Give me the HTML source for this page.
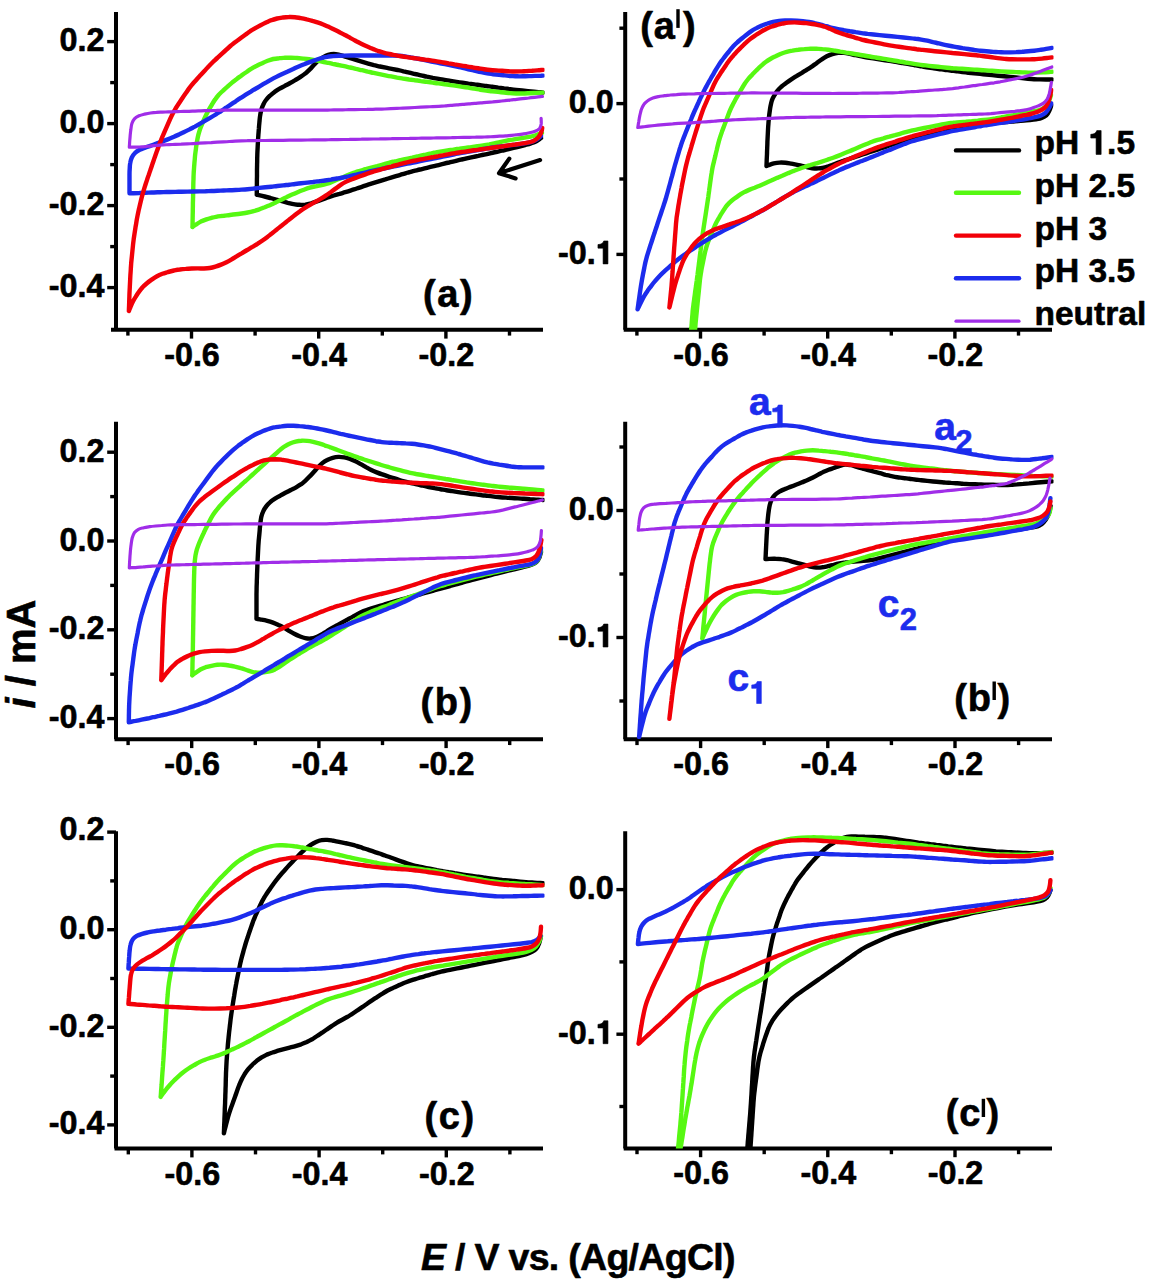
<!DOCTYPE html>
<html><head><meta charset="utf-8"><style>html,body{margin:0;padding:0;background:#fff;overflow:hidden;}svg{display:block;}text{stroke:#000;stroke-width:0.6px;stroke-linejoin:round;}text.bl{stroke:#1c2ced;}tspan.h1{fill-opacity:0;stroke-opacity:0;}</style></head>
<body><svg width="1149" height="1280" viewBox="0 0 1149 1280" font-family="'Liberation Sans', sans-serif" font-weight="bold">
<rect width="1149" height="1280" fill="#fff"/>
<line x1="116.0" y1="12" x2="116.0" y2="329.8" stroke="#000" stroke-width="4.0"/>
<line x1="111" y1="329.8" x2="543" y2="329.8" stroke="#000" stroke-width="4.0"/>
<line x1="107.2" y1="41.6" x2="116.0" y2="41.6" stroke="#000" stroke-width="3.4"/>
<text x="104.5" y="51.1" text-anchor="end" font-size="32.3">0.2</text>
<line x1="110.2" y1="82.6" x2="116.0" y2="82.6" stroke="#000" stroke-width="3.4"/>
<line x1="107.2" y1="123.6" x2="116.0" y2="123.6" stroke="#000" stroke-width="3.4"/>
<text x="104.5" y="133.1" text-anchor="end" font-size="32.3">0.0</text>
<line x1="110.2" y1="164.6" x2="116.0" y2="164.6" stroke="#000" stroke-width="3.4"/>
<line x1="107.2" y1="205.6" x2="116.0" y2="205.6" stroke="#000" stroke-width="3.4"/>
<text x="104.5" y="215.1" text-anchor="end" font-size="32.3">-0.2</text>
<line x1="110.2" y1="246.6" x2="116.0" y2="246.6" stroke="#000" stroke-width="3.4"/>
<line x1="107.2" y1="287.6" x2="116.0" y2="287.6" stroke="#000" stroke-width="3.4"/>
<text x="104.5" y="297.1" text-anchor="end" font-size="32.3">-0.4</text>
<line x1="127.9" y1="329.8" x2="127.9" y2="335.6" stroke="#000" stroke-width="3.4"/>
<line x1="191.5" y1="329.8" x2="191.5" y2="338.6" stroke="#000" stroke-width="3.4"/>
<text x="192.0" y="365.8" text-anchor="middle" font-size="32.3">-0.6</text>
<line x1="255.1" y1="329.8" x2="255.1" y2="335.6" stroke="#000" stroke-width="3.4"/>
<line x1="318.7" y1="329.8" x2="318.7" y2="338.6" stroke="#000" stroke-width="3.4"/>
<text x="319.2" y="365.8" text-anchor="middle" font-size="32.3">-0.4</text>
<line x1="382.3" y1="329.8" x2="382.3" y2="335.6" stroke="#000" stroke-width="3.4"/>
<line x1="445.9" y1="329.8" x2="445.9" y2="338.6" stroke="#000" stroke-width="3.4"/>
<text x="446.4" y="365.8" text-anchor="middle" font-size="32.3">-0.2</text>
<line x1="509.5" y1="329.8" x2="509.5" y2="335.6" stroke="#000" stroke-width="3.4"/>
<line x1="625.2" y1="12" x2="625.2" y2="329.8" stroke="#000" stroke-width="4.0"/>
<line x1="623.7" y1="329.8" x2="1052" y2="329.8" stroke="#000" stroke-width="4.0"/>
<line x1="619.4000000000001" y1="28.2" x2="625.2" y2="28.2" stroke="#000" stroke-width="3.4"/>
<line x1="616.4000000000001" y1="103.6" x2="625.2" y2="103.6" stroke="#000" stroke-width="3.4"/>
<text x="613.7" y="113.1" text-anchor="end" font-size="32.3">0.0</text>
<line x1="619.4000000000001" y1="179.0" x2="625.2" y2="179.0" stroke="#000" stroke-width="3.4"/>
<line x1="616.4000000000001" y1="254.4" x2="625.2" y2="254.4" stroke="#000" stroke-width="3.4"/>
<text x="613.7" y="263.9" text-anchor="end" font-size="32.3">-0.<tspan class="h1">1</tspan></text>
<line x1="636.9" y1="329.8" x2="636.9" y2="335.6" stroke="#000" stroke-width="3.4"/>
<line x1="700.5" y1="329.8" x2="700.5" y2="338.6" stroke="#000" stroke-width="3.4"/>
<text x="701.0" y="365.8" text-anchor="middle" font-size="32.3">-0.6</text>
<line x1="764.1" y1="329.8" x2="764.1" y2="335.6" stroke="#000" stroke-width="3.4"/>
<line x1="827.7" y1="329.8" x2="827.7" y2="338.6" stroke="#000" stroke-width="3.4"/>
<text x="828.2" y="365.8" text-anchor="middle" font-size="32.3">-0.4</text>
<line x1="891.3" y1="329.8" x2="891.3" y2="335.6" stroke="#000" stroke-width="3.4"/>
<line x1="954.9" y1="329.8" x2="954.9" y2="338.6" stroke="#000" stroke-width="3.4"/>
<text x="955.4" y="365.8" text-anchor="middle" font-size="32.3">-0.2</text>
<line x1="1018.5" y1="329.8" x2="1018.5" y2="335.6" stroke="#000" stroke-width="3.4"/>
<line x1="116.0" y1="421.8" x2="116.0" y2="739.3" stroke="#000" stroke-width="4.0"/>
<line x1="114.5" y1="739.3" x2="543" y2="739.3" stroke="#000" stroke-width="4.0"/>
<line x1="107.2" y1="452.2" x2="116.0" y2="452.2" stroke="#000" stroke-width="3.4"/>
<text x="104.5" y="461.7" text-anchor="end" font-size="32.3">0.2</text>
<line x1="110.2" y1="496.6" x2="116.0" y2="496.6" stroke="#000" stroke-width="3.4"/>
<line x1="107.2" y1="541.0" x2="116.0" y2="541.0" stroke="#000" stroke-width="3.4"/>
<text x="104.5" y="550.5" text-anchor="end" font-size="32.3">0.0</text>
<line x1="110.2" y1="585.4" x2="116.0" y2="585.4" stroke="#000" stroke-width="3.4"/>
<line x1="107.2" y1="629.8" x2="116.0" y2="629.8" stroke="#000" stroke-width="3.4"/>
<text x="104.5" y="639.3" text-anchor="end" font-size="32.3">-0.2</text>
<line x1="110.2" y1="674.2" x2="116.0" y2="674.2" stroke="#000" stroke-width="3.4"/>
<line x1="107.2" y1="718.6" x2="116.0" y2="718.6" stroke="#000" stroke-width="3.4"/>
<text x="104.5" y="728.1" text-anchor="end" font-size="32.3">-0.4</text>
<line x1="128.1" y1="739.3" x2="128.1" y2="745.0999999999999" stroke="#000" stroke-width="3.4"/>
<line x1="191.7" y1="739.3" x2="191.7" y2="748.0999999999999" stroke="#000" stroke-width="3.4"/>
<text x="192.2" y="775.3" text-anchor="middle" font-size="32.3">-0.6</text>
<line x1="255.3" y1="739.3" x2="255.3" y2="745.0999999999999" stroke="#000" stroke-width="3.4"/>
<line x1="318.9" y1="739.3" x2="318.9" y2="748.0999999999999" stroke="#000" stroke-width="3.4"/>
<text x="319.4" y="775.3" text-anchor="middle" font-size="32.3">-0.4</text>
<line x1="382.5" y1="739.3" x2="382.5" y2="745.0999999999999" stroke="#000" stroke-width="3.4"/>
<line x1="446.1" y1="739.3" x2="446.1" y2="748.0999999999999" stroke="#000" stroke-width="3.4"/>
<text x="446.6" y="775.3" text-anchor="middle" font-size="32.3">-0.2</text>
<line x1="509.7" y1="739.3" x2="509.7" y2="745.0999999999999" stroke="#000" stroke-width="3.4"/>
<line x1="625.2" y1="421.8" x2="625.2" y2="739.3" stroke="#000" stroke-width="4.0"/>
<line x1="623.7" y1="739.3" x2="1052" y2="739.3" stroke="#000" stroke-width="4.0"/>
<line x1="619.4000000000001" y1="447.0" x2="625.2" y2="447.0" stroke="#000" stroke-width="3.4"/>
<line x1="616.4000000000001" y1="510.5" x2="625.2" y2="510.5" stroke="#000" stroke-width="3.4"/>
<text x="613.7" y="520.0" text-anchor="end" font-size="32.3">0.0</text>
<line x1="619.4000000000001" y1="574.0" x2="625.2" y2="574.0" stroke="#000" stroke-width="3.4"/>
<line x1="616.4000000000001" y1="637.5" x2="625.2" y2="637.5" stroke="#000" stroke-width="3.4"/>
<text x="613.7" y="647.0" text-anchor="end" font-size="32.3">-0.<tspan class="h1">1</tspan></text>
<line x1="619.4000000000001" y1="701.0" x2="625.2" y2="701.0" stroke="#000" stroke-width="3.4"/>
<line x1="637.0" y1="739.3" x2="637.0" y2="745.0999999999999" stroke="#000" stroke-width="3.4"/>
<line x1="700.6" y1="739.3" x2="700.6" y2="748.0999999999999" stroke="#000" stroke-width="3.4"/>
<text x="701.1" y="775.3" text-anchor="middle" font-size="32.3">-0.6</text>
<line x1="764.2" y1="739.3" x2="764.2" y2="745.0999999999999" stroke="#000" stroke-width="3.4"/>
<line x1="827.8" y1="739.3" x2="827.8" y2="748.0999999999999" stroke="#000" stroke-width="3.4"/>
<text x="828.3" y="775.3" text-anchor="middle" font-size="32.3">-0.4</text>
<line x1="891.4" y1="739.3" x2="891.4" y2="745.0999999999999" stroke="#000" stroke-width="3.4"/>
<line x1="955.0" y1="739.3" x2="955.0" y2="748.0999999999999" stroke="#000" stroke-width="3.4"/>
<text x="955.5" y="775.3" text-anchor="middle" font-size="32.3">-0.2</text>
<line x1="1018.6" y1="739.3" x2="1018.6" y2="745.0999999999999" stroke="#000" stroke-width="3.4"/>
<line x1="116.0" y1="831.3" x2="116.0" y2="1148.6" stroke="#000" stroke-width="4.0"/>
<line x1="114.5" y1="1148.6" x2="543" y2="1148.6" stroke="#000" stroke-width="4.0"/>
<line x1="107.2" y1="832.1" x2="116.0" y2="832.1" stroke="#000" stroke-width="3.4"/>
<text x="104.5" y="839.6" text-anchor="end" font-size="32.3">0.2</text>
<line x1="110.2" y1="880.9" x2="116.0" y2="880.9" stroke="#000" stroke-width="3.4"/>
<line x1="107.2" y1="929.7" x2="116.0" y2="929.7" stroke="#000" stroke-width="3.4"/>
<text x="104.5" y="939.2" text-anchor="end" font-size="32.3">0.0</text>
<line x1="110.2" y1="978.5" x2="116.0" y2="978.5" stroke="#000" stroke-width="3.4"/>
<line x1="107.2" y1="1027.3" x2="116.0" y2="1027.3" stroke="#000" stroke-width="3.4"/>
<text x="104.5" y="1036.8" text-anchor="end" font-size="32.3">-0.2</text>
<line x1="110.2" y1="1076.1" x2="116.0" y2="1076.1" stroke="#000" stroke-width="3.4"/>
<line x1="107.2" y1="1124.9" x2="116.0" y2="1124.9" stroke="#000" stroke-width="3.4"/>
<text x="104.5" y="1134.4" text-anchor="end" font-size="32.3">-0.4</text>
<line x1="128.3" y1="1148.6" x2="128.3" y2="1154.3999999999999" stroke="#000" stroke-width="3.4"/>
<line x1="191.9" y1="1148.6" x2="191.9" y2="1157.3999999999999" stroke="#000" stroke-width="3.4"/>
<text x="192.4" y="1184.6" text-anchor="middle" font-size="32.3">-0.6</text>
<line x1="255.5" y1="1148.6" x2="255.5" y2="1154.3999999999999" stroke="#000" stroke-width="3.4"/>
<line x1="319.1" y1="1148.6" x2="319.1" y2="1157.3999999999999" stroke="#000" stroke-width="3.4"/>
<text x="319.6" y="1184.6" text-anchor="middle" font-size="32.3">-0.4</text>
<line x1="382.7" y1="1148.6" x2="382.7" y2="1154.3999999999999" stroke="#000" stroke-width="3.4"/>
<line x1="446.3" y1="1148.6" x2="446.3" y2="1157.3999999999999" stroke="#000" stroke-width="3.4"/>
<text x="446.8" y="1184.6" text-anchor="middle" font-size="32.3">-0.2</text>
<line x1="509.9" y1="1148.6" x2="509.9" y2="1154.3999999999999" stroke="#000" stroke-width="3.4"/>
<line x1="625.2" y1="831.3" x2="625.2" y2="1148.4" stroke="#000" stroke-width="4.0"/>
<line x1="623.7" y1="1148.4" x2="1052" y2="1148.4" stroke="#000" stroke-width="4.0"/>
<line x1="616.4000000000001" y1="889.6" x2="625.2" y2="889.6" stroke="#000" stroke-width="3.4"/>
<text x="613.7" y="899.1" text-anchor="end" font-size="32.3">0.0</text>
<line x1="619.4000000000001" y1="961.9" x2="625.2" y2="961.9" stroke="#000" stroke-width="3.4"/>
<line x1="616.4000000000001" y1="1034.2" x2="625.2" y2="1034.2" stroke="#000" stroke-width="3.4"/>
<text x="613.7" y="1043.7" text-anchor="end" font-size="32.3">-0.<tspan class="h1">1</tspan></text>
<line x1="619.4000000000001" y1="1106.5" x2="625.2" y2="1106.5" stroke="#000" stroke-width="3.4"/>
<line x1="637.0" y1="1148.4" x2="637.0" y2="1154.2" stroke="#000" stroke-width="3.4"/>
<line x1="700.6" y1="1148.4" x2="700.6" y2="1157.2" stroke="#000" stroke-width="3.4"/>
<text x="701.1" y="1184.4" text-anchor="middle" font-size="32.3">-0.6</text>
<line x1="764.2" y1="1148.4" x2="764.2" y2="1154.2" stroke="#000" stroke-width="3.4"/>
<line x1="827.8" y1="1148.4" x2="827.8" y2="1157.2" stroke="#000" stroke-width="3.4"/>
<text x="828.3" y="1184.4" text-anchor="middle" font-size="32.3">-0.4</text>
<line x1="891.4" y1="1148.4" x2="891.4" y2="1154.2" stroke="#000" stroke-width="3.4"/>
<line x1="955.0" y1="1148.4" x2="955.0" y2="1157.2" stroke="#000" stroke-width="3.4"/>
<text x="955.5" y="1184.4" text-anchor="middle" font-size="32.3">-0.2</text>
<line x1="1018.6" y1="1148.4" x2="1018.6" y2="1154.2" stroke="#000" stroke-width="3.4"/>
<text x="423" y="306.8" font-size="38" letter-spacing="1.6">(a)</text>
<text x="420.5" y="715" font-size="38" letter-spacing="1.6">(b)</text>
<text x="424.5" y="1128.5" font-size="38" letter-spacing="1.6">(c)</text>
<text x="640.3" y="38.5" font-size="38" letter-spacing="0.8">(a</text>
<rect x="676.3" y="9.2" width="3.4" height="18.7" fill="#000"/>
<text x="683" y="38.5" font-size="38">)</text>
<text x="954.3" y="710.5" font-size="38" letter-spacing="0.8">(b</text>
<rect x="992.5" y="681.5" width="3.4" height="18.5" fill="#000"/>
<text x="997.5" y="710.5" font-size="38">)</text>
<text x="945.8" y="1126" font-size="38" letter-spacing="0.8">(c</text>
<rect x="981.7" y="1098.8" width="3.4" height="18.200000000000045" fill="#000"/>
<text x="986.5" y="1126" font-size="38">)</text>
<line x1="956" y1="150.4" x2="1019" y2="150.4" stroke="#000000" stroke-width="4.4" stroke-linecap="round"/>
<text x="1034.5" y="154.4" font-size="33.5">pH <tspan class="h1">1</tspan>.5</text>
<line x1="956" y1="192.8" x2="1019" y2="192.8" stroke="#56f812" stroke-width="4.4" stroke-linecap="round"/>
<text x="1034.5" y="196.8" font-size="33.5">pH 2.5</text>
<line x1="956" y1="235.6" x2="1019" y2="235.6" stroke="#f20008" stroke-width="4.4" stroke-linecap="round"/>
<text x="1034.5" y="239.6" font-size="33.5">pH 3</text>
<line x1="956" y1="278.3" x2="1019" y2="278.3" stroke="#1c2ced" stroke-width="4.4" stroke-linecap="round"/>
<text x="1034.5" y="282.3" font-size="33.5">pH 3.5</text>
<line x1="956" y1="321.2" x2="1019" y2="321.2" stroke="#a02de8" stroke-width="3.2" stroke-linecap="round"/>
<text x="1034.5" y="325.2" font-size="33.5">neutral</text>
<text x="421" y="1270.4" font-size="37.5" letter-spacing="-0.7"><tspan font-style="italic">E</tspan> / V vs. (Ag/AgCl)</text>
<text transform="translate(34.5,708.5) rotate(-90)" font-size="40"><tspan font-style="italic">i</tspan> / mA</text>
<text x="749" y="414.7" font-size="39" fill="#1c2ced" class="bl">a</text><text x="770.6" y="427" font-size="31" fill="#1c2ced" class="bl"><tspan class="h1">1</tspan></text>
<text x="934.2" y="439.5" font-size="39" fill="#1c2ced" class="bl">a</text><text x="955.3" y="452" font-size="31" fill="#1c2ced" class="bl">2</text>
<text x="727.4" y="691" font-size="39" fill="#1c2ced" class="bl">c</text><text x="749.6" y="703.5" font-size="31" fill="#1c2ced" class="bl"><tspan class="h1">1</tspan></text>
<text x="877.7" y="616.6" font-size="39" fill="#1c2ced" class="bl">c</text><text x="899.8" y="630" font-size="31" fill="#1c2ced" class="bl">2</text>
<path d="M540.1,160.1 L499.5,173 M509.3,158.6 L499,173.2 L515.6,178.4" fill="none" stroke="#000" stroke-width="4.2" stroke-linecap="round" stroke-linejoin="round"/>
<clipPath id="cla"><rect x="116.0" y="0" width="428.5" height="329.8"/></clipPath>
<clipPath id="clap"><rect x="625.2" y="0" width="428.29999999999995" height="329.8"/></clipPath>
<clipPath id="clb"><rect x="116.0" y="409.8" width="428.5" height="329.49999999999994"/></clipPath>
<clipPath id="clbp"><rect x="625.2" y="409.8" width="428.29999999999995" height="329.49999999999994"/></clipPath>
<clipPath id="clc"><rect x="116.0" y="819.3" width="428.5" height="329.29999999999995"/></clipPath>
<clipPath id="clcp"><rect x="625.2" y="819.3" width="428.29999999999995" height="329.10000000000014"/></clipPath>
<g clip-path="url(#cla)">
<path d="M541.0,138.0 C540.2,138.5 538.0,140.4 536.3,141.3 C534.6,142.2 532.7,142.8 530.9,143.4 C529.0,144.1 527.1,144.5 525.1,145.0 C523.2,145.5 521.2,146.0 519.3,146.5 C517.4,147.0 515.4,147.5 513.5,147.9 C511.5,148.4 509.6,148.9 507.7,149.4 C505.7,149.8 503.8,150.3 501.8,150.7 C499.9,151.1 497.9,151.6 496.0,152.0 C494.0,152.4 492.0,152.9 490.1,153.3 C488.1,153.7 486.2,154.1 484.2,154.6 C482.3,155.0 480.3,155.4 478.4,155.9 C476.4,156.3 474.5,156.7 472.5,157.1 C470.6,157.6 468.6,158.0 466.6,158.4 C464.7,158.9 462.7,159.3 460.8,159.7 C458.8,160.2 456.9,160.6 454.9,161.1 C453.0,161.5 451.1,162.0 449.1,162.5 C447.2,162.9 445.2,163.4 443.3,163.9 C441.3,164.4 439.4,164.8 437.4,165.3 C435.5,165.8 433.6,166.2 431.6,166.7 C429.7,167.2 427.7,167.6 425.8,168.1 C423.8,168.6 421.9,169.0 419.9,169.5 C418.0,170.0 416.1,170.4 414.1,170.9 C412.2,171.4 410.3,172.0 408.3,172.5 C406.4,173.1 404.5,173.6 402.6,174.2 C400.7,174.8 398.7,175.3 396.8,175.9 C394.9,176.5 393.0,177.1 391.1,177.6 C389.2,178.2 387.2,178.8 385.3,179.4 C383.4,179.9 381.5,180.5 379.6,181.1 C377.7,181.7 375.8,182.3 373.8,182.9 C371.9,183.5 370.0,184.1 368.1,184.7 C366.2,185.3 364.3,186.0 362.4,186.6 C360.5,187.2 358.6,187.9 356.7,188.5 C354.8,189.1 353.0,189.8 351.1,190.4 C349.2,191.0 347.2,191.6 345.3,192.2 C343.4,192.8 341.5,193.3 339.6,193.9 C337.7,194.4 335.7,194.9 333.8,195.5 C331.9,196.1 330.0,196.7 328.1,197.3 C326.2,198.0 324.4,198.7 322.5,199.4 C320.6,200.1 318.7,200.8 316.8,201.4 C314.9,202.1 313.1,202.7 311.1,203.3 C309.2,203.8 307.3,204.3 305.4,204.6 C303.4,204.8 301.5,204.9 299.5,204.8 C297.5,204.8 295.6,204.4 293.6,204.1 C291.7,203.8 289.7,203.2 287.8,202.8 C285.8,202.3 283.9,201.8 282.0,201.2 C280.0,200.7 278.1,200.2 276.2,199.6 C274.3,199.1 272.3,198.6 270.4,198.0 C268.5,197.5 266.5,197.0 264.6,196.5 C262.7,196.1 260.1,195.5 258.8,195.2 C257.5,194.9 257.1,194.9 256.8,194.8 M256.8,194.5 C256.8,193.5 256.8,190.5 256.8,188.5 C256.9,186.5 256.9,184.5 256.9,182.5 C256.9,180.5 256.9,178.5 257.0,176.5 C257.0,174.5 257.0,172.5 257.0,170.4 C257.0,168.4 257.1,166.4 257.1,164.4 C257.2,162.4 257.2,160.4 257.2,158.4 C257.3,156.4 257.3,154.4 257.4,152.4 C257.5,150.4 257.6,148.4 257.7,146.4 C257.8,144.4 257.9,142.4 258.0,140.4 C258.1,138.4 258.3,136.4 258.4,134.4 C258.6,132.4 258.7,130.4 258.9,128.4 C259.0,126.4 259.2,124.4 259.4,122.4 C259.6,120.4 259.7,118.4 260.0,116.5 C260.3,114.5 260.6,112.5 261.1,110.6 C261.6,108.7 262.2,106.8 263.1,105.0 C263.9,103.3 264.8,101.5 266.0,100.0 C267.2,98.4 268.6,97.0 270.0,95.7 C271.4,94.3 273.0,93.1 274.6,91.9 C276.2,90.8 277.9,89.7 279.6,88.7 C281.3,87.7 283.1,86.8 284.9,85.8 C286.7,84.9 288.5,84.0 290.2,83.0 C292.0,82.1 293.7,81.1 295.4,80.0 C297.2,79.0 298.9,78.0 300.5,76.9 C302.2,75.8 303.9,74.7 305.4,73.4 C307.0,72.2 308.4,70.8 309.8,69.4 C311.2,68.0 312.5,66.4 313.8,65.0 C315.2,63.6 316.6,62.1 318.1,60.9 C319.6,59.6 321.2,58.4 322.9,57.4 C324.6,56.4 326.4,55.4 328.2,54.8 C330.0,54.3 331.9,54.0 333.8,54.0 C335.6,54.0 337.6,54.5 339.5,54.9 C341.4,55.3 343.3,56.0 345.2,56.6 C347.1,57.1 349.1,57.7 351.0,58.3 C352.9,58.9 354.8,59.5 356.7,60.1 C358.6,60.7 360.5,61.3 362.5,61.9 C364.4,62.5 366.3,63.1 368.2,63.6 C370.1,64.2 372.1,64.7 374.0,65.2 C376.0,65.6 377.9,66.1 379.9,66.5 C381.8,66.9 383.8,67.3 385.8,67.7 C387.7,68.1 389.7,68.4 391.7,68.8 C393.6,69.2 395.6,69.6 397.6,70.0 C399.5,70.4 401.5,70.8 403.4,71.3 C405.4,71.7 407.4,72.2 409.3,72.6 C411.3,73.1 413.2,73.5 415.2,74.0 C417.1,74.4 419.1,74.9 421.0,75.3 C423.0,75.8 424.9,76.2 426.9,76.7 C428.8,77.1 430.8,77.5 432.8,77.9 C434.7,78.2 436.7,78.6 438.7,78.9 C440.7,79.2 442.6,79.6 444.6,79.9 C446.6,80.2 448.6,80.6 450.6,80.9 C452.5,81.2 454.5,81.5 456.5,81.8 C458.5,82.2 460.5,82.5 462.4,82.7 C464.4,83.0 466.4,83.3 468.4,83.6 C470.4,83.8 472.4,84.1 474.3,84.4 C476.3,84.7 478.3,84.9 480.3,85.2 C482.3,85.5 484.3,85.7 486.3,86.0 C488.3,86.3 490.2,86.5 492.2,86.8 C494.2,87.1 496.2,87.3 498.2,87.6 C500.2,87.8 502.2,88.1 504.1,88.4 C506.1,88.6 508.1,88.9 510.1,89.1 C512.1,89.4 514.1,89.7 516.1,89.9 C518.1,90.1 520.1,90.3 522.1,90.5 C524.0,90.7 526.0,90.9 528.0,91.1 C530.0,91.3 532.0,91.5 534.0,91.7 C536.0,91.9 538.5,92.2 540.0,92.3 C541.5,92.5 542.5,92.6 543.0,92.6" fill="none" stroke="#000000" stroke-width="4.4" stroke-linejoin="round" stroke-linecap="round"/>
<path d="M542.0,133.0 C541.1,133.3 538.3,134.4 536.4,135.0 C534.5,135.6 532.5,136.2 530.6,136.6 C528.7,137.0 526.7,137.3 524.7,137.7 C522.7,138.0 520.7,138.3 518.8,138.6 C516.8,138.9 514.8,139.2 512.8,139.6 C510.9,139.9 508.9,140.3 506.9,140.7 C505.0,141.1 503.0,141.5 501.0,141.9 C499.1,142.4 497.1,142.8 495.2,143.2 C493.2,143.6 491.2,144.0 489.3,144.4 C487.3,144.7 485.3,145.1 483.3,145.4 C481.4,145.7 479.4,146.0 477.4,146.2 C475.4,146.5 473.4,146.8 471.4,147.1 C469.4,147.4 467.5,147.6 465.5,147.9 C463.5,148.2 461.5,148.5 459.5,148.8 C457.5,149.0 455.5,149.3 453.6,149.6 C451.6,149.9 449.6,150.1 447.6,150.4 C445.6,150.7 443.6,151.0 441.7,151.3 C439.7,151.7 437.7,152.1 435.8,152.5 C433.8,152.8 431.8,153.3 429.9,153.7 C427.9,154.1 426.0,154.6 424.0,155.0 C422.0,155.4 420.1,155.8 418.1,156.3 C416.2,156.7 414.2,157.1 412.3,157.6 C410.3,158.0 408.3,158.4 406.4,158.8 C404.4,159.3 402.5,159.7 400.5,160.1 C398.5,160.6 396.6,161.0 394.6,161.5 C392.7,161.9 390.7,162.4 388.8,162.9 C386.9,163.4 384.9,163.9 383.0,164.5 C381.1,165.0 379.1,165.5 377.2,166.1 C375.3,166.6 373.3,167.1 371.4,167.6 C369.5,168.2 367.5,168.7 365.6,169.2 C363.7,169.8 361.7,170.3 359.8,170.9 C357.9,171.4 356.0,172.0 354.1,172.7 C352.2,173.3 350.3,174.1 348.5,174.8 C346.6,175.6 344.8,176.4 343.0,177.2 C341.1,178.0 339.3,178.8 337.4,179.6 C335.6,180.4 333.8,181.2 331.9,181.9 C330.1,182.7 328.2,183.4 326.3,184.0 C324.4,184.6 322.5,185.0 320.5,185.4 C318.6,185.9 316.6,186.1 314.6,186.5 C312.7,186.9 310.8,187.4 308.9,187.9 C306.9,188.5 305.1,189.3 303.2,190.0 C301.3,190.7 299.5,191.4 297.6,192.2 C295.8,193.0 293.9,193.8 292.1,194.6 C290.3,195.4 288.5,196.3 286.7,197.1 C284.9,198.0 283.1,198.9 281.3,199.8 C279.5,200.6 277.7,201.5 275.9,202.4 C274.0,203.2 272.2,204.1 270.4,204.9 C268.5,205.7 266.7,206.4 264.8,207.2 C263.0,207.9 261.1,208.7 259.2,209.4 C257.4,210.0 255.5,210.7 253.6,211.2 C251.6,211.8 249.7,212.2 247.7,212.5 C245.8,212.9 243.8,213.2 241.8,213.5 C239.8,213.8 237.8,214.1 235.8,214.3 C233.8,214.6 231.9,214.8 229.9,215.0 C227.9,215.3 225.9,215.4 223.9,215.7 C221.9,215.9 219.9,216.1 217.9,216.4 C216.0,216.8 214.0,217.2 212.1,217.7 C210.2,218.2 208.2,218.7 206.4,219.4 C204.5,220.1 202.6,220.8 200.8,221.6 C199.1,222.5 197.1,223.8 195.7,224.7 C194.4,225.6 193.0,226.6 192.5,227.0 M192.5,227.0 C192.5,226.0 192.6,223.0 192.6,221.0 C192.6,219.0 192.7,217.0 192.7,215.0 C192.8,213.0 192.8,211.0 192.8,209.0 C192.9,207.0 192.9,205.0 192.9,203.0 C193.0,201.0 193.0,199.0 193.1,197.0 C193.1,195.0 193.1,193.0 193.2,191.0 C193.2,189.0 193.3,187.0 193.3,185.0 C193.3,183.0 193.4,181.0 193.5,179.0 C193.5,177.0 193.6,175.0 193.7,173.0 C193.8,171.0 194.0,169.0 194.1,167.0 C194.3,165.0 194.4,163.0 194.6,161.0 C194.8,159.0 194.9,157.1 195.1,155.1 C195.4,153.1 195.6,151.1 195.9,149.1 C196.1,147.1 196.4,145.1 196.7,143.2 C197.1,141.2 197.4,139.2 197.8,137.3 C198.2,135.3 198.7,133.4 199.3,131.5 C199.9,129.6 200.6,127.8 201.3,125.9 C202.1,124.0 202.8,122.2 203.6,120.3 C204.4,118.5 205.2,116.7 206.1,114.9 C207.0,113.1 207.9,111.4 208.9,109.6 C209.9,107.9 210.9,106.2 212.0,104.5 C213.0,102.8 214.0,101.0 215.2,99.4 C216.3,97.8 217.5,96.2 218.8,94.7 C220.2,93.3 221.6,91.9 223.1,90.6 C224.5,89.2 226.0,87.9 227.5,86.6 C229.0,85.2 230.5,83.9 232.1,82.6 C233.6,81.4 235.2,80.1 236.8,78.9 C238.4,77.7 240.0,76.6 241.6,75.4 C243.3,74.2 244.9,73.1 246.6,72.0 C248.2,70.8 249.8,69.7 251.5,68.7 C253.2,67.6 255.0,66.6 256.8,65.7 C258.5,64.8 260.3,64.0 262.2,63.2 C264.0,62.3 265.8,61.5 267.7,60.8 C269.5,60.1 271.4,59.5 273.3,59.0 C275.2,58.6 277.2,58.4 279.2,58.2 C281.1,57.9 283.1,57.9 285.1,57.8 C287.1,57.7 289.1,57.7 291.1,57.7 C293.1,57.7 295.1,57.9 297.1,58.0 C299.1,58.2 301.1,58.4 303.1,58.6 C305.0,58.8 307.0,59.0 309.0,59.3 C311.0,59.6 313.0,59.9 314.9,60.2 C316.9,60.6 318.9,61.0 320.8,61.4 C322.8,61.8 324.7,62.2 326.7,62.6 C328.7,63.0 330.6,63.3 332.6,63.8 C334.5,64.2 336.5,64.5 338.5,65.0 C340.4,65.4 342.4,65.8 344.3,66.2 C346.3,66.6 348.2,67.1 350.2,67.5 C352.1,68.0 354.1,68.4 356.0,68.9 C358.0,69.3 359.9,69.8 361.9,70.2 C363.8,70.7 365.8,71.1 367.7,71.6 C369.7,72.0 371.6,72.5 373.6,72.9 C375.5,73.3 377.5,73.7 379.5,74.1 C381.4,74.5 383.4,74.9 385.4,75.3 C387.3,75.7 389.3,76.1 391.2,76.4 C393.2,76.8 395.2,77.2 397.1,77.6 C399.1,77.9 401.1,78.3 403.0,78.6 C405.0,78.9 407.0,79.2 409.0,79.5 C411.0,79.7 412.9,80.0 414.9,80.3 C416.9,80.5 418.9,80.8 420.9,81.1 C422.9,81.3 424.8,81.6 426.8,81.8 C428.8,82.1 430.8,82.4 432.8,82.6 C434.8,82.9 436.7,83.2 438.7,83.4 C440.7,83.7 442.7,84.0 444.7,84.3 C446.6,84.5 448.6,84.8 450.6,85.1 C452.6,85.3 454.6,85.6 456.6,85.9 C458.5,86.2 460.5,86.5 462.5,86.8 C464.5,87.1 466.4,87.4 468.4,87.7 C470.4,88.1 472.4,88.4 474.3,88.7 C476.3,89.0 478.3,89.4 480.3,89.7 C482.2,90.0 484.2,90.3 486.2,90.6 C488.2,90.8 490.2,91.1 492.1,91.3 C494.1,91.5 496.1,91.7 498.1,91.9 C500.1,92.2 502.1,92.4 504.1,92.5 C506.1,92.7 508.1,93.0 510.1,93.1 C512.0,93.3 514.0,93.4 516.0,93.5 C518.0,93.6 520.0,93.5 522.0,93.5 C524.0,93.5 526.0,93.4 528.0,93.3 C530.0,93.2 532.0,93.1 534.0,93.0 C536.0,92.9 538.5,92.8 540.0,92.7 C541.5,92.7 542.5,92.6 543.0,92.6" fill="none" stroke="#56f812" stroke-width="4.4" stroke-linejoin="round" stroke-linecap="round"/>
<path d="M541.0,136.0 C540.3,136.6 538.2,138.7 536.6,139.7 C535.0,140.6 533.2,141.3 531.4,141.9 C529.5,142.5 527.5,142.8 525.6,143.2 C523.6,143.5 521.7,143.8 519.7,144.1 C517.7,144.4 515.7,144.7 513.7,144.9 C511.7,145.2 509.8,145.4 507.8,145.6 C505.8,145.8 503.8,146.0 501.8,146.3 C499.8,146.5 497.8,146.8 495.9,147.0 C493.9,147.3 491.9,147.7 489.9,148.0 C488.0,148.3 486.0,148.7 484.0,149.0 C482.0,149.4 480.1,149.7 478.1,150.1 C476.1,150.4 474.2,150.7 472.2,151.1 C470.2,151.4 468.2,151.8 466.3,152.1 C464.3,152.5 462.3,152.8 460.4,153.2 C458.4,153.6 456.4,153.9 454.5,154.3 C452.5,154.7 450.5,155.1 448.6,155.5 C446.6,155.9 444.7,156.3 442.7,156.7 C440.7,157.1 438.8,157.5 436.8,157.9 C434.8,158.3 432.9,158.7 430.9,159.0 C429.0,159.4 427.0,159.8 425.0,160.2 C423.1,160.6 421.1,161.0 419.1,161.4 C417.2,161.8 415.2,162.2 413.3,162.6 C411.3,163.0 409.3,163.4 407.4,163.7 C405.4,164.1 403.4,164.5 401.5,164.9 C399.5,165.3 397.6,165.7 395.6,166.1 C393.6,166.5 391.7,166.9 389.7,167.3 C387.7,167.6 385.8,168.0 383.8,168.5 C381.9,168.9 379.9,169.3 378.0,169.7 C376.0,170.1 374.0,170.6 372.1,171.0 C370.1,171.5 368.2,171.9 366.2,172.3 C364.3,172.8 362.3,173.2 360.4,173.6 C358.4,174.1 356.5,174.5 354.5,175.0 C352.6,175.4 350.6,175.8 348.7,176.3 C346.7,176.7 344.7,177.1 342.8,177.5 C340.8,177.8 338.8,178.2 336.9,178.5 C334.9,178.9 332.9,179.2 331.0,179.6 C329.0,179.9 327.0,180.2 325.0,180.5 C323.1,180.8 321.1,181.0 319.1,181.3 C317.1,181.5 315.1,181.7 313.1,182.0 C311.1,182.2 309.1,182.4 307.2,182.6 C305.2,182.9 303.2,183.1 301.2,183.3 C299.2,183.6 297.2,183.8 295.2,184.0 C293.2,184.2 291.2,184.5 289.3,184.7 C287.3,184.9 285.3,185.2 283.3,185.4 C281.3,185.6 279.3,185.8 277.3,186.0 C275.3,186.2 273.3,186.5 271.4,186.7 C269.4,186.9 267.4,187.1 265.4,187.3 C263.4,187.5 261.4,187.7 259.4,187.9 C257.4,188.2 255.4,188.4 253.5,188.6 C251.5,188.8 249.5,189.0 247.5,189.2 C245.5,189.4 243.5,189.5 241.5,189.6 C239.5,189.8 237.5,189.9 235.5,190.0 C233.5,190.1 231.5,190.2 229.5,190.2 C227.5,190.3 225.5,190.4 223.5,190.5 C221.5,190.6 219.5,190.7 217.5,190.8 C215.5,190.9 213.5,191.0 211.5,191.0 C209.5,191.1 207.5,191.2 205.5,191.3 C203.5,191.3 201.5,191.4 199.5,191.4 C197.5,191.5 195.5,191.5 193.5,191.5 C191.5,191.6 189.5,191.6 187.5,191.6 C185.5,191.7 183.5,191.7 181.5,191.7 C179.5,191.8 177.5,191.8 175.5,191.9 C173.5,191.9 171.5,191.9 169.5,192.0 C167.5,192.0 165.5,192.1 163.5,192.1 C161.5,192.2 159.5,192.3 157.5,192.3 C155.5,192.4 153.5,192.5 151.5,192.5 C149.5,192.6 147.5,192.7 145.5,192.8 C143.5,192.8 141.5,192.9 139.5,193.0 C137.5,193.0 135.2,193.1 133.5,193.2 C131.8,193.2 130.2,193.3 129.5,193.3 M129.5,193.0 C129.5,192.0 129.5,189.0 129.5,187.0 C129.5,185.0 129.5,183.0 129.5,181.0 C129.5,179.0 129.5,177.0 129.5,175.0 C129.5,173.0 129.5,171.0 129.7,169.0 C129.8,167.0 129.8,165.0 130.2,163.1 C130.5,161.2 131.0,159.2 131.8,157.5 C132.6,155.9 133.7,154.3 135.0,153.0 C136.3,151.7 138.0,150.7 139.7,149.8 C141.4,149.0 143.4,148.3 145.2,147.6 C147.1,146.9 149.0,146.3 150.9,145.6 C152.8,144.9 154.7,144.3 156.5,143.6 C158.4,142.9 160.3,142.3 162.2,141.6 C164.1,140.9 165.9,140.2 167.8,139.4 C169.6,138.7 171.5,137.9 173.3,137.1 C175.1,136.2 176.9,135.4 178.8,134.6 C180.6,133.7 182.4,132.9 184.2,132.0 C186.0,131.2 187.8,130.3 189.6,129.4 C191.4,128.5 193.1,127.5 194.9,126.6 C196.7,125.6 198.4,124.6 200.1,123.6 C201.9,122.6 203.6,121.6 205.3,120.6 C207.1,119.6 208.8,118.6 210.5,117.6 C212.3,116.6 214.0,115.6 215.7,114.5 C217.4,113.5 219.0,112.4 220.7,111.3 C222.4,110.2 224.1,109.0 225.7,107.9 C227.4,106.8 229.0,105.7 230.7,104.6 C232.4,103.5 234.0,102.4 235.7,101.3 C237.4,100.1 239.0,99.0 240.7,97.9 C242.4,96.8 244.1,95.8 245.8,94.7 C247.5,93.6 249.2,92.6 250.9,91.6 C252.6,90.5 254.3,89.5 256.0,88.5 C257.8,87.5 259.5,86.4 261.2,85.4 C262.9,84.4 264.6,83.3 266.4,82.3 C268.1,81.3 269.8,80.3 271.6,79.3 C273.3,78.4 275.1,77.5 276.9,76.6 C278.7,75.7 280.5,74.9 282.3,74.0 C284.1,73.2 286.0,72.3 287.8,71.5 C289.6,70.6 291.4,69.8 293.2,69.0 C295.0,68.1 296.8,67.3 298.7,66.5 C300.5,65.7 302.4,64.9 304.2,64.2 C306.1,63.4 308.0,62.8 309.8,62.1 C311.7,61.4 313.6,60.7 315.5,60.0 C317.4,59.3 319.2,58.6 321.2,58.1 C323.1,57.5 325.0,57.1 326.9,56.8 C328.9,56.4 330.9,56.3 332.9,56.1 C334.9,56.0 336.9,55.9 338.9,55.8 C340.9,55.7 342.9,55.6 344.9,55.6 C346.9,55.5 348.9,55.5 350.9,55.5 C352.9,55.5 354.9,55.5 356.9,55.5 C358.9,55.5 360.9,55.5 362.9,55.5 C364.9,55.5 366.9,55.5 368.9,55.5 C370.9,55.5 372.9,55.5 374.9,55.5 C376.9,55.5 378.9,55.5 380.9,55.5 C382.9,55.5 384.9,55.5 386.9,55.5 C388.9,55.5 390.9,55.5 392.9,55.5 C394.9,55.5 396.9,55.6 398.9,55.7 C400.9,55.8 402.9,56.0 404.8,56.3 C406.8,56.6 408.8,57.0 410.7,57.4 C412.7,57.7 414.7,58.1 416.6,58.5 C418.6,58.9 420.6,59.3 422.5,59.7 C424.5,60.1 426.5,60.5 428.4,60.9 C430.4,61.3 432.3,61.7 434.3,62.1 C436.3,62.5 438.2,62.9 440.2,63.3 C442.2,63.7 444.1,64.0 446.1,64.4 C448.0,64.8 450.0,65.2 452.0,65.6 C453.9,66.0 455.9,66.4 457.9,66.8 C459.8,67.2 461.8,67.7 463.7,68.1 C465.7,68.6 467.6,69.0 469.6,69.5 C471.5,69.9 473.5,70.4 475.4,70.8 C477.4,71.3 479.3,71.8 481.3,72.2 C483.2,72.6 485.2,73.0 487.2,73.3 C489.1,73.7 491.1,73.9 493.1,74.2 C495.1,74.4 497.1,74.6 499.1,74.8 C501.1,75.0 503.0,75.3 505.0,75.4 C507.0,75.6 509.0,75.9 511.0,76.0 C513.0,76.1 515.0,76.3 517.0,76.3 C519.0,76.4 521.0,76.4 523.0,76.3 C525.0,76.3 527.0,76.2 529.0,76.1 C531.0,76.1 533.0,76.0 535.0,75.9 C537.0,75.8 539.7,75.7 541.0,75.7 C542.3,75.6 542.7,75.6 543.0,75.6" fill="none" stroke="#1c2ced" stroke-width="4.4" stroke-linejoin="round" stroke-linecap="round"/>
<path d="M542.5,128.0 C542.2,128.9 541.5,131.8 540.7,133.5 C539.9,135.2 538.8,136.9 537.5,138.2 C536.2,139.4 534.6,140.4 532.9,141.2 C531.2,141.9 529.2,142.3 527.3,142.6 C525.4,143.0 523.4,143.3 521.4,143.6 C519.4,143.9 517.4,144.2 515.4,144.5 C513.4,144.7 511.5,145.0 509.5,145.3 C507.5,145.6 505.5,145.9 503.5,146.2 C501.5,146.4 499.6,146.7 497.6,147.0 C495.6,147.3 493.6,147.6 491.6,147.8 C489.6,148.1 487.7,148.4 485.7,148.7 C483.7,148.9 481.7,149.2 479.7,149.5 C477.7,149.8 475.8,150.1 473.8,150.3 C471.8,150.6 469.8,150.9 467.8,151.2 C465.8,151.5 463.8,151.7 461.9,152.0 C459.9,152.3 457.9,152.7 455.9,153.0 C454.0,153.3 452.0,153.7 450.0,154.0 C448.0,154.4 446.1,154.8 444.1,155.1 C442.1,155.5 440.2,155.8 438.2,156.2 C436.2,156.5 434.2,156.9 432.3,157.3 C430.3,157.6 428.3,158.0 426.4,158.3 C424.4,158.7 422.4,159.1 420.4,159.4 C418.5,159.8 416.5,160.1 414.5,160.6 C412.6,161.0 410.6,161.4 408.7,161.9 C406.7,162.3 404.8,162.9 402.9,163.4 C400.9,163.9 399.0,164.4 397.1,165.0 C395.1,165.5 393.2,166.0 391.3,166.6 C389.3,167.1 387.4,167.6 385.5,168.2 C383.6,168.7 381.6,169.2 379.7,169.8 C377.8,170.3 375.8,170.8 373.9,171.4 C372.0,172.0 370.1,172.7 368.2,173.3 C366.3,174.0 364.5,174.7 362.6,175.4 C360.7,176.0 358.8,176.7 356.9,177.4 C355.0,178.1 353.1,178.8 351.3,179.5 C349.4,180.3 347.6,181.0 345.8,181.9 C344.0,182.8 342.3,183.8 340.7,184.9 C339.0,186.0 337.4,187.2 335.8,188.4 C334.2,189.5 332.6,190.8 331.0,192.0 C329.4,193.1 327.8,194.3 326.1,195.4 C324.4,196.6 322.8,197.6 321.0,198.7 C319.3,199.7 317.6,200.7 315.8,201.7 C314.1,202.7 312.4,203.6 310.6,204.6 C308.9,205.6 307.1,206.6 305.4,207.7 C303.7,208.7 302.0,209.8 300.4,210.9 C298.8,212.1 297.2,213.3 295.6,214.5 C294.0,215.8 292.5,217.0 290.9,218.3 C289.3,219.5 287.8,220.8 286.2,222.0 C284.6,223.3 283.1,224.5 281.5,225.8 C279.9,227.0 278.4,228.3 276.8,229.5 C275.2,230.8 273.7,232.0 272.1,233.3 C270.5,234.5 269.0,235.8 267.4,237.0 C265.8,238.2 264.2,239.4 262.5,240.5 C260.9,241.7 259.2,242.7 257.5,243.8 C255.8,244.8 254.1,245.9 252.4,246.9 C250.6,247.9 248.9,249.0 247.2,250.0 C245.5,251.0 243.8,252.0 242.1,253.1 C240.3,254.1 238.6,255.1 236.9,256.2 C235.2,257.2 233.5,258.3 231.7,259.3 C230.0,260.3 228.3,261.3 226.5,262.2 C224.7,263.1 222.9,263.9 221.1,264.6 C219.2,265.4 217.3,266.1 215.4,266.6 C213.5,267.2 211.6,267.7 209.7,268.0 C207.7,268.3 205.7,268.4 203.8,268.5 C201.8,268.5 199.8,268.4 197.8,268.4 C195.8,268.4 193.8,268.4 191.8,268.5 C189.8,268.6 187.8,268.7 185.8,268.9 C183.8,269.0 181.8,269.2 179.8,269.5 C177.8,269.7 175.9,270.1 173.9,270.5 C172.0,271.0 170.0,271.5 168.1,272.0 C166.2,272.6 164.3,273.1 162.4,273.8 C160.6,274.5 158.7,275.3 157.0,276.2 C155.3,277.1 153.6,278.3 152.0,279.4 C150.4,280.5 148.7,281.7 147.2,283.0 C145.7,284.3 144.2,285.6 142.8,287.0 C141.5,288.5 140.3,290.0 139.1,291.6 C137.9,293.2 136.8,294.9 135.8,296.6 C134.7,298.3 133.7,300.0 132.8,301.8 C131.9,303.6 131.0,305.8 130.4,307.3 C129.7,308.8 129.1,310.4 128.9,311.0 M128.9,311.0 C128.9,310.0 129.0,307.0 129.1,305.0 C129.2,303.0 129.2,301.0 129.3,299.0 C129.4,297.0 129.4,295.0 129.5,293.0 C129.6,291.0 129.7,289.0 129.8,287.0 C129.9,285.0 130.0,283.0 130.1,281.0 C130.2,279.0 130.3,277.0 130.4,275.0 C130.6,273.0 130.7,271.0 130.8,269.0 C130.9,267.0 131.1,265.0 131.2,263.0 C131.4,261.0 131.6,259.0 131.8,257.0 C132.0,255.1 132.2,253.1 132.4,251.1 C132.6,249.1 132.8,247.1 133.0,245.1 C133.2,243.1 133.5,241.1 133.7,239.1 C134.0,237.2 134.3,235.2 134.6,233.2 C134.9,231.2 135.2,229.2 135.5,227.3 C135.9,225.3 136.2,223.3 136.5,221.3 C136.8,219.4 137.2,217.4 137.6,215.4 C138.0,213.5 138.4,211.5 138.8,209.6 C139.3,207.6 139.7,205.7 140.2,203.7 C140.7,201.8 141.1,199.8 141.6,197.9 C142.1,195.9 142.6,194.0 143.2,192.1 C143.7,190.2 144.3,188.3 144.9,186.4 C145.5,184.4 146.2,182.5 146.8,180.6 C147.4,178.7 148.0,176.8 148.7,175.0 C149.3,173.1 150.0,171.2 150.6,169.3 C151.3,167.4 151.9,165.5 152.6,163.6 C153.2,161.7 153.9,159.8 154.5,157.9 C155.2,156.0 155.9,154.1 156.5,152.3 C157.2,150.4 157.9,148.5 158.6,146.6 C159.2,144.7 159.9,142.8 160.7,141.0 C161.4,139.1 162.2,137.3 163.0,135.4 C163.7,133.6 164.6,131.8 165.4,129.9 C166.2,128.1 167.0,126.3 167.8,124.4 C168.6,122.6 169.4,120.8 170.2,118.9 C171.0,117.1 171.9,115.3 172.8,113.5 C173.7,111.8 174.7,110.0 175.7,108.3 C176.8,106.6 177.9,105.0 179.0,103.3 C180.1,101.6 181.2,100.0 182.3,98.3 C183.4,96.6 184.5,95.0 185.7,93.3 C186.8,91.7 187.9,90.0 189.1,88.4 C190.3,86.8 191.5,85.2 192.8,83.7 C194.1,82.2 195.5,80.7 196.8,79.2 C198.1,77.7 199.5,76.3 200.9,74.8 C202.2,73.3 203.6,71.8 204.9,70.4 C206.3,68.9 207.6,67.4 209.0,66.0 C210.4,64.5 211.8,63.1 213.2,61.7 C214.7,60.3 216.2,59.0 217.6,57.6 C219.1,56.3 220.6,54.9 222.0,53.6 C223.5,52.2 225.0,50.8 226.5,49.5 C228.0,48.2 229.5,46.8 231.0,45.5 C232.5,44.3 234.1,43.0 235.7,41.8 C237.2,40.6 238.9,39.4 240.5,38.2 C242.1,37.0 243.7,35.9 245.3,34.7 C247.0,33.5 248.6,32.3 250.2,31.2 C251.9,30.1 253.6,29.1 255.3,28.1 C257.0,27.1 258.8,26.1 260.6,25.2 C262.4,24.3 264.2,23.4 266.0,22.5 C267.8,21.7 269.6,20.8 271.4,20.2 C273.3,19.5 275.2,19.0 277.1,18.5 C279.1,18.1 281.1,17.8 283.0,17.5 C285.0,17.2 287.0,17.0 288.9,17.0 C290.9,16.9 292.9,17.0 294.9,17.2 C296.9,17.4 298.8,17.8 300.8,18.1 C302.8,18.4 304.7,18.8 306.7,19.3 C308.6,19.7 310.5,20.3 312.4,20.9 C314.4,21.4 316.3,22.1 318.2,22.7 C320.0,23.3 321.9,24.0 323.8,24.7 C325.6,25.5 327.5,26.3 329.3,27.1 C331.1,28.0 332.9,28.9 334.7,29.8 C336.5,30.7 338.3,31.6 340.0,32.5 C341.8,33.4 343.6,34.3 345.4,35.2 C347.1,36.2 348.9,37.1 350.6,38.1 C352.4,39.0 354.2,40.0 355.9,41.0 C357.7,41.9 359.4,42.9 361.2,43.7 C363.0,44.6 364.8,45.5 366.7,46.3 C368.5,47.1 370.4,47.8 372.2,48.6 C374.1,49.3 375.9,50.1 377.8,50.8 C379.7,51.4 381.6,52.1 383.5,52.6 C385.4,53.2 387.3,53.6 389.3,54.0 C391.2,54.5 393.2,54.8 395.2,55.2 C397.1,55.6 399.1,56.0 401.1,56.3 C403.1,56.6 405.0,56.9 407.0,57.2 C409.0,57.5 411.0,57.7 413.0,58.0 C415.0,58.3 416.9,58.5 418.9,58.8 C420.9,59.1 422.9,59.3 424.9,59.6 C426.9,59.9 428.8,60.1 430.8,60.4 C432.8,60.7 434.8,61.1 436.7,61.4 C438.7,61.7 440.7,62.0 442.7,62.4 C444.6,62.7 446.6,63.0 448.6,63.4 C450.6,63.7 452.5,64.0 454.5,64.4 C456.5,64.7 458.5,65.0 460.4,65.3 C462.4,65.7 464.4,66.0 466.4,66.3 C468.3,66.7 470.3,67.0 472.3,67.3 C474.3,67.7 476.2,68.0 478.2,68.3 C480.2,68.6 482.2,69.0 484.1,69.2 C486.1,69.5 488.1,69.8 490.1,70.0 C492.1,70.2 494.1,70.3 496.1,70.4 C498.1,70.6 500.1,70.7 502.1,70.8 C504.1,71.0 506.1,71.1 508.1,71.2 C510.1,71.3 512.1,71.5 514.0,71.5 C516.0,71.5 518.0,71.5 520.0,71.4 C522.0,71.4 524.0,71.2 526.0,71.1 C528.0,71.0 530.0,70.8 532.0,70.7 C534.0,70.5 536.2,70.4 538.0,70.3 C539.8,70.1 542.2,70.0 543.0,69.9" fill="none" stroke="#f20008" stroke-width="4.4" stroke-linejoin="round" stroke-linecap="round"/>
<path d="M541.1,118.3 C541.1,119.3 541.4,122.3 541.2,124.0 C540.9,125.7 540.5,127.4 539.5,128.6 C538.4,129.8 536.8,130.6 535.1,131.3 C533.4,132.0 531.4,132.4 529.4,132.8 C527.5,133.2 525.5,133.6 523.6,133.9 C521.6,134.2 519.6,134.4 517.6,134.7 C515.6,134.9 513.6,135.1 511.6,135.3 C509.6,135.5 507.6,135.6 505.6,135.8 C503.6,136.0 501.6,136.1 499.6,136.2 C497.6,136.4 495.6,136.5 493.6,136.6 C491.6,136.7 489.6,136.8 487.6,136.9 C485.6,137.0 483.6,137.0 481.6,137.1 C479.6,137.1 477.6,137.1 475.6,137.2 C473.6,137.2 471.6,137.3 469.6,137.3 C467.6,137.3 465.6,137.4 463.6,137.4 C461.6,137.5 459.6,137.5 457.6,137.5 C455.6,137.6 453.6,137.6 451.6,137.7 C449.6,137.7 447.6,137.7 445.6,137.8 C443.6,137.8 441.6,137.9 439.6,137.9 C437.6,137.9 435.6,138.0 433.6,138.0 C431.6,138.0 429.6,138.1 427.6,138.1 C425.5,138.1 423.5,138.2 421.5,138.2 C419.5,138.2 417.5,138.3 415.5,138.3 C413.5,138.3 411.5,138.3 409.5,138.4 C407.5,138.4 405.5,138.4 403.5,138.5 C401.5,138.5 399.5,138.5 397.5,138.6 C395.5,138.6 393.5,138.6 391.5,138.7 C389.5,138.7 387.5,138.7 385.5,138.8 C383.5,138.8 381.5,138.8 379.5,138.9 C377.5,138.9 375.5,138.9 373.5,139.0 C371.5,139.0 369.5,139.0 367.5,139.1 C365.5,139.1 363.4,139.1 361.4,139.2 C359.4,139.2 357.4,139.2 355.4,139.3 C353.4,139.3 351.4,139.3 349.4,139.4 C347.4,139.4 345.4,139.4 343.4,139.5 C341.4,139.5 339.4,139.5 337.4,139.6 C335.4,139.6 333.4,139.7 331.4,139.7 C329.4,139.7 327.4,139.8 325.4,139.8 C323.4,139.8 321.4,139.8 319.4,139.9 C317.4,139.9 315.4,139.9 313.4,139.9 C311.4,140.0 309.4,140.0 307.4,140.0 C305.4,140.0 303.4,140.0 301.3,140.1 C299.3,140.1 297.3,140.1 295.3,140.1 C293.3,140.2 291.3,140.2 289.3,140.2 C287.3,140.2 285.3,140.2 283.3,140.3 C281.3,140.3 279.3,140.3 277.3,140.3 C275.3,140.4 273.3,140.4 271.3,140.4 C269.3,140.4 267.3,140.4 265.3,140.5 C263.3,140.5 261.3,140.5 259.3,140.5 C257.3,140.6 255.3,140.6 253.3,140.6 C251.3,140.6 249.3,140.6 247.3,140.7 C245.3,140.7 243.3,140.8 241.3,140.9 C239.3,141.0 237.3,141.1 235.3,141.2 C233.3,141.3 231.3,141.4 229.3,141.5 C227.3,141.7 225.3,141.8 223.3,141.9 C221.3,142.0 219.3,142.1 217.3,142.2 C215.3,142.3 213.3,142.4 211.3,142.6 C209.3,142.7 207.2,142.8 205.2,142.9 C203.2,143.0 201.2,143.1 199.2,143.2 C197.2,143.4 195.2,143.5 193.2,143.6 C191.2,143.7 189.2,143.8 187.2,143.9 C185.2,144.0 183.2,144.1 181.2,144.2 C179.2,144.2 177.2,144.3 175.2,144.4 C173.2,144.5 171.2,144.5 169.2,144.6 C167.2,144.7 165.2,144.8 163.2,144.9 C161.2,145.0 159.2,145.1 157.2,145.3 C155.2,145.5 153.3,145.7 151.3,145.9 C149.3,146.1 147.3,146.4 145.3,146.6 C143.3,146.7 141.3,146.9 139.3,147.0 C137.3,147.1 135.0,147.1 133.3,147.2 C131.6,147.2 130.0,147.2 129.3,147.2 M129.3,147.2 C129.4,146.2 129.6,143.2 129.7,141.2 C129.9,139.2 130.1,137.2 130.2,135.2 C130.4,133.2 130.6,131.2 130.9,129.3 C131.1,127.3 131.3,125.2 131.9,123.5 C132.5,121.7 133.3,120.0 134.4,118.8 C135.6,117.5 137.3,116.6 139.0,115.8 C140.7,115.1 142.7,114.6 144.6,114.1 C146.5,113.7 148.5,113.3 150.5,113.0 C152.5,112.7 154.5,112.5 156.4,112.4 C158.4,112.2 160.4,112.2 162.4,112.1 C164.4,112.0 166.4,112.0 168.4,111.9 C170.4,111.8 172.5,111.8 174.5,111.7 C176.5,111.6 178.5,111.6 180.5,111.5 C182.5,111.4 184.5,111.4 186.5,111.3 C188.5,111.3 190.5,111.2 192.5,111.1 C194.5,111.1 196.5,111.0 198.5,110.9 C200.5,110.9 202.5,110.8 204.5,110.7 C206.5,110.7 208.5,110.6 210.5,110.6 C212.5,110.5 214.5,110.4 216.5,110.4 C218.5,110.3 220.5,110.3 222.5,110.2 C224.5,110.2 226.5,110.1 228.5,110.1 C230.5,110.1 232.5,110.1 234.5,110.1 C236.5,110.1 238.5,110.1 240.5,110.1 C242.5,110.1 244.5,110.1 246.6,110.1 C248.6,110.1 250.6,110.1 252.6,110.1 C254.6,110.1 256.6,110.1 258.6,110.1 C260.6,110.1 262.6,110.1 264.6,110.1 C266.6,110.1 268.6,110.1 270.6,110.1 C272.6,110.1 274.6,110.1 276.6,110.1 C278.6,110.1 280.6,110.1 282.6,110.1 C284.6,110.1 286.6,110.1 288.6,110.1 C290.6,110.1 292.6,110.1 294.6,110.1 C296.6,110.1 298.6,110.1 300.6,110.1 C302.6,110.1 304.7,110.1 306.7,110.1 C308.7,110.1 310.7,110.1 312.7,110.1 C314.7,110.1 316.7,110.1 318.7,110.1 C320.7,110.1 322.7,110.1 324.7,110.1 C326.7,110.1 328.7,110.0 330.7,110.0 C332.7,110.0 334.7,109.9 336.7,109.9 C338.7,109.9 340.7,109.8 342.7,109.8 C344.7,109.8 346.7,109.7 348.7,109.7 C350.7,109.7 352.7,109.6 354.7,109.6 C356.7,109.5 358.7,109.5 360.7,109.5 C362.7,109.4 364.8,109.4 366.8,109.4 C368.8,109.3 370.8,109.3 372.8,109.3 C374.8,109.2 376.8,109.2 378.8,109.1 C380.8,109.1 382.8,109.0 384.8,109.0 C386.8,108.9 388.8,108.8 390.8,108.7 C392.8,108.6 394.8,108.5 396.8,108.4 C398.8,108.3 400.8,108.2 402.8,108.1 C404.8,108.0 406.8,107.9 408.8,107.8 C410.8,107.7 412.8,107.6 414.8,107.5 C416.8,107.4 418.8,107.3 420.8,107.2 C422.8,107.1 424.8,107.0 426.8,106.9 C428.8,106.8 430.8,106.7 432.8,106.6 C434.8,106.5 436.8,106.4 438.8,106.3 C440.8,106.2 442.8,106.0 444.8,105.9 C446.8,105.7 448.8,105.6 450.8,105.4 C452.8,105.2 454.8,105.1 456.8,104.9 C458.8,104.7 460.8,104.6 462.8,104.4 C464.8,104.2 466.8,104.1 468.8,103.9 C470.8,103.7 472.8,103.6 474.7,103.4 C476.7,103.2 478.7,103.1 480.7,102.9 C482.7,102.7 484.7,102.6 486.7,102.4 C488.7,102.2 490.7,102.0 492.7,101.9 C494.7,101.7 496.7,101.5 498.7,101.3 C500.7,101.1 502.7,100.9 504.7,100.7 C506.7,100.4 508.7,100.2 510.6,100.0 C512.6,99.8 514.6,99.5 516.6,99.3 C518.6,99.1 520.6,98.9 522.6,98.6 C524.6,98.4 526.6,98.2 528.6,98.0 C530.6,97.7 532.5,97.5 534.5,97.3 C536.5,97.1 539.2,96.8 540.5,96.6 C541.8,96.5 542.2,96.4 542.5,96.4" fill="none" stroke="#a02de8" stroke-width="3.2" stroke-linejoin="round" stroke-linecap="round"/>
</g>
<g clip-path="url(#clap)">
<path d="M1051.4,105.3 C1051.0,106.2 1050.2,109.1 1049.3,110.8 C1048.5,112.5 1047.6,114.1 1046.3,115.3 C1045.0,116.5 1043.3,117.3 1041.6,118.0 C1039.9,118.7 1037.9,119.0 1035.9,119.4 C1034.0,119.7 1032.0,119.9 1030.0,120.1 C1028.0,120.3 1026.0,120.5 1024.0,120.6 C1022.0,120.8 1020.0,121.0 1018.1,121.1 C1016.1,121.3 1014.1,121.4 1012.1,121.6 C1010.1,121.8 1008.1,121.9 1006.1,122.1 C1004.1,122.2 1002.1,122.4 1000.1,122.6 C998.1,122.7 996.1,122.9 994.1,123.0 C992.1,123.2 990.1,123.4 988.2,123.6 C986.2,123.9 984.2,124.1 982.2,124.4 C980.2,124.6 978.2,124.9 976.3,125.2 C974.3,125.5 972.3,125.8 970.3,126.1 C968.3,126.4 966.4,126.6 964.4,126.9 C962.4,127.2 960.4,127.5 958.5,127.8 C956.5,128.1 954.5,128.4 952.5,128.7 C950.6,129.0 948.6,129.4 946.6,129.8 C944.7,130.2 942.7,130.7 940.8,131.1 C938.8,131.6 936.9,132.1 934.9,132.5 C933.0,133.0 931.0,133.4 929.1,133.9 C927.2,134.3 925.2,134.8 923.3,135.3 C921.3,135.7 919.4,136.2 917.4,136.7 C915.5,137.1 913.6,137.6 911.6,138.2 C909.7,138.7 907.8,139.3 905.9,140.0 C904.0,140.6 902.1,141.2 900.2,141.9 C898.3,142.5 896.4,143.2 894.5,143.8 C892.6,144.4 890.7,145.1 888.8,145.7 C887.0,146.4 885.1,147.0 883.2,147.7 C881.3,148.3 879.4,148.9 877.5,149.6 C875.6,150.2 873.7,150.8 871.8,151.5 C869.9,152.1 868.0,152.7 866.1,153.4 C864.2,154.0 862.3,154.6 860.4,155.2 C858.5,155.8 856.6,156.5 854.7,157.1 C852.8,157.7 850.9,158.3 849.0,159.0 C847.1,159.6 845.2,160.2 843.3,160.9 C841.4,161.5 839.5,162.2 837.7,162.9 C835.8,163.6 833.9,164.3 832.0,165.0 C830.2,165.6 828.3,166.3 826.4,166.9 C824.4,167.4 822.5,168.0 820.6,168.2 C818.7,168.5 816.7,168.6 814.8,168.5 C812.9,168.3 810.9,167.9 809.0,167.5 C807.1,167.1 805.1,166.5 803.2,166.1 C801.2,165.7 799.3,165.2 797.3,164.8 C795.4,164.4 793.4,164.0 791.4,163.6 C789.5,163.3 787.5,162.9 785.5,162.7 C783.6,162.6 781.6,162.5 779.6,162.6 C777.7,162.7 775.7,163.0 773.8,163.4 C771.9,163.9 769.5,164.8 768.3,165.2 C767.1,165.7 766.8,165.9 766.5,166.0 M766.5,166.0 C766.5,165.0 766.7,162.0 766.7,160.0 C766.8,158.0 766.9,156.0 767.0,154.0 C767.0,152.0 767.1,150.0 767.2,148.0 C767.3,146.0 767.4,144.0 767.4,142.0 C767.5,140.0 767.6,138.0 767.7,136.0 C767.8,134.0 767.9,132.0 768.0,130.0 C768.1,128.0 768.2,126.0 768.4,124.0 C768.5,122.0 768.7,120.0 768.9,118.0 C769.1,116.0 769.3,114.1 769.6,112.1 C769.9,110.1 770.1,108.1 770.5,106.2 C770.9,104.2 771.3,102.3 771.9,100.4 C772.6,98.6 773.5,96.8 774.5,95.2 C775.5,93.5 776.6,91.8 777.9,90.3 C779.1,88.8 780.6,87.5 782.0,86.1 C783.5,84.8 785.2,83.7 786.8,82.5 C788.4,81.3 790.0,80.2 791.7,79.1 C793.4,78.0 795.1,76.9 796.8,75.9 C798.5,74.8 800.2,73.8 801.9,72.8 C803.6,71.7 805.3,70.7 807.0,69.6 C808.7,68.6 810.4,67.5 812.1,66.4 C813.7,65.2 815.3,64.1 816.9,62.9 C818.6,61.7 820.1,60.5 821.8,59.4 C823.4,58.3 825.1,57.2 826.8,56.3 C828.6,55.4 830.4,54.7 832.3,54.1 C834.2,53.5 836.1,53.0 838.1,52.8 C840.0,52.6 841.9,52.7 843.9,52.9 C845.8,53.0 847.8,53.5 849.7,53.9 C851.7,54.3 853.6,54.8 855.6,55.2 C857.5,55.6 859.5,56.0 861.5,56.4 C863.4,56.8 865.4,57.2 867.4,57.5 C869.3,57.8 871.3,58.1 873.3,58.4 C875.3,58.7 877.2,59.0 879.2,59.3 C881.2,59.6 883.2,59.9 885.2,60.2 C887.1,60.5 889.1,60.8 891.1,61.1 C893.1,61.5 895.0,61.8 897.0,62.1 C899.0,62.5 901.0,62.8 902.9,63.1 C904.9,63.5 906.9,63.8 908.9,64.2 C910.8,64.5 912.8,64.9 914.8,65.2 C916.7,65.6 918.7,65.9 920.7,66.2 C922.7,66.6 924.6,66.9 926.6,67.3 C928.6,67.6 930.6,67.9 932.5,68.2 C934.5,68.5 936.5,68.7 938.5,69.0 C940.5,69.2 942.5,69.5 944.4,69.7 C946.4,70.0 948.4,70.2 950.4,70.5 C952.4,70.7 954.4,71.0 956.4,71.2 C958.3,71.5 960.3,71.7 962.3,72.0 C964.3,72.2 966.3,72.4 968.3,72.7 C970.3,72.9 972.3,73.1 974.2,73.3 C976.2,73.5 978.2,73.7 980.2,73.9 C982.2,74.1 984.2,74.3 986.2,74.5 C988.2,74.7 990.2,74.9 992.2,75.1 C994.2,75.3 996.2,75.5 998.1,75.7 C1000.1,75.9 1002.1,76.1 1004.1,76.3 C1006.1,76.5 1008.1,76.7 1010.1,76.9 C1012.1,77.1 1014.1,77.3 1016.1,77.5 C1018.1,77.7 1020.1,77.9 1022.0,78.1 C1024.0,78.3 1026.0,78.5 1028.0,78.7 C1030.0,78.9 1032.0,79.1 1034.0,79.2 C1036.0,79.3 1038.0,79.4 1040.0,79.4 C1042.0,79.5 1044.0,79.5 1046.0,79.5 C1048.0,79.5 1051.0,79.5 1052.0,79.5" fill="none" stroke="#000000" stroke-width="4.4" stroke-linejoin="round" stroke-linecap="round"/>
<path d="M1051.0,95.0 C1050.7,95.9 1049.9,98.9 1049.1,100.6 C1048.4,102.4 1047.7,104.2 1046.6,105.6 C1045.5,107.0 1044.0,108.0 1042.4,108.8 C1040.8,109.7 1038.8,110.1 1036.9,110.7 C1035.0,111.2 1033.0,111.5 1031.1,111.9 C1029.1,112.3 1027.1,112.7 1025.2,113.0 C1023.2,113.4 1021.2,113.8 1019.2,114.1 C1017.3,114.5 1015.3,114.8 1013.3,115.2 C1011.4,115.5 1009.4,115.9 1007.4,116.2 C1005.5,116.6 1003.5,117.0 1001.5,117.3 C999.5,117.7 997.6,118.0 995.6,118.4 C993.6,118.7 991.7,119.0 989.7,119.3 C987.7,119.6 985.7,119.8 983.7,120.0 C981.7,120.2 979.7,120.4 977.7,120.6 C975.7,120.7 973.7,120.9 971.7,121.1 C969.8,121.2 967.8,121.4 965.8,121.6 C963.8,121.7 961.8,121.9 959.8,122.1 C957.8,122.3 955.8,122.4 953.8,122.6 C951.8,122.9 949.8,123.1 947.9,123.4 C945.9,123.7 943.9,124.1 941.9,124.5 C940.0,124.9 938.0,125.3 936.1,125.6 C934.1,126.0 932.1,126.4 930.2,126.8 C928.2,127.2 926.2,127.6 924.3,128.0 C922.3,128.4 920.3,128.8 918.4,129.2 C916.4,129.6 914.5,130.0 912.5,130.4 C910.6,130.9 908.6,131.4 906.7,131.9 C904.7,132.4 902.8,132.9 900.9,133.5 C899.0,134.0 897.0,134.5 895.1,135.1 C893.2,135.6 891.2,136.1 889.3,136.7 C887.4,137.2 885.4,137.7 883.5,138.3 C881.6,138.8 879.7,139.3 877.7,139.9 C875.8,140.5 873.9,141.1 872.1,141.8 C870.2,142.5 868.3,143.3 866.5,144.0 C864.6,144.8 862.8,145.6 860.9,146.3 C859.1,147.1 857.2,147.9 855.4,148.7 C853.6,149.5 851.7,150.2 849.9,151.0 C848.0,151.8 846.2,152.6 844.3,153.3 C842.5,154.1 840.6,154.9 838.8,155.6 C836.9,156.4 835.1,157.1 833.2,157.8 C831.3,158.5 829.4,159.1 827.5,159.7 C825.6,160.4 823.7,161.0 821.8,161.6 C819.9,162.2 818.0,162.8 816.1,163.4 C814.1,164.0 812.2,164.6 810.3,165.2 C808.4,165.7 806.5,166.3 804.6,167.0 C802.7,167.6 800.8,168.3 798.9,169.0 C797.1,169.6 795.2,170.4 793.3,171.1 C791.5,171.9 789.6,172.6 787.8,173.3 C785.9,174.1 784.0,174.9 782.2,175.7 C780.4,176.4 778.5,177.3 776.7,178.1 C774.9,178.9 773.1,179.7 771.2,180.6 C769.4,181.4 767.6,182.2 765.8,183.0 C763.9,183.8 762.1,184.6 760.2,185.4 C758.4,186.2 756.5,186.9 754.7,187.7 C752.8,188.4 751.0,189.1 749.1,189.9 C747.3,190.7 745.5,191.5 743.7,192.4 C742.0,193.4 740.3,194.4 738.6,195.6 C737.0,196.7 735.4,197.9 733.8,199.1 C732.2,200.3 730.7,201.6 729.3,202.9 C727.9,204.3 726.6,205.8 725.4,207.4 C724.3,209.0 723.2,210.7 722.2,212.4 C721.1,214.1 720.1,215.8 719.1,217.6 C718.1,219.3 717.1,221.1 716.2,222.8 C715.3,224.6 714.5,226.4 713.7,228.3 C712.9,230.1 712.1,231.9 711.3,233.8 C710.6,235.6 709.8,237.5 709.1,239.3 C708.3,241.2 707.6,243.1 707.0,245.0 C706.4,246.9 705.9,248.8 705.4,250.7 C704.9,252.7 704.5,254.6 704.1,256.6 C703.7,258.5 703.3,260.5 702.9,262.5 C702.5,264.4 702.1,266.4 701.7,268.4 C701.4,270.3 701.0,272.3 700.7,274.3 C700.4,276.2 700.1,278.2 699.9,280.2 C699.7,282.2 699.5,284.2 699.3,286.2 C699.1,288.2 698.9,290.2 698.7,292.2 C698.5,294.2 698.3,296.2 698.1,298.1 C697.9,300.1 697.7,302.1 697.5,304.1 C697.3,306.1 697.1,308.1 696.9,310.1 C696.7,312.1 696.5,314.1 696.3,316.1 C696.1,318.1 695.9,320.1 695.7,322.1 C695.5,324.1 695.4,326.0 695.2,328.0 C695.0,330.0 694.8,332.0 694.6,334.0 C694.4,336.0 694.1,339.0 694.0,340.0 M690.5,340.0 C690.6,339.0 690.8,336.0 690.9,334.0 C691.1,332.0 691.2,330.0 691.4,328.0 C691.5,326.0 691.7,324.0 691.8,322.0 C692.0,320.0 692.1,318.0 692.3,316.0 C692.5,314.0 692.6,312.0 692.8,310.1 C693.0,308.1 693.3,306.1 693.5,304.1 C693.8,302.1 694.1,300.1 694.3,298.1 C694.6,296.2 694.9,294.2 695.1,292.2 C695.4,290.2 695.7,288.2 696.0,286.2 C696.2,284.3 696.5,282.3 696.8,280.3 C697.0,278.3 697.3,276.3 697.6,274.3 C697.8,272.3 698.1,270.4 698.3,268.4 C698.6,266.4 698.8,264.4 699.1,262.4 C699.3,260.4 699.6,258.4 699.8,256.4 C700.1,254.5 700.3,252.5 700.6,250.5 C700.8,248.5 701.1,246.5 701.3,244.5 C701.6,242.5 701.8,240.6 702.1,238.6 C702.4,236.6 702.6,234.6 702.9,232.6 C703.2,230.6 703.5,228.7 703.8,226.7 C704.1,224.7 704.4,222.7 704.7,220.7 C705.0,218.8 705.3,216.8 705.6,214.8 C705.9,212.8 706.2,210.8 706.5,208.9 C706.8,206.9 707.1,204.9 707.4,202.9 C707.7,200.9 708.0,199.0 708.3,197.0 C708.5,195.0 708.8,193.0 709.1,191.0 C709.3,189.0 709.6,187.1 709.9,185.1 C710.1,183.1 710.4,181.1 710.7,179.1 C711.0,177.1 711.2,175.2 711.6,173.2 C711.9,171.2 712.2,169.2 712.6,167.3 C713.0,165.3 713.5,163.4 714.0,161.4 C714.4,159.5 714.9,157.5 715.4,155.6 C715.8,153.6 716.3,151.7 716.8,149.7 C717.2,147.8 717.7,145.8 718.2,143.9 C718.7,142.0 719.2,140.0 719.8,138.1 C720.4,136.2 721.0,134.3 721.7,132.4 C722.3,130.5 723.1,128.7 723.8,126.8 C724.5,124.9 725.2,123.0 725.9,121.2 C726.6,119.3 727.3,117.4 728.0,115.6 C728.7,113.7 729.4,111.8 730.2,110.0 C731.0,108.1 731.9,106.3 732.8,104.6 C733.7,102.8 734.7,101.0 735.6,99.3 C736.6,97.5 737.6,95.8 738.6,94.1 C739.6,92.3 740.6,90.6 741.6,88.9 C742.6,87.1 743.6,85.4 744.7,83.7 C745.8,82.1 747.0,80.5 748.2,79.0 C749.5,77.4 750.9,76.0 752.3,74.6 C753.7,73.1 755.1,71.7 756.5,70.3 C757.9,68.9 759.3,67.4 760.8,66.1 C762.3,64.8 763.7,63.4 765.3,62.2 C766.9,61.1 768.6,60.0 770.3,59.0 C772.0,58.0 773.8,57.1 775.6,56.3 C777.4,55.4 779.2,54.5 781.0,53.7 C782.9,53.0 784.7,52.3 786.7,51.8 C788.6,51.3 790.5,50.9 792.5,50.6 C794.5,50.2 796.4,49.9 798.4,49.7 C800.4,49.4 802.4,49.2 804.4,49.1 C806.4,48.9 808.4,48.9 810.4,48.8 C812.4,48.8 814.4,48.8 816.4,48.8 C818.4,48.9 820.4,48.9 822.4,49.1 C824.4,49.2 826.3,49.4 828.3,49.7 C830.3,50.0 832.3,50.3 834.3,50.6 C836.2,50.9 838.2,51.2 840.2,51.6 C842.2,51.9 844.1,52.2 846.1,52.6 C848.1,52.9 850.1,53.2 852.0,53.5 C854.0,53.9 856.0,54.2 858.0,54.5 C859.9,54.9 861.9,55.2 863.9,55.5 C865.9,55.9 867.8,56.2 869.8,56.5 C871.8,56.9 873.8,57.2 875.7,57.5 C877.7,57.8 879.7,58.2 881.7,58.5 C883.6,58.8 885.6,59.2 887.6,59.5 C889.6,59.8 891.5,60.2 893.5,60.5 C895.5,60.8 897.5,61.1 899.4,61.5 C901.4,61.8 903.4,62.1 905.4,62.5 C907.3,62.8 909.3,63.1 911.3,63.4 C913.3,63.8 915.2,64.1 917.2,64.4 C919.2,64.7 921.2,65.0 923.2,65.2 C925.1,65.5 927.1,65.7 929.1,65.9 C931.1,66.1 933.1,66.3 935.1,66.5 C937.1,66.7 939.1,66.9 941.1,67.1 C943.1,67.3 945.1,67.5 947.1,67.7 C949.1,67.9 951.1,68.0 953.0,68.2 C955.0,68.3 957.0,68.5 959.0,68.6 C961.0,68.7 963.0,68.9 965.0,69.0 C967.0,69.1 969.0,69.3 971.0,69.4 C973.0,69.5 975.0,69.7 977.0,69.8 C979.0,69.9 981.0,70.1 983.0,70.2 C985.0,70.3 987.0,70.5 989.0,70.6 C991.0,70.7 993.0,70.9 995.0,71.0 C997.0,71.1 999.0,71.3 1001.0,71.4 C1003.0,71.5 1005.0,71.6 1007.0,71.7 C1009.0,71.8 1011.0,71.9 1013.0,72.0 C1015.0,72.1 1017.0,72.1 1019.0,72.2 C1021.0,72.3 1023.0,72.4 1025.0,72.4 C1027.0,72.5 1029.0,72.6 1031.0,72.6 C1033.0,72.6 1035.0,72.6 1037.0,72.6 C1039.0,72.5 1041.0,72.4 1043.0,72.3 C1045.0,72.2 1047.5,72.1 1049.0,72.0 C1050.5,71.9 1051.5,71.8 1052.0,71.8" fill="none" stroke="#56f812" stroke-width="4.4" stroke-linejoin="round" stroke-linecap="round"/>
<path d="M1051.4,103.4 C1050.9,104.3 1049.6,107.0 1048.6,108.6 C1047.6,110.2 1046.5,111.9 1045.2,113.0 C1043.8,114.2 1042.1,115.0 1040.4,115.7 C1038.6,116.4 1036.6,116.8 1034.7,117.2 C1032.8,117.7 1030.8,118.1 1028.8,118.4 C1026.9,118.8 1024.9,119.2 1022.9,119.5 C1021.0,119.8 1019.0,120.1 1017.0,120.4 C1015.0,120.7 1013.1,121.0 1011.1,121.3 C1009.1,121.6 1007.1,121.9 1005.1,122.2 C1003.2,122.5 1001.2,122.8 999.2,123.1 C997.2,123.4 995.2,123.7 993.3,124.0 C991.3,124.3 989.3,124.7 987.3,125.0 C985.4,125.3 983.4,125.7 981.4,126.0 C979.5,126.3 977.5,126.7 975.5,127.0 C973.5,127.4 971.6,127.7 969.6,128.1 C967.6,128.4 965.7,128.7 963.7,129.1 C961.7,129.4 959.7,129.8 957.8,130.1 C955.8,130.5 953.8,130.8 951.9,131.2 C949.9,131.6 948.0,132.1 946.0,132.5 C944.1,133.0 942.1,133.5 940.2,133.9 C938.3,134.4 936.3,134.9 934.4,135.4 C932.4,135.9 930.5,136.4 928.5,136.9 C926.6,137.3 924.7,137.8 922.7,138.3 C920.8,138.8 918.8,139.3 916.9,139.8 C915.0,140.3 913.1,140.9 911.2,141.5 C909.3,142.1 907.4,142.8 905.5,143.6 C903.7,144.3 901.8,145.0 900.0,145.8 C898.1,146.5 896.2,147.2 894.4,148.0 C892.5,148.7 890.7,149.5 888.8,150.2 C887.0,150.9 885.1,151.7 883.2,152.4 C881.4,153.2 879.5,153.9 877.7,154.7 C875.8,155.4 873.9,156.1 872.1,156.9 C870.2,157.6 868.4,158.4 866.5,159.1 C864.6,159.8 862.8,160.6 860.9,161.3 C859.1,162.0 857.2,162.8 855.3,163.5 C853.5,164.3 851.6,165.0 849.8,165.7 C847.9,166.5 846.0,167.2 844.2,168.0 C842.4,168.8 840.5,169.5 838.7,170.4 C836.9,171.2 835.1,172.1 833.3,173.0 C831.5,173.8 829.7,174.7 827.9,175.6 C826.1,176.5 824.3,177.4 822.5,178.3 C820.7,179.2 818.9,180.0 817.1,180.9 C815.3,181.7 813.5,182.6 811.7,183.4 C809.9,184.3 808.1,185.1 806.3,186.0 C804.4,186.8 802.6,187.7 800.8,188.5 C799.0,189.4 797.2,190.2 795.4,191.1 C793.6,192.0 791.9,193.0 790.1,193.9 C788.4,194.9 786.7,195.9 784.9,196.9 C783.2,198.0 781.5,199.0 779.8,200.0 C778.1,201.1 776.4,202.1 774.7,203.1 C772.9,204.2 771.2,205.2 769.5,206.2 C767.8,207.2 766.1,208.3 764.3,209.3 C762.6,210.3 760.8,211.2 759.1,212.2 C757.3,213.1 755.6,214.1 753.8,215.0 C752.0,216.0 750.3,216.9 748.5,217.8 C746.7,218.8 745.0,219.7 743.2,220.7 C741.4,221.6 739.7,222.5 737.9,223.5 C736.1,224.4 734.4,225.3 732.6,226.2 C730.8,227.1 729.0,228.0 727.2,228.9 C725.4,229.8 723.6,230.7 721.9,231.6 C720.1,232.6 718.3,233.5 716.5,234.4 C714.8,235.4 713.0,236.4 711.3,237.4 C709.6,238.4 707.9,239.4 706.2,240.4 C704.4,241.5 702.7,242.5 701.0,243.6 C699.3,244.6 697.6,245.7 696.0,246.8 C694.3,247.9 692.6,249.0 691.0,250.1 C689.3,251.3 687.7,252.4 686.1,253.6 C684.4,254.7 682.8,255.8 681.2,257.0 C679.6,258.2 678.0,259.4 676.4,260.7 C674.9,262.0 673.4,263.3 671.9,264.6 C670.4,265.9 668.9,267.3 667.4,268.6 C665.9,269.9 664.4,271.3 663.0,272.6 C661.5,274.0 660.1,275.4 658.7,276.9 C657.4,278.3 656.1,279.8 654.8,281.4 C653.5,282.9 652.3,284.5 651.1,286.1 C649.9,287.7 648.6,289.2 647.5,290.9 C646.4,292.5 645.3,294.2 644.3,295.9 C643.3,297.6 642.4,299.4 641.5,301.2 C640.6,303.0 639.5,305.2 638.9,306.6 C638.2,307.9 637.8,308.8 637.6,309.3 M637.6,309.3 C637.7,308.3 638.2,305.3 638.4,303.4 C638.7,301.4 639.0,299.4 639.3,297.4 C639.6,295.4 639.8,293.4 640.1,291.5 C640.4,289.5 640.7,287.5 641.0,285.5 C641.3,283.5 641.7,281.6 642.0,279.6 C642.4,277.6 642.8,275.7 643.1,273.7 C643.5,271.7 643.9,269.8 644.3,267.8 C644.7,265.8 645.0,263.9 645.5,261.9 C646.0,260.0 646.5,258.0 647.0,256.1 C647.6,254.2 648.2,252.3 648.8,250.4 C649.4,248.5 650.0,246.6 650.6,244.7 C651.3,242.8 651.9,240.9 652.5,239.0 C653.1,237.1 653.7,235.2 654.4,233.3 C655.0,231.4 655.6,229.5 656.3,227.6 C656.9,225.7 657.5,223.8 658.1,221.9 C658.8,220.0 659.4,218.1 660.0,216.2 C660.7,214.3 661.3,212.4 661.9,210.5 C662.6,208.6 663.2,206.7 663.8,204.8 C664.5,202.8 665.1,200.9 665.7,199.0 C666.2,197.1 666.8,195.2 667.3,193.3 C667.9,191.3 668.4,189.4 668.9,187.5 C669.5,185.5 670.0,183.6 670.5,181.7 C671.0,179.7 671.5,177.8 672.1,175.9 C672.6,173.9 673.1,172.0 673.6,170.1 C674.2,168.1 674.7,166.2 675.2,164.3 C675.8,162.4 676.4,160.4 676.9,158.5 C677.5,156.6 678.0,154.7 678.6,152.8 C679.2,150.8 679.7,148.9 680.4,147.0 C681.0,145.1 681.6,143.2 682.3,141.3 C683.0,139.5 683.7,137.6 684.5,135.7 C685.2,133.9 685.9,132.0 686.7,130.2 C687.4,128.3 688.2,126.4 688.9,124.6 C689.7,122.7 690.4,120.9 691.2,119.0 C691.9,117.2 692.7,115.3 693.5,113.5 C694.3,111.6 695.1,109.8 696.0,108.0 C696.8,106.2 697.6,104.4 698.5,102.5 C699.3,100.7 700.1,98.9 701.0,97.1 C701.8,95.3 702.7,93.5 703.6,91.7 C704.5,89.9 705.4,88.1 706.4,86.4 C707.3,84.6 708.3,82.9 709.3,81.1 C710.3,79.4 711.3,77.6 712.3,75.9 C713.3,74.2 714.3,72.4 715.3,70.7 C716.3,69.0 717.3,67.3 718.4,65.6 C719.5,63.9 720.6,62.3 721.8,60.6 C723.0,59.0 724.2,57.5 725.4,55.9 C726.7,54.3 727.9,52.7 729.2,51.2 C730.5,49.6 731.7,48.1 733.0,46.6 C734.4,45.1 735.8,43.7 737.3,42.4 C738.7,41.0 740.3,39.8 741.8,38.5 C743.4,37.2 744.9,36.0 746.5,34.7 C748.1,33.5 749.6,32.2 751.3,31.1 C752.9,30.0 754.6,29.0 756.4,28.1 C758.1,27.2 760.0,26.4 761.8,25.6 C763.7,24.9 765.5,24.1 767.4,23.5 C769.3,22.8 771.2,22.2 773.1,21.8 C775.0,21.4 777.0,21.1 779.0,20.9 C781.0,20.7 783.0,20.6 785.0,20.5 C787.0,20.4 789.0,20.4 791.0,20.4 C792.9,20.4 794.9,20.5 796.9,20.6 C798.9,20.8 800.9,21.0 802.9,21.2 C804.9,21.4 806.9,21.6 808.9,21.9 C810.8,22.2 812.8,22.6 814.7,23.1 C816.7,23.5 818.6,24.1 820.5,24.6 C822.5,25.1 824.4,25.7 826.3,26.2 C828.2,26.7 830.2,27.3 832.1,27.8 C834.1,28.3 836.0,28.7 838.0,29.1 C839.9,29.5 841.9,29.8 843.9,30.2 C845.8,30.5 847.8,30.8 849.8,31.2 C851.8,31.5 853.7,31.8 855.7,32.2 C857.7,32.5 859.7,32.8 861.6,33.1 C863.6,33.4 865.6,33.6 867.6,33.9 C869.6,34.1 871.6,34.3 873.6,34.5 C875.6,34.7 877.6,34.9 879.5,35.1 C881.5,35.3 883.5,35.5 885.5,35.7 C887.5,35.9 889.5,36.1 891.5,36.3 C893.5,36.5 895.5,36.7 897.5,36.9 C899.5,37.1 901.5,37.3 903.5,37.5 C905.4,37.7 907.4,37.9 909.4,38.1 C911.4,38.3 913.4,38.5 915.4,38.8 C917.4,39.0 919.4,39.3 921.3,39.6 C923.3,39.9 925.3,40.3 927.2,40.7 C929.2,41.2 931.1,41.6 933.1,42.1 C935.0,42.5 937.0,43.0 938.9,43.4 C940.9,43.9 942.8,44.4 944.8,44.8 C946.7,45.2 948.7,45.6 950.7,46.0 C952.6,46.4 954.6,46.7 956.6,47.1 C958.5,47.4 960.5,47.7 962.5,48.1 C964.5,48.4 966.4,48.7 968.4,49.0 C970.4,49.3 972.4,49.7 974.4,50.0 C976.3,50.2 978.3,50.5 980.3,50.7 C982.3,50.9 984.3,51.1 986.3,51.2 C988.3,51.4 990.3,51.5 992.3,51.7 C994.3,51.8 996.3,51.9 998.3,52.1 C1000.3,52.2 1002.3,52.3 1004.3,52.4 C1006.3,52.4 1008.3,52.4 1010.3,52.4 C1012.3,52.3 1014.3,52.2 1016.2,52.1 C1018.2,51.9 1020.2,51.8 1022.2,51.7 C1024.2,51.5 1026.2,51.4 1028.2,51.2 C1030.2,51.1 1032.2,50.9 1034.2,50.7 C1036.2,50.5 1038.2,50.2 1040.2,49.9 C1042.1,49.6 1044.1,49.3 1046.1,48.9 C1048.1,48.6 1051.0,48.1 1052.0,47.9" fill="none" stroke="#1c2ced" stroke-width="4.4" stroke-linejoin="round" stroke-linecap="round"/>
<path d="M1051.4,90.0 C1051.2,91.0 1050.5,93.9 1050.1,95.9 C1049.6,97.8 1049.2,99.8 1048.5,101.5 C1047.8,103.3 1047.1,105.0 1045.9,106.4 C1044.8,107.8 1043.2,108.9 1041.6,109.9 C1040.0,110.9 1038.1,111.6 1036.3,112.3 C1034.4,113.0 1032.5,113.5 1030.5,114.0 C1028.6,114.5 1026.6,114.8 1024.7,115.2 C1022.7,115.7 1020.7,116.0 1018.8,116.4 C1016.8,116.8 1014.8,117.2 1012.9,117.6 C1010.9,118.0 1008.9,118.3 1007.0,118.7 C1005.0,119.1 1003.0,119.4 1001.0,119.7 C999.1,120.1 997.1,120.4 995.1,120.7 C993.1,121.1 991.2,121.4 989.2,121.7 C987.2,122.0 985.2,122.2 983.2,122.5 C981.3,122.8 979.3,123.0 977.3,123.3 C975.3,123.5 973.3,123.8 971.3,124.0 C969.3,124.3 967.3,124.5 965.3,124.8 C963.4,125.0 961.4,125.3 959.4,125.5 C957.4,125.8 955.4,126.0 953.4,126.3 C951.5,126.7 949.5,127.0 947.5,127.4 C945.6,127.8 943.6,128.3 941.7,128.8 C939.7,129.2 937.8,129.7 935.9,130.2 C933.9,130.7 932.0,131.2 930.0,131.7 C928.1,132.2 926.1,132.7 924.2,133.1 C922.2,133.6 920.3,134.1 918.4,134.6 C916.4,135.1 914.5,135.6 912.6,136.2 C910.6,136.7 908.7,137.3 906.8,137.9 C904.9,138.5 903.0,139.1 901.1,139.7 C899.2,140.3 897.3,140.9 895.4,141.6 C893.5,142.2 891.5,142.8 889.6,143.4 C887.7,144.0 885.8,144.6 883.9,145.3 C882.0,145.9 880.1,146.5 878.2,147.1 C876.3,147.8 874.4,148.5 872.6,149.2 C870.7,149.9 868.8,150.6 867.0,151.4 C865.1,152.2 863.3,153.0 861.5,153.8 C859.6,154.5 857.8,155.3 855.9,156.1 C854.1,156.9 852.2,157.7 850.4,158.5 C848.6,159.3 846.7,160.0 844.9,160.9 C843.1,161.7 841.2,162.5 839.4,163.4 C837.7,164.3 835.9,165.2 834.1,166.2 C832.4,167.1 830.6,168.1 828.9,169.1 C827.1,170.0 825.4,171.0 823.6,172.0 C821.9,173.0 820.2,174.1 818.5,175.1 C816.8,176.2 815.1,177.3 813.5,178.4 C811.8,179.5 810.1,180.6 808.5,181.7 C806.8,182.9 805.1,184.0 803.5,185.1 C801.8,186.2 800.1,187.3 798.4,188.4 C796.8,189.5 795.1,190.6 793.4,191.7 C791.7,192.8 790.0,193.8 788.3,194.9 C786.6,195.9 784.9,197.0 783.2,198.0 C781.5,199.0 779.8,200.1 778.0,201.1 C776.3,202.1 774.6,203.2 772.9,204.2 C771.2,205.2 769.5,206.3 767.7,207.3 C766.0,208.3 764.3,209.3 762.5,210.2 C760.7,211.2 759.0,212.1 757.2,213.0 C755.4,213.9 753.6,214.8 751.8,215.7 C750.0,216.6 748.2,217.5 746.4,218.3 C744.5,219.1 742.7,219.8 740.8,220.5 C738.9,221.2 737.0,221.8 735.1,222.5 C733.2,223.1 731.3,223.7 729.4,224.4 C727.5,225.0 725.6,225.7 723.8,226.3 C721.9,227.0 720.0,227.6 718.1,228.3 C716.2,229.0 714.3,229.6 712.5,230.4 C710.7,231.2 708.9,232.1 707.2,233.1 C705.5,234.1 703.9,235.3 702.3,236.5 C700.7,237.7 699.1,238.9 697.7,240.3 C696.2,241.6 694.8,243.0 693.6,244.6 C692.3,246.1 691.2,247.7 690.0,249.4 C688.9,251.0 687.8,252.7 686.7,254.4 C685.7,256.1 684.7,257.8 683.8,259.6 C682.9,261.4 682.2,263.2 681.5,265.1 C680.7,266.9 680.1,268.8 679.5,270.7 C678.8,272.6 678.2,274.5 677.6,276.4 C676.9,278.3 676.3,280.2 675.8,282.2 C675.2,284.1 674.7,286.0 674.2,287.9 C673.7,289.9 673.2,291.8 672.7,293.8 C672.3,295.7 671.8,297.7 671.3,299.6 C670.8,301.6 670.2,304.2 669.9,305.5 C669.6,306.8 669.5,307.1 669.4,307.4 M669.4,307.4 C669.5,306.4 669.8,303.4 670.0,301.4 C670.2,299.4 670.4,297.4 670.6,295.5 C670.8,293.5 671.0,291.5 671.2,289.5 C671.4,287.5 671.6,285.5 671.7,283.5 C671.9,281.5 672.0,279.5 672.2,277.5 C672.3,275.5 672.4,273.5 672.6,271.5 C672.7,269.5 672.8,267.5 673.0,265.5 C673.1,263.6 673.2,261.6 673.4,259.6 C673.5,257.6 673.6,255.6 673.8,253.6 C673.9,251.6 674.1,249.6 674.2,247.6 C674.4,245.6 674.5,243.6 674.7,241.6 C674.8,239.6 675.0,237.6 675.1,235.6 C675.3,233.6 675.4,231.6 675.6,229.6 C675.7,227.6 675.9,225.7 676.0,223.7 C676.2,221.7 676.4,219.7 676.6,217.7 C676.9,215.7 677.2,213.7 677.5,211.8 C677.8,209.8 678.1,207.8 678.4,205.8 C678.8,203.9 679.1,201.9 679.4,199.9 C679.8,197.9 680.1,196.0 680.4,194.0 C680.8,192.0 681.1,190.1 681.5,188.1 C681.8,186.1 682.2,184.2 682.6,182.2 C683.0,180.2 683.4,178.3 683.8,176.3 C684.2,174.4 684.6,172.4 685.0,170.4 C685.4,168.5 685.8,166.5 686.3,164.6 C686.8,162.6 687.3,160.7 687.8,158.8 C688.3,156.8 688.9,154.9 689.5,153.0 C690.0,151.1 690.6,149.2 691.2,147.3 C691.7,145.3 692.3,143.4 692.9,141.5 C693.5,139.6 694.1,137.7 694.6,135.8 C695.2,133.9 695.8,131.9 696.4,130.0 C697.0,128.1 697.6,126.2 698.2,124.3 C698.8,122.4 699.4,120.5 700.0,118.6 C700.6,116.7 701.2,114.8 701.9,112.9 C702.6,111.0 703.3,109.2 704.0,107.3 C704.8,105.4 705.6,103.6 706.4,101.8 C707.2,99.9 708.0,98.1 708.8,96.3 C709.6,94.4 710.4,92.6 711.2,90.8 C712.0,88.9 712.8,87.1 713.6,85.3 C714.5,83.5 715.4,81.7 716.3,80.0 C717.3,78.2 718.4,76.6 719.5,74.9 C720.5,73.2 721.6,71.5 722.8,69.9 C723.9,68.2 725.0,66.5 726.1,64.9 C727.2,63.2 728.4,61.6 729.6,60.0 C730.8,58.4 732.0,56.9 733.4,55.4 C734.7,53.9 736.1,52.5 737.5,51.0 C738.9,49.6 740.3,48.2 741.7,46.8 C743.1,45.4 744.5,43.9 746.0,42.6 C747.5,41.2 748.9,39.9 750.5,38.7 C752.1,37.5 753.7,36.4 755.4,35.3 C757.0,34.2 758.8,33.1 760.5,32.1 C762.2,31.1 763.9,30.1 765.7,29.2 C767.5,28.3 769.2,27.4 771.1,26.7 C773.0,26.0 774.9,25.5 776.8,25.0 C778.7,24.4 780.7,24.0 782.6,23.6 C784.6,23.2 786.5,22.8 788.5,22.6 C790.4,22.4 792.4,22.4 794.4,22.4 C796.4,22.4 798.4,22.5 800.4,22.7 C802.4,22.8 804.4,22.9 806.4,23.1 C808.4,23.4 810.3,23.7 812.3,24.0 C814.3,24.3 816.2,24.7 818.2,25.1 C820.1,25.5 822.1,26.0 824.0,26.5 C825.9,27.1 827.7,27.9 829.5,28.6 C831.3,29.4 833.1,30.3 834.9,31.1 C836.8,31.8 838.6,32.5 840.5,33.2 C842.4,33.8 844.3,34.4 846.2,35.0 C848.1,35.5 850.1,36.1 852.0,36.7 C853.9,37.3 855.8,37.8 857.7,38.4 C859.7,38.9 861.6,39.5 863.5,40.0 C865.5,40.5 867.4,40.9 869.4,41.3 C871.3,41.7 873.3,42.1 875.2,42.5 C877.2,42.9 879.2,43.3 881.1,43.7 C883.1,44.1 885.0,44.5 887.0,44.9 C889.0,45.3 890.9,45.6 892.9,45.9 C894.9,46.3 896.9,46.6 898.8,46.8 C900.8,47.1 902.8,47.4 904.8,47.6 C906.8,47.9 908.8,48.2 910.7,48.4 C912.7,48.7 914.7,48.9 916.7,49.2 C918.7,49.4 920.7,49.7 922.6,49.9 C924.6,50.1 926.6,50.3 928.6,50.5 C930.6,50.8 932.6,51.0 934.6,51.2 C936.6,51.4 938.6,51.6 940.6,51.8 C942.5,52.0 944.5,52.2 946.5,52.4 C948.5,52.6 950.5,52.8 952.5,53.0 C954.5,53.1 956.5,53.3 958.5,53.5 C960.5,53.7 962.5,53.9 964.4,54.1 C966.4,54.3 968.4,54.5 970.4,54.7 C972.4,54.9 974.4,55.1 976.4,55.3 C978.4,55.5 980.4,55.8 982.3,56.0 C984.3,56.3 986.3,56.6 988.3,56.8 C990.3,57.1 992.3,57.4 994.2,57.6 C996.2,57.9 998.2,58.2 1000.2,58.4 C1002.2,58.6 1004.2,58.9 1006.1,59.0 C1008.1,59.2 1010.1,59.3 1012.1,59.3 C1014.1,59.4 1016.1,59.4 1018.1,59.4 C1020.1,59.4 1022.1,59.4 1024.1,59.4 C1026.1,59.4 1028.1,59.4 1030.1,59.4 C1032.1,59.3 1034.1,59.3 1036.1,59.1 C1038.1,59.0 1040.1,58.8 1042.1,58.6 C1044.1,58.4 1046.4,58.1 1048.0,57.9 C1049.7,57.7 1051.3,57.5 1052.0,57.4" fill="none" stroke="#f20008" stroke-width="4.4" stroke-linejoin="round" stroke-linecap="round"/>
<path d="M1051.4,82.3 C1051.2,83.3 1050.8,86.3 1050.4,88.2 C1050.0,90.2 1049.7,92.2 1049.2,94.0 C1048.6,95.9 1048.0,97.8 1047.0,99.4 C1046.0,100.9 1044.7,102.3 1043.2,103.4 C1041.7,104.5 1039.9,105.2 1038.1,105.9 C1036.3,106.7 1034.3,107.3 1032.5,107.9 C1030.6,108.6 1028.6,109.1 1026.7,109.6 C1024.8,110.0 1022.8,110.3 1020.8,110.6 C1018.8,110.9 1016.8,111.0 1014.9,111.3 C1012.9,111.5 1010.9,111.7 1008.9,111.8 C1006.9,112.0 1004.9,112.2 1002.9,112.4 C1000.9,112.6 998.9,112.8 996.9,113.0 C994.9,113.2 992.9,113.4 990.9,113.6 C988.9,113.7 986.9,113.9 984.9,114.0 C982.9,114.1 980.9,114.1 978.9,114.2 C976.9,114.3 974.9,114.3 972.9,114.4 C970.9,114.5 968.9,114.5 966.9,114.6 C964.9,114.7 962.9,114.7 960.9,114.8 C958.9,114.9 956.9,114.9 954.9,115.0 C952.9,115.1 950.9,115.1 948.9,115.2 C946.9,115.3 944.9,115.3 942.9,115.4 C940.9,115.5 938.9,115.5 936.9,115.6 C934.9,115.6 932.9,115.7 930.9,115.8 C928.9,115.8 926.9,115.8 924.9,115.9 C922.9,115.9 920.9,115.9 918.9,115.9 C916.9,116.0 914.9,116.0 912.9,116.0 C910.8,116.0 908.8,116.1 906.8,116.1 C904.8,116.1 902.8,116.1 900.8,116.2 C898.8,116.2 896.8,116.2 894.8,116.2 C892.8,116.3 890.8,116.3 888.8,116.3 C886.8,116.3 884.8,116.4 882.8,116.4 C880.8,116.4 878.8,116.4 876.8,116.5 C874.8,116.5 872.8,116.5 870.8,116.5 C868.8,116.5 866.8,116.5 864.8,116.6 C862.8,116.6 860.8,116.6 858.8,116.6 C856.8,116.6 854.8,116.6 852.8,116.7 C850.8,116.7 848.8,116.7 846.7,116.7 C844.7,116.7 842.7,116.7 840.7,116.8 C838.7,116.8 836.7,116.8 834.7,116.8 C832.7,116.8 830.7,116.9 828.7,116.9 C826.7,116.9 824.7,117.0 822.7,117.0 C820.7,117.0 818.7,117.1 816.7,117.1 C814.7,117.1 812.7,117.2 810.7,117.2 C808.7,117.2 806.7,117.3 804.7,117.3 C802.7,117.3 800.7,117.4 798.7,117.4 C796.7,117.4 794.7,117.5 792.7,117.5 C790.7,117.6 788.7,117.7 786.7,117.7 C784.7,117.8 782.7,117.9 780.7,117.9 C778.7,118.0 776.7,118.1 774.7,118.2 C772.6,118.3 770.6,118.3 768.6,118.4 C766.6,118.5 764.6,118.6 762.6,118.6 C760.6,118.7 758.6,118.8 756.6,118.9 C754.6,118.9 752.6,119.0 750.6,119.1 C748.6,119.2 746.6,119.2 744.6,119.3 C742.6,119.4 740.6,119.5 738.6,119.6 C736.6,119.7 734.6,119.8 732.6,119.9 C730.6,120.0 728.6,120.2 726.6,120.3 C724.6,120.4 722.6,120.6 720.6,120.7 C718.6,120.9 716.6,121.0 714.6,121.2 C712.6,121.3 710.6,121.5 708.6,121.6 C706.6,121.8 704.6,121.9 702.6,122.0 C700.6,122.2 698.7,122.3 696.7,122.4 C694.7,122.6 692.7,122.7 690.7,122.8 C688.7,122.9 686.7,123.0 684.7,123.1 C682.6,123.2 680.6,123.3 678.6,123.4 C676.6,123.5 674.7,123.6 672.7,123.8 C670.7,123.9 668.7,124.1 666.7,124.3 C664.7,124.5 662.7,124.7 660.7,124.9 C658.7,125.1 656.7,125.3 654.7,125.5 C652.7,125.8 650.7,126.0 648.7,126.2 C646.8,126.5 644.6,126.7 642.8,126.9 C641.0,127.1 638.6,127.4 637.8,127.5 M637.8,127.5 C638.0,126.5 638.4,123.5 638.8,121.6 C639.1,119.6 639.4,117.6 639.8,115.7 C640.3,113.7 640.6,111.7 641.2,109.9 C641.9,108.1 642.6,106.2 643.7,104.7 C644.7,103.2 646.1,101.8 647.7,100.7 C649.2,99.6 651.1,98.8 652.9,98.1 C654.7,97.4 656.7,97.0 658.6,96.6 C660.6,96.2 662.6,96.0 664.5,95.7 C666.5,95.5 668.5,95.2 670.5,95.0 C672.5,94.9 674.5,94.7 676.5,94.6 C678.5,94.4 680.5,94.3 682.5,94.2 C684.5,94.1 686.5,94.1 688.5,94.0 C690.5,93.9 692.5,93.8 694.5,93.8 C696.5,93.7 698.5,93.7 700.5,93.6 C702.5,93.6 704.5,93.6 706.5,93.5 C708.5,93.5 710.5,93.5 712.5,93.5 C714.5,93.4 716.5,93.4 718.5,93.4 C720.5,93.4 722.5,93.3 724.5,93.3 C726.5,93.3 728.5,93.2 730.5,93.2 C732.5,93.2 734.5,93.2 736.5,93.1 C738.5,93.1 740.5,93.1 742.5,93.1 C744.5,93.0 746.5,93.0 748.5,93.0 C750.5,93.0 752.5,92.9 754.6,92.9 C756.6,92.9 758.6,92.9 760.6,93.0 C762.6,93.0 764.6,93.0 766.6,93.0 C768.6,93.0 770.6,93.0 772.6,93.0 C774.6,93.1 776.6,93.1 778.6,93.1 C780.6,93.1 782.6,93.1 784.6,93.1 C786.6,93.1 788.6,93.2 790.6,93.2 C792.6,93.2 794.6,93.2 796.6,93.2 C798.6,93.2 800.6,93.2 802.6,93.3 C804.6,93.3 806.6,93.3 808.6,93.3 C810.6,93.3 812.6,93.3 814.6,93.3 C816.6,93.4 818.6,93.4 820.6,93.4 C822.6,93.4 824.6,93.4 826.6,93.4 C828.6,93.4 830.6,93.5 832.6,93.5 C834.6,93.5 836.6,93.5 838.6,93.4 C840.7,93.4 842.7,93.4 844.7,93.4 C846.7,93.4 848.7,93.4 850.7,93.3 C852.7,93.3 854.7,93.3 856.7,93.3 C858.7,93.3 860.7,93.2 862.7,93.2 C864.7,93.2 866.7,93.2 868.7,93.1 C870.7,93.1 872.7,93.1 874.7,93.1 C876.7,93.1 878.7,93.0 880.7,93.0 C882.7,93.0 884.7,93.0 886.7,92.9 C888.7,92.9 890.7,92.9 892.7,92.8 C894.7,92.7 896.7,92.6 898.7,92.5 C900.7,92.3 902.7,92.2 904.7,92.1 C906.7,91.9 908.7,91.8 910.7,91.7 C912.7,91.5 914.7,91.4 916.7,91.3 C918.7,91.1 920.7,91.0 922.7,90.8 C924.7,90.7 926.7,90.6 928.7,90.4 C930.7,90.3 932.7,90.2 934.7,90.0 C936.7,89.9 938.7,89.8 940.7,89.6 C942.7,89.5 944.7,89.3 946.6,89.2 C948.6,89.0 950.6,88.8 952.6,88.6 C954.6,88.3 956.6,88.0 958.6,87.8 C960.6,87.5 962.5,87.2 964.5,87.0 C966.5,86.7 968.5,86.4 970.5,86.1 C972.5,85.8 974.4,85.6 976.4,85.3 C978.4,85.0 980.4,84.7 982.4,84.5 C984.4,84.2 986.3,83.9 988.3,83.6 C990.3,83.3 992.3,83.1 994.3,82.8 C996.2,82.4 998.2,82.1 1000.2,81.8 C1002.2,81.4 1004.1,81.0 1006.1,80.6 C1008.1,80.3 1010.0,79.9 1012.0,79.5 C1013.9,79.1 1015.9,78.7 1017.9,78.3 C1019.8,77.9 1021.8,77.5 1023.7,77.0 C1025.7,76.5 1027.6,76.0 1029.5,75.3 C1031.4,74.7 1033.3,74.0 1035.1,73.3 C1037.0,72.7 1038.9,71.9 1040.8,71.2 C1042.6,70.5 1044.5,69.8 1046.4,69.1 C1048.3,68.4 1051.1,67.4 1052.0,67.0" fill="none" stroke="#a02de8" stroke-width="3.2" stroke-linejoin="round" stroke-linecap="round"/>
</g>
<g clip-path="url(#clb)">
<path d="M541.0,552.0 C540.7,552.9 540.1,555.9 539.4,557.6 C538.6,559.3 537.7,560.9 536.4,562.1 C535.1,563.3 533.4,564.0 531.6,564.7 C529.9,565.4 527.8,565.8 525.9,566.4 C524.0,566.9 522.0,567.3 520.1,567.8 C518.1,568.3 516.2,568.8 514.2,569.3 C512.3,569.8 510.4,570.2 508.4,570.7 C506.5,571.2 504.5,571.7 502.6,572.2 C500.6,572.7 498.7,573.2 496.7,573.7 C494.8,574.1 492.8,574.6 490.9,575.1 C488.9,575.6 487.0,576.1 485.1,576.6 C483.1,577.1 481.2,577.6 479.2,578.1 C477.3,578.6 475.4,579.1 473.4,579.6 C471.5,580.1 469.5,580.7 467.6,581.2 C465.7,581.7 463.7,582.3 461.8,582.8 C459.9,583.3 457.9,583.9 456.0,584.4 C454.1,584.9 452.1,585.4 450.2,586.0 C448.3,586.5 446.3,587.0 444.4,587.6 C442.5,588.1 440.5,588.6 438.6,589.2 C436.7,589.7 434.7,590.2 432.8,590.8 C430.9,591.3 428.9,591.8 427.0,592.4 C425.1,592.9 423.1,593.4 421.2,594.0 C419.3,594.5 417.3,595.0 415.4,595.6 C413.5,596.1 411.5,596.7 409.6,597.2 C407.7,597.7 405.7,598.3 403.8,598.8 C401.9,599.4 399.9,599.9 398.0,600.5 C396.1,601.0 394.2,601.6 392.3,602.2 C390.3,602.8 388.4,603.3 386.5,603.9 C384.6,604.5 382.6,605.0 380.7,605.6 C378.8,606.2 376.9,606.8 374.9,607.3 C373.0,607.9 371.1,608.5 369.2,609.1 C367.3,609.7 365.4,610.4 363.6,611.1 C361.7,611.9 359.9,612.8 358.2,613.7 C356.4,614.6 354.6,615.6 352.9,616.6 C351.1,617.5 349.4,618.5 347.6,619.5 C345.8,620.4 344.1,621.4 342.3,622.4 C340.6,623.3 338.8,624.3 337.1,625.3 C335.3,626.2 333.5,627.2 331.8,628.2 C330.1,629.2 328.4,630.2 326.7,631.3 C325.0,632.3 323.4,633.5 321.7,634.5 C320.0,635.5 318.3,636.5 316.5,637.1 C314.7,637.8 312.8,638.4 310.9,638.5 C309.0,638.7 307.1,638.5 305.2,638.1 C303.3,637.8 301.4,637.0 299.6,636.3 C297.8,635.6 295.9,634.7 294.2,633.8 C292.4,632.9 290.7,631.8 289.0,630.8 C287.3,629.8 285.6,628.7 283.8,627.7 C282.1,626.7 280.3,625.8 278.5,625.0 C276.7,624.1 274.9,623.3 273.0,622.6 C271.1,621.9 269.2,621.3 267.3,620.8 C265.4,620.3 263.2,619.9 261.4,619.6 C259.6,619.3 257.3,618.9 256.5,618.8 M256.5,618.8 C256.5,617.8 256.5,614.8 256.5,612.8 C256.5,610.8 256.5,608.8 256.5,606.8 C256.5,604.8 256.5,602.8 256.5,600.8 C256.5,598.8 256.5,596.8 256.5,594.8 C256.5,592.8 256.6,590.8 256.6,588.8 C256.6,586.7 256.7,584.7 256.8,582.7 C256.8,580.7 256.9,578.7 257.0,576.7 C257.0,574.7 257.1,572.7 257.2,570.7 C257.3,568.7 257.4,566.7 257.4,564.7 C257.5,562.7 257.6,560.7 257.7,558.7 C257.8,556.7 257.9,554.7 258.0,552.7 C258.1,550.7 258.2,548.7 258.3,546.7 C258.4,544.7 258.6,542.7 258.7,540.7 C258.9,538.7 259.1,536.7 259.3,534.7 C259.5,532.7 259.7,530.7 259.8,528.8 C260.0,526.8 260.2,524.8 260.4,522.8 C260.7,520.8 260.9,518.8 261.3,516.9 C261.8,515.0 262.4,513.1 263.2,511.4 C264.0,509.6 265.1,507.9 266.2,506.4 C267.4,504.8 268.7,503.3 270.2,502.1 C271.6,500.8 273.3,499.7 275.0,498.6 C276.6,497.6 278.4,496.6 280.2,495.7 C281.9,494.7 283.7,493.7 285.4,492.8 C287.2,491.9 289.0,491.0 290.8,490.0 C292.5,489.1 294.4,488.3 296.1,487.3 C297.8,486.3 299.5,485.3 301.2,484.2 C302.8,483.0 304.2,481.7 305.7,480.4 C307.2,479.0 308.6,477.6 310.0,476.1 C311.4,474.7 312.7,473.2 314.0,471.7 C315.4,470.2 316.6,468.6 318.0,467.2 C319.3,465.8 320.7,464.4 322.3,463.1 C323.8,461.9 325.5,460.8 327.2,460.0 C329.0,459.1 330.8,458.3 332.7,457.8 C334.6,457.3 336.5,457.0 338.5,456.9 C340.4,456.8 342.4,457.1 344.3,457.4 C346.2,457.7 348.1,458.3 350.0,458.9 C351.9,459.6 353.7,460.4 355.5,461.2 C357.3,462.1 359.0,463.1 360.8,464.1 C362.5,465.0 364.2,466.1 365.9,467.1 C367.7,468.1 369.4,469.1 371.2,470.0 C373.0,470.9 374.8,471.7 376.7,472.4 C378.5,473.1 380.4,473.8 382.3,474.4 C384.2,475.1 386.1,475.7 388.0,476.3 C389.9,476.9 391.8,477.6 393.7,478.2 C395.6,478.8 397.5,479.4 399.5,480.0 C401.4,480.6 403.3,481.1 405.2,481.6 C407.2,482.1 409.1,482.5 411.1,483.0 C413.0,483.5 415.0,483.9 416.9,484.4 C418.9,484.8 420.8,485.3 422.8,485.7 C424.7,486.2 426.7,486.6 428.7,487.0 C430.6,487.4 432.6,487.8 434.6,488.2 C436.5,488.5 438.5,488.9 440.5,489.2 C442.4,489.5 444.4,489.9 446.4,490.2 C448.4,490.5 450.4,490.9 452.3,491.2 C454.3,491.5 456.3,491.8 458.3,492.1 C460.2,492.4 462.2,492.7 464.2,492.9 C466.2,493.2 468.2,493.4 470.2,493.7 C472.2,494.0 474.2,494.2 476.1,494.4 C478.1,494.7 480.1,494.9 482.1,495.2 C484.1,495.4 486.1,495.7 488.1,495.9 C490.1,496.2 492.0,496.4 494.0,496.6 C496.0,496.9 498.0,497.0 500.0,497.2 C502.0,497.4 504.0,497.5 506.0,497.6 C508.0,497.8 510.0,497.9 512.0,498.0 C514.0,498.2 516.0,498.3 518.0,498.4 C520.0,498.5 522.0,498.7 524.0,498.8 C526.0,498.9 528.0,499.0 530.0,499.2 C532.0,499.3 534.0,499.4 536.0,499.6 C538.0,499.7 540.8,499.9 542.0,499.9 C543.2,500.0 542.8,500.0 543.0,500.0" fill="none" stroke="#000000" stroke-width="4.4" stroke-linejoin="round" stroke-linecap="round"/>
<path d="M541.0,550.0 C540.8,551.0 540.2,554.0 539.6,555.8 C539.0,557.6 538.4,559.4 537.4,560.7 C536.3,562.1 534.8,563.0 533.2,563.8 C531.6,564.6 529.6,564.9 527.7,565.3 C525.8,565.8 523.7,566.1 521.8,566.5 C519.8,566.9 517.9,567.3 515.9,567.7 C513.9,568.1 512.0,568.5 510.0,568.9 C508.1,569.4 506.1,569.8 504.2,570.2 C502.2,570.7 500.3,571.1 498.3,571.5 C496.4,572.0 494.4,572.4 492.5,572.8 C490.5,573.3 488.6,573.7 486.6,574.1 C484.7,574.6 482.7,575.0 480.8,575.5 C478.8,575.9 476.9,576.4 474.9,576.9 C473.0,577.4 471.1,577.9 469.1,578.4 C467.2,578.9 465.2,579.4 463.3,579.9 C461.4,580.4 459.4,580.9 457.5,581.4 C455.6,581.9 453.6,582.4 451.7,582.9 C449.8,583.4 447.8,583.9 445.9,584.5 C444.0,585.0 442.1,585.5 440.1,586.1 C438.2,586.7 436.3,587.4 434.5,588.0 C432.6,588.7 430.7,589.4 428.8,590.1 C426.9,590.7 425.1,591.4 423.2,592.1 C421.3,592.8 419.4,593.5 417.5,594.2 C415.7,594.9 413.8,595.5 411.9,596.2 C410.0,596.9 408.2,597.6 406.3,598.3 C404.4,599.0 402.5,599.7 400.7,600.4 C398.8,601.1 396.9,601.8 395.0,602.5 C393.2,603.2 391.3,604.0 389.4,604.7 C387.6,605.4 385.7,606.1 383.8,606.8 C382.0,607.5 380.1,608.2 378.2,609.0 C376.4,609.7 374.5,610.4 372.6,611.1 C370.8,611.9 368.9,612.6 367.1,613.4 C365.3,614.2 363.5,615.1 361.7,616.0 C360.0,617.0 358.3,618.0 356.6,619.1 C354.9,620.1 353.2,621.2 351.6,622.3 C349.9,623.4 348.2,624.5 346.5,625.6 C344.9,626.7 343.2,627.8 341.5,628.9 C339.8,630.0 338.1,631.1 336.5,632.1 C334.8,633.2 333.1,634.3 331.4,635.4 C329.7,636.5 328.1,637.5 326.3,638.6 C324.6,639.6 322.9,640.5 321.1,641.5 C319.3,642.4 317.6,643.3 315.8,644.2 C314.0,645.2 312.2,646.1 310.5,647.1 C308.7,648.0 307.0,649.0 305.3,650.1 C303.6,651.1 301.9,652.1 300.1,653.1 C298.4,654.2 296.7,655.2 295.0,656.3 C293.3,657.3 291.7,658.4 290.0,659.5 C288.3,660.6 286.7,661.8 285.0,662.9 C283.4,664.0 281.8,665.2 280.1,666.3 C278.4,667.4 276.8,668.5 275.0,669.4 C273.3,670.2 271.5,670.9 269.6,671.4 C267.7,671.9 265.7,672.2 263.8,672.4 C261.8,672.6 259.8,672.8 257.9,672.7 C255.9,672.6 254.0,672.3 252.1,671.8 C250.2,671.4 248.3,670.6 246.4,670.0 C244.6,669.4 242.7,668.7 240.8,668.2 C238.8,667.6 236.9,667.1 235.0,666.7 C233.0,666.2 231.1,665.8 229.1,665.5 C227.1,665.1 225.2,664.8 223.2,664.7 C221.3,664.6 219.3,664.6 217.3,664.8 C215.4,665.0 213.4,665.4 211.5,665.8 C209.5,666.2 207.6,666.6 205.7,667.2 C203.9,667.9 202.1,668.6 200.4,669.5 C198.6,670.5 196.8,671.9 195.5,672.9 C194.1,673.8 192.8,674.9 192.3,675.3 M192.3,675.3 C192.3,674.3 192.4,671.3 192.4,669.3 C192.5,667.3 192.5,665.3 192.5,663.3 C192.6,661.3 192.6,659.3 192.7,657.3 C192.7,655.3 192.7,653.3 192.8,651.3 C192.8,649.3 192.9,647.3 192.9,645.3 C192.9,643.3 193.0,641.3 193.0,639.3 C193.0,637.3 193.1,635.3 193.1,633.3 C193.1,631.3 193.2,629.3 193.2,627.3 C193.2,625.3 193.3,623.3 193.3,621.3 C193.3,619.3 193.3,617.3 193.4,615.3 C193.4,613.3 193.4,611.3 193.5,609.3 C193.5,607.3 193.5,605.3 193.6,603.3 C193.6,601.3 193.6,599.3 193.7,597.3 C193.7,595.3 193.7,593.3 193.8,591.3 C193.8,589.3 193.9,587.3 193.9,585.3 C193.9,583.3 194.0,581.3 194.0,579.3 C194.1,577.3 194.1,575.3 194.2,573.3 C194.2,571.3 194.3,569.3 194.4,567.3 C194.5,565.3 194.6,563.3 194.8,561.3 C195.0,559.3 195.2,557.3 195.5,555.4 C195.9,553.4 196.3,551.5 196.8,549.6 C197.4,547.6 198.1,545.8 198.8,543.9 C199.5,542.1 200.4,540.2 201.2,538.4 C202.0,536.6 202.8,534.8 203.7,533.0 C204.5,531.2 205.4,529.4 206.3,527.6 C207.2,525.8 208.1,524.0 209.0,522.2 C209.9,520.4 210.8,518.6 211.8,516.9 C212.8,515.2 213.9,513.5 215.1,511.9 C216.2,510.3 217.6,508.8 218.8,507.3 C220.1,505.8 221.5,504.3 222.8,502.8 C224.2,501.3 225.5,499.8 226.9,498.4 C228.3,497.0 229.7,495.5 231.1,494.2 C232.5,492.8 234.0,491.4 235.5,490.1 C237.0,488.7 238.5,487.4 240.0,486.1 C241.4,484.7 242.9,483.4 244.4,482.0 C245.9,480.7 247.4,479.4 248.9,478.0 C250.3,476.7 251.8,475.3 253.3,474.0 C254.8,472.6 256.3,471.3 257.8,469.9 C259.2,468.6 260.7,467.2 262.2,465.9 C263.7,464.6 265.2,463.2 266.6,461.9 C268.1,460.5 269.6,459.2 271.1,457.9 C272.6,456.5 274.1,455.2 275.6,453.9 C277.1,452.6 278.6,451.2 280.1,449.9 C281.6,448.7 283.2,447.4 284.8,446.3 C286.5,445.3 288.2,444.4 290.0,443.6 C291.8,442.8 293.7,442.2 295.6,441.7 C297.5,441.2 299.4,440.8 301.4,440.7 C303.3,440.5 305.3,440.7 307.2,440.9 C309.2,441.1 311.2,441.5 313.1,441.9 C315.0,442.4 317.0,442.9 318.9,443.4 C320.8,444.0 322.7,444.6 324.6,445.3 C326.5,445.9 328.3,446.7 330.2,447.3 C332.1,448.0 334.0,448.7 335.9,449.4 C337.7,450.1 339.6,450.8 341.5,451.5 C343.4,452.2 345.2,452.9 347.1,453.6 C349.0,454.2 350.9,454.9 352.8,455.6 C354.7,456.3 356.5,456.9 358.4,457.6 C360.3,458.2 362.2,458.8 364.1,459.5 C366.0,460.1 367.9,460.7 369.8,461.3 C371.7,462.0 373.6,462.6 375.5,463.2 C377.4,463.8 379.3,464.4 381.3,465.0 C383.2,465.6 385.1,466.2 387.0,466.7 C388.9,467.2 390.9,467.8 392.8,468.3 C394.7,468.8 396.7,469.3 398.6,469.8 C400.5,470.3 402.5,470.9 404.4,471.4 C406.3,471.9 408.3,472.4 410.2,472.8 C412.2,473.2 414.1,473.6 416.1,474.0 C418.1,474.3 420.0,474.7 422.0,475.0 C424.0,475.3 426.0,475.7 427.9,476.0 C429.9,476.3 431.9,476.7 433.9,477.0 C435.8,477.3 437.8,477.6 439.8,478.0 C441.7,478.3 443.7,478.6 445.7,479.0 C447.7,479.3 449.6,479.6 451.6,480.0 C453.6,480.3 455.6,480.6 457.5,480.9 C459.5,481.3 461.5,481.6 463.5,481.9 C465.4,482.2 467.4,482.6 469.4,482.8 C471.4,483.1 473.3,483.4 475.3,483.7 C477.3,484.0 479.3,484.2 481.3,484.5 C483.3,484.7 485.2,485.0 487.2,485.3 C489.2,485.5 491.2,485.8 493.2,486.0 C495.2,486.3 497.2,486.5 499.1,486.7 C501.1,486.9 503.1,487.1 505.1,487.2 C507.1,487.4 509.1,487.6 511.1,487.7 C513.1,487.9 515.1,488.1 517.1,488.2 C519.1,488.4 521.1,488.6 523.1,488.7 C525.1,488.9 527.0,489.1 529.0,489.2 C531.0,489.4 533.0,489.6 535.0,489.7 C537.0,489.9 539.7,490.1 541.0,490.2 C542.3,490.3 542.7,490.4 543.0,490.4" fill="none" stroke="#56f812" stroke-width="4.4" stroke-linejoin="round" stroke-linecap="round"/>
<path d="M541.0,548.0 C540.8,549.0 540.4,552.0 539.9,553.9 C539.4,555.7 539.0,557.7 538.0,559.2 C537.1,560.6 535.8,561.8 534.3,562.7 C532.8,563.6 530.9,564.0 529.0,564.5 C527.1,564.9 525.1,565.2 523.1,565.6 C521.2,566.0 519.2,566.3 517.2,566.7 C515.3,567.1 513.3,567.5 511.3,567.8 C509.4,568.2 507.4,568.6 505.4,569.0 C503.5,569.4 501.5,569.8 499.6,570.2 C497.6,570.6 495.6,571.0 493.7,571.4 C491.7,571.8 489.7,572.2 487.8,572.6 C485.8,573.0 483.8,573.4 481.9,573.8 C479.9,574.2 478.0,574.6 476.0,575.1 C474.1,575.5 472.1,576.0 470.2,576.5 C468.2,577.0 466.3,577.5 464.3,577.9 C462.4,578.4 460.4,578.9 458.5,579.4 C456.5,579.9 454.6,580.3 452.7,580.8 C450.7,581.3 448.8,581.8 446.8,582.3 C444.9,582.9 443.0,583.4 441.1,584.0 C439.2,584.7 437.4,585.5 435.6,586.3 C433.7,587.1 432.0,588.0 430.2,588.9 C428.4,589.8 426.6,590.7 424.8,591.6 C423.0,592.5 421.2,593.4 419.4,594.3 C417.6,595.2 415.8,596.1 414.0,597.0 C412.2,597.9 410.5,598.8 408.7,599.7 C406.9,600.5 405.1,601.4 403.2,602.3 C401.4,603.1 399.6,603.9 397.7,604.7 C395.9,605.5 394.0,606.2 392.2,607.0 C390.3,607.7 388.5,608.4 386.6,609.2 C384.7,609.9 382.9,610.7 381.0,611.4 C379.2,612.2 377.3,612.9 375.4,613.7 C373.6,614.4 371.7,615.1 369.9,615.9 C368.0,616.6 366.1,617.4 364.3,618.1 C362.4,618.8 360.5,619.6 358.7,620.3 C356.8,621.0 354.9,621.7 353.1,622.4 C351.2,623.2 349.3,623.9 347.4,624.6 C345.6,625.3 343.7,626.0 341.8,626.8 C340.0,627.5 338.1,628.2 336.2,628.9 C334.4,629.7 332.5,630.5 330.7,631.3 C328.9,632.2 327.2,633.1 325.4,634.1 C323.7,635.1 322.0,636.1 320.3,637.2 C318.5,638.2 316.8,639.2 315.1,640.3 C313.4,641.3 311.7,642.3 309.9,643.4 C308.2,644.4 306.5,645.4 304.8,646.5 C303.1,647.5 301.4,648.5 299.6,649.5 C297.9,650.6 296.2,651.6 294.5,652.6 C292.8,653.7 291.1,654.7 289.3,655.7 C287.6,656.8 285.9,657.8 284.2,658.8 C282.5,659.9 280.8,660.9 279.0,662.0 C277.3,663.0 275.6,664.0 273.9,665.1 C272.2,666.1 270.5,667.1 268.7,668.2 C267.0,669.2 265.3,670.2 263.6,671.3 C261.9,672.3 260.2,673.3 258.4,674.4 C256.7,675.4 255.0,676.4 253.3,677.4 C251.6,678.5 249.8,679.5 248.1,680.5 C246.4,681.6 244.7,682.6 243.0,683.6 C241.2,684.6 239.5,685.7 237.8,686.7 C236.0,687.6 234.3,688.6 232.5,689.5 C230.7,690.4 228.9,691.3 227.1,692.1 C225.3,693.0 223.5,693.8 221.6,694.7 C219.8,695.5 218.0,696.4 216.2,697.2 C214.4,698.1 212.6,698.9 210.7,699.7 C208.9,700.5 207.1,701.3 205.2,702.1 C203.3,702.8 201.5,703.5 199.6,704.1 C197.7,704.8 195.8,705.4 193.9,706.1 C192.0,706.7 190.1,707.3 188.2,708.0 C186.3,708.6 184.4,709.2 182.5,709.8 C180.6,710.4 178.6,711.0 176.7,711.6 C174.8,712.1 172.8,712.6 170.9,713.1 C169.0,713.6 167.0,714.0 165.1,714.5 C163.1,714.9 161.2,715.4 159.2,715.9 C157.2,716.3 155.3,716.8 153.3,717.2 C151.4,717.6 149.4,718.1 147.5,718.5 C145.5,718.9 143.5,719.3 141.6,719.7 C139.6,720.1 137.7,720.5 135.7,720.9 C133.7,721.2 130.9,721.8 129.8,722.0 C128.6,722.2 129.0,722.2 128.8,722.2 M128.8,722.2 C128.8,721.2 128.9,718.2 128.9,716.2 C128.9,714.2 129.0,712.2 129.0,710.2 C129.1,708.2 129.1,706.2 129.2,704.2 C129.3,702.2 129.4,700.2 129.5,698.2 C129.6,696.2 129.8,694.2 129.9,692.2 C130.1,690.2 130.2,688.2 130.3,686.2 C130.5,684.2 130.6,682.2 130.8,680.2 C130.9,678.2 131.1,676.3 131.3,674.3 C131.5,672.3 131.8,670.3 132.0,668.3 C132.3,666.3 132.6,664.3 132.8,662.4 C133.1,660.4 133.3,658.4 133.6,656.4 C133.9,654.4 134.1,652.4 134.4,650.5 C134.7,648.5 135.0,646.5 135.4,644.5 C135.7,642.6 136.1,640.6 136.5,638.6 C136.9,636.7 137.3,634.7 137.7,632.7 C138.0,630.8 138.4,628.8 138.8,626.9 C139.2,624.9 139.6,622.9 140.1,621.0 C140.5,619.0 141.0,617.1 141.5,615.2 C142.1,613.2 142.7,611.3 143.2,609.4 C143.8,607.5 144.4,605.6 145.0,603.7 C145.6,601.8 146.2,599.9 146.8,598.0 C147.4,596.0 148.0,594.1 148.7,592.3 C149.3,590.4 150.0,588.5 150.7,586.6 C151.4,584.7 152.1,582.9 152.8,581.0 C153.6,579.1 154.3,577.3 155.1,575.4 C155.8,573.6 156.6,571.7 157.4,569.9 C158.2,568.1 159.0,566.2 159.8,564.4 C160.6,562.5 161.4,560.7 162.2,558.9 C163.0,557.0 163.7,555.2 164.5,553.4 C165.3,551.5 166.1,549.7 166.9,547.9 C167.7,546.0 168.6,544.2 169.4,542.4 C170.2,540.5 171.0,538.7 171.8,536.9 C172.6,535.0 173.4,533.2 174.2,531.4 C175.0,529.6 175.8,527.7 176.7,526.0 C177.6,524.2 178.6,522.4 179.6,520.7 C180.6,518.9 181.6,517.2 182.6,515.5 C183.7,513.8 184.7,512.1 185.7,510.4 C186.7,508.6 187.8,506.9 188.8,505.2 C189.8,503.5 190.9,501.8 191.9,500.1 C193.0,498.4 194.1,496.7 195.2,495.0 C196.3,493.4 197.5,491.8 198.7,490.1 C199.8,488.5 201.0,486.9 202.2,485.3 C203.4,483.7 204.6,482.1 205.7,480.5 C206.9,478.8 208.1,477.2 209.3,475.6 C210.5,474.0 211.7,472.4 212.9,470.8 C214.1,469.3 215.4,467.7 216.7,466.2 C218.1,464.7 219.5,463.3 220.9,461.9 C222.3,460.5 223.7,459.1 225.1,457.6 C226.5,456.2 227.9,454.8 229.4,453.4 C230.8,452.1 232.3,450.7 233.8,449.4 C235.3,448.1 236.9,446.8 238.4,445.6 C240.0,444.4 241.7,443.3 243.3,442.1 C245.0,441.0 246.6,439.8 248.3,438.7 C249.9,437.6 251.6,436.5 253.3,435.6 C255.1,434.6 256.9,433.8 258.7,432.9 C260.5,432.1 262.4,431.4 264.2,430.6 C266.1,429.9 267.9,429.2 269.8,428.6 C271.7,428.0 273.7,427.5 275.6,427.2 C277.6,426.8 279.5,426.6 281.5,426.4 C283.5,426.1 285.5,425.9 287.5,425.8 C289.5,425.7 291.5,425.7 293.5,425.7 C295.5,425.8 297.5,425.9 299.4,426.1 C301.4,426.2 303.4,426.4 305.4,426.7 C307.4,426.9 309.4,427.2 311.4,427.5 C313.3,427.8 315.3,428.1 317.3,428.5 C319.2,428.9 321.2,429.3 323.1,429.7 C325.1,430.2 327.0,430.6 329.0,431.0 C330.9,431.5 332.9,431.9 334.8,432.4 C336.8,432.9 338.7,433.3 340.7,433.8 C342.6,434.2 344.6,434.7 346.5,435.1 C348.5,435.6 350.4,436.0 352.4,436.4 C354.3,436.9 356.3,437.3 358.3,437.7 C360.2,438.1 362.2,438.5 364.2,438.9 C366.1,439.3 368.1,439.7 370.0,440.0 C372.0,440.4 374.0,440.8 375.9,441.2 C377.9,441.5 379.9,441.9 381.8,442.1 C383.8,442.4 385.8,442.5 387.8,442.6 C389.8,442.8 391.8,442.8 393.8,442.9 C395.8,443.0 397.8,443.0 399.8,443.1 C401.8,443.2 403.8,443.2 405.8,443.4 C407.8,443.5 409.8,443.6 411.8,443.8 C413.8,444.0 415.7,444.2 417.7,444.5 C419.7,444.8 421.7,445.1 423.7,445.4 C425.6,445.7 427.6,446.1 429.6,446.5 C431.5,446.9 433.5,447.3 435.4,447.8 C437.4,448.3 439.3,448.8 441.2,449.3 C443.2,449.8 445.1,450.3 447.0,450.8 C449.0,451.3 450.9,451.9 452.8,452.4 C454.8,452.9 456.7,453.4 458.6,454.0 C460.5,454.5 462.5,455.1 464.4,455.6 C466.3,456.2 468.2,456.8 470.1,457.4 C472.0,458.0 474.0,458.5 475.9,459.1 C477.8,459.7 479.7,460.3 481.6,460.8 C483.6,461.4 485.5,461.9 487.4,462.4 C489.4,462.8 491.3,463.2 493.3,463.6 C495.3,463.9 497.2,464.2 499.2,464.6 C501.2,464.9 503.2,465.2 505.1,465.5 C507.1,465.9 509.1,466.2 511.1,466.5 C513.0,466.7 515.0,467.0 517.0,467.1 C519.0,467.3 521.0,467.3 523.0,467.4 C525.0,467.4 527.0,467.4 529.0,467.4 C531.0,467.4 533.0,467.4 535.0,467.4 C537.0,467.4 539.7,467.4 541.0,467.4 C542.3,467.4 542.7,467.4 543.0,467.4" fill="none" stroke="#1c2ced" stroke-width="4.4" stroke-linejoin="round" stroke-linecap="round"/>
<path d="M541.4,540.0 C541.2,541.0 540.7,544.0 540.3,545.9 C539.8,547.8 539.4,549.8 538.7,551.6 C538.0,553.3 537.1,555.1 535.9,556.3 C534.7,557.6 533.1,558.5 531.5,559.2 C529.8,559.9 527.8,560.2 525.8,560.5 C523.9,560.9 521.9,561.2 519.9,561.5 C518.0,561.8 516.0,562.1 514.0,562.4 C512.0,562.7 510.0,563.0 508.1,563.3 C506.1,563.6 504.1,563.9 502.1,564.2 C500.2,564.5 498.2,564.8 496.2,565.1 C494.2,565.4 492.2,565.7 490.3,566.0 C488.3,566.3 486.3,566.6 484.3,566.9 C482.4,567.2 480.4,567.5 478.4,567.9 C476.4,568.3 474.5,568.7 472.5,569.1 C470.6,569.5 468.6,570.0 466.7,570.4 C464.7,570.8 462.8,571.3 460.8,571.7 C458.9,572.1 456.9,572.6 455.0,573.0 C453.0,573.5 451.1,573.9 449.1,574.3 C447.2,574.8 445.2,575.2 443.3,575.7 C441.3,576.2 439.4,576.7 437.5,577.3 C435.6,577.8 433.7,578.4 431.7,579.0 C429.8,579.7 427.9,580.3 426.0,580.9 C424.1,581.5 422.2,582.1 420.3,582.7 C418.4,583.4 416.5,584.0 414.6,584.6 C412.7,585.2 410.8,585.8 408.9,586.4 C407.0,587.0 405.1,587.6 403.2,588.2 C401.2,588.8 399.3,589.3 397.4,589.8 C395.5,590.3 393.5,590.8 391.6,591.3 C389.6,591.8 387.7,592.3 385.8,592.8 C383.8,593.3 381.9,593.7 379.9,594.2 C378.0,594.7 376.0,595.2 374.1,595.7 C372.2,596.2 370.2,596.7 368.3,597.2 C366.4,597.7 364.4,598.2 362.5,598.7 C360.6,599.2 358.6,599.8 356.7,600.4 C354.8,600.9 352.9,601.5 351.0,602.1 C349.0,602.6 347.1,603.2 345.2,603.8 C343.3,604.3 341.4,604.9 339.5,605.5 C337.5,606.1 335.6,606.6 333.7,607.3 C331.8,607.9 329.9,608.5 328.1,609.2 C326.2,609.9 324.3,610.6 322.5,611.4 C320.6,612.1 318.7,612.9 316.9,613.6 C315.0,614.4 313.2,615.1 311.3,615.9 C309.5,616.6 307.6,617.3 305.7,618.1 C303.9,618.8 302.0,619.6 300.2,620.3 C298.3,621.1 296.5,621.8 294.6,622.6 C292.8,623.4 291.0,624.2 289.2,625.1 C287.3,625.9 285.6,626.8 283.8,627.7 C282.0,628.6 280.2,629.5 278.4,630.4 C276.6,631.3 274.8,632.2 273.1,633.2 C271.3,634.1 269.6,635.1 267.9,636.1 C266.1,637.1 264.4,638.2 262.7,639.2 C261.0,640.2 259.3,641.3 257.5,642.2 C255.8,643.2 254.0,644.1 252.2,644.9 C250.4,645.7 248.5,646.4 246.6,647.1 C244.8,647.8 242.9,648.5 241.0,649.0 C239.1,649.6 237.2,650.2 235.2,650.5 C233.3,650.8 231.3,650.9 229.4,651.0 C227.4,651.0 225.4,650.9 223.4,650.8 C221.4,650.8 219.4,650.7 217.4,650.7 C215.4,650.7 213.4,650.8 211.4,650.9 C209.4,651.0 207.4,651.2 205.4,651.4 C203.5,651.6 201.5,651.8 199.5,652.2 C197.6,652.6 195.7,653.1 193.8,653.7 C191.9,654.3 190.1,655.1 188.2,655.9 C186.4,656.7 184.6,657.5 182.9,658.5 C181.1,659.4 179.5,660.5 177.9,661.6 C176.3,662.8 174.9,664.2 173.4,665.6 C172.0,666.9 170.6,668.4 169.3,669.9 C167.9,671.4 166.7,672.9 165.4,674.5 C164.2,676.0 162.6,678.3 161.9,679.3 C161.2,680.2 161.4,680.0 161.3,680.1 M161.3,680.1 C161.3,679.1 161.4,676.1 161.5,674.1 C161.6,672.1 161.6,670.1 161.7,668.1 C161.8,666.1 161.8,664.1 161.9,662.1 C162.0,660.1 162.0,658.1 162.1,656.1 C162.1,654.1 162.2,652.1 162.3,650.1 C162.3,648.1 162.4,646.1 162.5,644.1 C162.5,642.1 162.6,640.1 162.7,638.1 C162.8,636.1 162.9,634.1 163.0,632.0 C163.0,630.0 163.1,628.0 163.2,626.0 C163.3,624.0 163.4,622.0 163.5,620.0 C163.6,618.0 163.7,616.0 163.8,614.0 C163.9,612.0 164.0,610.0 164.1,608.0 C164.2,606.0 164.3,604.0 164.5,602.0 C164.6,600.0 164.8,598.0 165.0,596.1 C165.2,594.1 165.4,592.1 165.7,590.1 C165.9,588.1 166.1,586.1 166.4,584.1 C166.6,582.1 166.9,580.1 167.1,578.2 C167.4,576.2 167.6,574.2 167.9,572.2 C168.2,570.2 168.5,568.2 168.7,566.2 C169.0,564.3 169.3,562.3 169.6,560.3 C169.9,558.3 170.1,556.3 170.5,554.4 C170.8,552.4 171.2,550.4 171.7,548.5 C172.3,546.6 173.0,544.8 173.7,542.9 C174.4,541.1 175.3,539.3 176.1,537.4 C177.0,535.6 177.8,533.8 178.7,532.0 C179.5,530.2 180.3,528.3 181.3,526.6 C182.2,524.8 183.2,523.1 184.2,521.4 C185.3,519.7 186.5,518.1 187.6,516.4 C188.7,514.8 189.9,513.2 191.1,511.5 C192.3,509.9 193.4,508.3 194.7,506.7 C195.9,505.2 197.2,503.7 198.6,502.2 C200.0,500.8 201.5,499.6 203.1,498.3 C204.6,497.0 206.2,495.8 207.8,494.6 C209.4,493.4 211.0,492.2 212.6,491.0 C214.2,489.8 215.8,488.6 217.5,487.5 C219.1,486.3 220.7,485.1 222.3,484.0 C224.0,482.8 225.6,481.7 227.3,480.6 C229.0,479.4 230.6,478.3 232.3,477.2 C234.0,476.1 235.6,475.0 237.3,473.9 C239.0,472.8 240.6,471.7 242.4,470.7 C244.1,469.6 245.8,468.7 247.6,467.7 C249.3,466.7 251.1,465.8 252.9,465.0 C254.7,464.1 256.5,463.1 258.3,462.4 C260.1,461.6 262.0,460.9 263.9,460.4 C265.8,460.0 267.8,459.7 269.7,459.5 C271.7,459.3 273.7,459.2 275.7,459.2 C277.7,459.3 279.7,459.4 281.6,459.7 C283.6,459.9 285.6,460.3 287.5,460.7 C289.5,461.1 291.4,461.5 293.4,461.9 C295.4,462.3 297.3,462.7 299.3,463.1 C301.3,463.5 303.2,463.9 305.2,464.3 C307.1,464.8 309.1,465.2 311.1,465.6 C313.0,466.0 315.0,466.4 317.0,466.8 C318.9,467.2 320.9,467.6 322.8,468.0 C324.8,468.5 326.7,468.9 328.7,469.4 C330.6,469.9 332.5,470.4 334.5,470.9 C336.4,471.5 338.4,472.0 340.3,472.5 C342.2,473.0 344.2,473.5 346.1,474.0 C348.0,474.5 350.0,475.1 351.9,475.5 C353.9,475.9 355.8,476.3 357.8,476.7 C359.8,477.1 361.7,477.4 363.7,477.7 C365.7,478.1 367.7,478.4 369.7,478.7 C371.6,479.0 373.6,479.4 375.6,479.7 C377.6,480.0 379.5,480.3 381.5,480.5 C383.5,480.8 385.5,480.9 387.5,481.1 C389.5,481.3 391.5,481.4 393.5,481.6 C395.5,481.7 397.5,481.8 399.5,482.0 C401.5,482.1 403.5,482.3 405.5,482.4 C407.5,482.5 409.5,482.6 411.5,482.7 C413.5,482.8 415.5,482.9 417.5,483.0 C419.5,483.1 421.5,483.1 423.5,483.2 C425.5,483.3 427.5,483.3 429.5,483.4 C431.5,483.5 433.5,483.5 435.5,483.6 C437.5,483.8 439.5,483.9 441.5,484.1 C443.5,484.4 445.4,484.7 447.4,485.0 C449.4,485.3 451.4,485.6 453.4,486.0 C455.3,486.3 457.3,486.6 459.3,486.9 C461.3,487.3 463.2,487.6 465.2,487.9 C467.2,488.2 469.2,488.5 471.2,488.8 C473.1,489.1 475.1,489.4 477.1,489.6 C479.1,489.9 481.1,490.2 483.1,490.4 C485.0,490.7 487.0,490.9 489.0,491.2 C491.0,491.4 493.0,491.7 495.0,491.9 C497.0,492.1 499.0,492.3 501.0,492.4 C503.0,492.5 505.0,492.6 507.0,492.7 C509.0,492.8 511.0,492.9 513.0,493.0 C515.0,493.0 517.0,493.1 519.0,493.2 C521.0,493.3 523.0,493.4 525.0,493.5 C527.0,493.5 529.0,493.6 531.0,493.7 C533.0,493.8 535.0,493.9 537.0,494.0 C539.0,494.0 542.0,494.2 543.0,494.2" fill="none" stroke="#f20008" stroke-width="4.4" stroke-linejoin="round" stroke-linecap="round"/>
<path d="M541.4,530.6 C541.3,531.6 541.2,534.6 540.9,536.6 C540.7,538.5 540.6,540.6 540.0,542.3 C539.4,544.1 538.6,545.7 537.4,547.0 C536.2,548.3 534.5,549.2 532.8,549.9 C531.1,550.7 529.1,551.2 527.2,551.7 C525.3,552.2 523.3,552.7 521.4,553.1 C519.4,553.5 517.4,553.9 515.5,554.2 C513.5,554.5 511.5,554.7 509.5,554.9 C507.5,555.1 505.5,555.2 503.5,555.3 C501.5,555.5 499.5,555.6 497.5,555.8 C495.5,555.9 493.5,556.1 491.5,556.2 C489.5,556.4 487.5,556.5 485.5,556.7 C483.6,556.8 481.6,556.9 479.6,557.0 C477.6,557.1 475.6,557.2 473.6,557.3 C471.6,557.4 469.5,557.4 467.5,557.5 C465.5,557.5 463.5,557.6 461.5,557.6 C459.5,557.7 457.5,557.7 455.5,557.8 C453.5,557.8 451.5,557.9 449.5,557.9 C447.5,558.0 445.5,558.0 443.5,558.1 C441.5,558.1 439.5,558.2 437.5,558.2 C435.5,558.3 433.5,558.3 431.5,558.4 C429.5,558.4 427.5,558.5 425.5,558.5 C423.5,558.6 421.5,558.6 419.5,558.7 C417.5,558.7 415.5,558.8 413.5,558.8 C411.5,558.9 409.5,558.9 407.5,559.0 C405.5,559.0 403.5,559.1 401.5,559.1 C399.5,559.2 397.5,559.2 395.5,559.3 C393.5,559.3 391.5,559.4 389.5,559.4 C387.5,559.5 385.5,559.5 383.5,559.6 C381.5,559.6 379.5,559.7 377.5,559.7 C375.5,559.8 373.5,559.8 371.5,559.9 C369.4,559.9 367.4,560.0 365.4,560.0 C363.4,560.1 361.4,560.1 359.4,560.2 C357.4,560.3 355.4,560.3 353.4,560.4 C351.4,560.4 349.4,560.5 347.4,560.5 C345.4,560.6 343.4,560.6 341.4,560.7 C339.4,560.7 337.4,560.8 335.4,560.8 C333.4,560.9 331.4,560.9 329.4,561.0 C327.4,561.0 325.4,561.1 323.4,561.1 C321.4,561.2 319.4,561.2 317.4,561.3 C315.4,561.3 313.4,561.4 311.4,561.5 C309.4,561.5 307.4,561.6 305.4,561.6 C303.4,561.7 301.4,561.7 299.4,561.8 C297.4,561.8 295.4,561.9 293.4,561.9 C291.4,562.0 289.4,562.0 287.4,562.1 C285.4,562.1 283.4,562.2 281.4,562.2 C279.4,562.3 277.4,562.3 275.4,562.4 C273.4,562.4 271.4,562.5 269.4,562.5 C267.4,562.6 265.3,562.6 263.3,562.7 C261.3,562.8 259.3,562.8 257.3,562.9 C255.3,562.9 253.3,563.0 251.3,563.0 C249.3,563.1 247.3,563.1 245.3,563.2 C243.3,563.2 241.3,563.3 239.3,563.3 C237.3,563.4 235.3,563.4 233.3,563.5 C231.3,563.5 229.3,563.6 227.3,563.6 C225.3,563.7 223.3,563.7 221.3,563.8 C219.3,563.8 217.3,563.9 215.3,563.9 C213.3,564.0 211.3,564.0 209.3,564.1 C207.3,564.1 205.3,564.2 203.3,564.2 C201.3,564.3 199.3,564.3 197.3,564.4 C195.3,564.4 193.3,564.5 191.3,564.5 C189.3,564.6 187.3,564.6 185.3,564.7 C183.3,564.7 181.3,564.8 179.3,564.8 C177.3,564.9 175.3,564.9 173.3,565.0 C171.3,565.0 169.3,565.1 167.3,565.2 C165.3,565.3 163.3,565.4 161.3,565.6 C159.3,565.7 157.3,565.9 155.3,566.0 C153.3,566.1 151.3,566.3 149.3,566.4 C147.3,566.6 145.3,566.7 143.3,566.9 C141.3,567.0 139.3,567.2 137.3,567.3 C135.3,567.5 132.6,567.6 131.3,567.7 C130.0,567.8 129.6,567.8 129.3,567.8 M129.3,567.8 C129.4,566.8 129.5,563.8 129.6,561.8 C129.8,559.8 129.9,557.8 130.0,555.8 C130.2,553.8 130.3,551.8 130.5,549.8 C130.7,547.8 130.9,545.8 131.2,543.9 C131.5,541.9 131.7,539.8 132.2,538.0 C132.7,536.2 133.3,534.3 134.3,532.8 C135.4,531.4 136.8,530.3 138.4,529.4 C140.0,528.5 142.0,528.2 143.8,527.7 C145.7,527.3 147.8,527.0 149.7,526.7 C151.7,526.4 153.7,526.2 155.7,526.0 C157.7,525.8 159.7,525.6 161.7,525.5 C163.7,525.3 165.7,525.1 167.7,525.0 C169.7,524.9 171.7,524.9 173.7,524.8 C175.7,524.8 177.7,524.8 179.7,524.7 C181.7,524.7 183.7,524.7 185.7,524.7 C187.7,524.6 189.7,524.6 191.7,524.6 C193.7,524.6 195.7,524.5 197.7,524.5 C199.7,524.5 201.7,524.5 203.7,524.4 C205.7,524.4 207.7,524.4 209.7,524.3 C211.7,524.3 213.7,524.3 215.7,524.3 C217.7,524.2 219.7,524.2 221.7,524.2 C223.7,524.2 225.7,524.1 227.7,524.1 C229.8,524.1 231.8,524.1 233.8,524.0 C235.8,524.0 237.8,524.0 239.8,524.0 C241.8,523.9 243.8,523.9 245.8,523.9 C247.8,523.9 249.8,523.9 251.8,523.9 C253.8,523.9 255.8,523.9 257.8,523.9 C259.8,523.9 261.8,523.9 263.8,523.9 C265.8,523.9 267.8,523.9 269.8,523.9 C271.8,523.9 273.8,523.9 275.8,523.9 C277.8,523.9 279.8,523.9 281.8,523.9 C283.8,523.9 285.8,523.9 287.8,523.9 C289.8,523.9 291.8,523.9 293.8,523.9 C295.9,523.9 297.9,523.9 299.9,523.9 C301.9,523.9 303.9,523.9 305.9,523.9 C307.9,523.9 309.9,523.9 311.9,523.9 C313.9,523.9 315.9,523.9 317.9,523.9 C319.9,523.9 321.9,523.9 323.9,523.8 C325.9,523.8 327.9,523.7 329.9,523.6 C331.9,523.6 333.9,523.5 335.9,523.4 C337.9,523.3 339.9,523.2 341.9,523.1 C343.9,523.0 345.9,522.9 347.9,522.8 C349.9,522.7 351.9,522.6 353.9,522.5 C355.9,522.4 357.9,522.3 359.9,522.2 C361.9,522.1 363.9,522.0 365.9,521.9 C367.9,521.8 369.9,521.7 371.9,521.6 C373.9,521.5 375.9,521.4 377.9,521.3 C379.9,521.2 381.9,521.1 383.9,521.0 C385.9,520.9 387.9,520.7 389.9,520.6 C391.9,520.5 393.9,520.3 395.9,520.2 C397.9,520.0 399.9,519.9 401.9,519.8 C403.9,519.6 405.9,519.5 407.9,519.4 C409.9,519.2 411.9,519.1 413.9,519.0 C415.9,518.8 417.9,518.7 419.9,518.6 C421.9,518.4 423.9,518.3 425.9,518.2 C427.9,518.0 429.9,517.9 431.9,517.7 C433.9,517.6 435.9,517.5 437.9,517.3 C439.9,517.1 441.9,517.0 443.9,516.8 C445.8,516.6 447.8,516.4 449.8,516.2 C451.8,516.0 453.8,515.8 455.8,515.6 C457.8,515.4 459.8,515.2 461.8,515.0 C463.8,514.8 465.8,514.6 467.8,514.4 C469.8,514.2 471.8,514.0 473.8,513.8 C475.7,513.6 477.7,513.4 479.7,513.2 C481.7,513.0 483.7,512.9 485.7,512.6 C487.7,512.4 489.7,512.3 491.7,512.0 C493.7,511.8 495.7,511.5 497.6,511.1 C499.6,510.8 501.5,510.3 503.5,509.9 C505.4,509.4 507.4,508.9 509.3,508.4 C511.2,507.9 513.2,507.4 515.1,506.9 C517.1,506.4 519.0,506.0 521.0,505.5 C522.9,505.0 524.8,504.5 526.8,504.0 C528.7,503.5 530.7,503.0 532.6,502.5 C534.5,502.0 536.8,501.4 538.4,501.0 C540.0,500.6 541.7,500.2 542.3,500.0" fill="none" stroke="#a02de8" stroke-width="3.2" stroke-linejoin="round" stroke-linecap="round"/>
</g>
<g clip-path="url(#clbp)">
<path d="M1050.6,506.0 C1050.4,507.0 1049.9,509.9 1049.4,511.8 C1048.8,513.7 1048.1,515.5 1047.2,517.2 C1046.3,518.9 1045.2,520.7 1043.9,522.0 C1042.7,523.4 1041.2,524.5 1039.6,525.4 C1037.9,526.2 1036.0,526.6 1034.1,527.0 C1032.2,527.4 1030.2,527.6 1028.2,527.9 C1026.3,528.2 1024.3,528.5 1022.3,528.8 C1020.3,529.1 1018.3,529.3 1016.3,529.6 C1014.3,529.9 1012.4,530.2 1010.4,530.5 C1008.4,530.7 1006.4,531.0 1004.4,531.3 C1002.4,531.6 1000.4,531.9 998.5,532.1 C996.5,532.4 994.5,532.7 992.5,533.0 C990.5,533.3 988.5,533.6 986.6,533.9 C984.6,534.2 982.6,534.5 980.6,534.9 C978.7,535.2 976.7,535.5 974.7,535.9 C972.7,536.2 970.7,536.5 968.8,536.8 C966.8,537.2 964.8,537.5 962.8,537.8 C960.9,538.2 958.9,538.5 956.9,538.8 C954.9,539.2 953.0,539.5 951.0,540.0 C949.0,540.4 947.1,540.8 945.1,541.3 C943.2,541.7 941.3,542.3 939.3,542.8 C937.4,543.3 935.4,543.8 933.5,544.3 C931.6,544.8 929.6,545.3 927.7,545.8 C925.7,546.3 923.8,546.8 921.9,547.3 C919.9,547.8 918.0,548.3 916.1,548.8 C914.1,549.3 912.2,549.9 910.2,550.4 C908.3,550.9 906.4,551.4 904.4,551.9 C902.5,552.4 900.5,552.9 898.6,553.4 C896.7,553.9 894.7,554.4 892.8,554.9 C890.8,555.4 888.9,555.9 887.0,556.4 C885.0,556.9 883.1,557.5 881.1,557.9 C879.2,558.4 877.3,558.9 875.3,559.3 C873.3,559.7 871.4,560.0 869.4,560.2 C867.4,560.5 865.4,560.7 863.4,560.9 C861.4,561.0 859.4,561.2 857.4,561.4 C855.4,561.6 853.4,561.7 851.4,561.9 C849.4,562.1 847.4,562.2 845.4,562.5 C843.5,562.7 841.5,563.0 839.5,563.4 C837.6,563.8 835.6,564.3 833.7,564.8 C831.8,565.2 829.8,565.8 827.9,566.2 C825.9,566.6 824.0,567.1 822.0,567.3 C820.1,567.6 818.1,567.7 816.2,567.5 C814.2,567.4 812.3,566.9 810.4,566.5 C808.5,566.0 806.6,565.4 804.6,564.9 C802.7,564.4 800.7,563.9 798.8,563.4 C796.9,562.9 794.9,562.4 793.0,561.8 C791.1,561.3 789.2,560.7 787.2,560.2 C785.3,559.8 783.4,559.3 781.4,559.1 C779.5,558.8 777.5,558.8 775.5,558.8 C773.5,558.7 771.2,558.8 769.5,558.9 C767.8,558.9 766.2,559.0 765.5,559.0 M765.5,559.0 C765.6,558.0 765.7,555.0 765.8,553.0 C765.9,551.0 766.0,549.0 766.1,547.0 C766.2,545.0 766.3,543.0 766.4,541.0 C766.5,539.0 766.6,537.0 766.7,535.0 C766.9,533.0 766.9,531.0 767.1,529.0 C767.2,527.0 767.3,525.0 767.4,523.0 C767.6,521.0 767.8,519.0 768.0,517.0 C768.2,515.1 768.4,513.1 768.7,511.1 C769.0,509.1 769.3,507.1 769.7,505.2 C770.2,503.3 770.7,501.4 771.5,499.7 C772.4,498.0 773.5,496.4 774.8,495.1 C776.1,493.7 777.7,492.6 779.4,491.6 C781.1,490.6 782.9,489.8 784.7,489.1 C786.6,488.3 788.5,487.6 790.3,486.9 C792.2,486.2 794.1,485.5 795.9,484.7 C797.8,484.0 799.7,483.3 801.5,482.5 C803.4,481.7 805.2,481.0 807.1,480.2 C808.9,479.4 810.7,478.6 812.5,477.7 C814.3,476.8 816.1,475.9 817.8,474.9 C819.6,474.0 821.3,473.0 823.1,472.1 C824.9,471.3 826.7,470.5 828.6,469.8 C830.4,469.1 832.4,468.5 834.2,467.8 C836.1,467.2 837.9,466.3 839.8,465.8 C841.6,465.3 843.4,464.7 845.3,464.6 C847.1,464.5 849.0,464.9 850.9,465.2 C852.8,465.6 854.8,466.3 856.7,466.8 C858.6,467.3 860.5,467.9 862.4,468.5 C864.4,469.0 866.3,469.6 868.2,470.1 C870.2,470.6 872.1,471.1 874.0,471.7 C876.0,472.2 877.9,472.7 879.8,473.2 C881.8,473.7 883.7,474.3 885.6,474.8 C887.6,475.2 889.5,475.7 891.5,476.1 C893.4,476.5 895.4,476.9 897.4,477.2 C899.4,477.5 901.3,477.7 903.3,478.0 C905.3,478.2 907.3,478.5 909.3,478.7 C911.3,479.0 913.3,479.2 915.2,479.5 C917.2,479.7 919.2,480.0 921.2,480.2 C923.2,480.5 925.2,480.7 927.2,480.9 C929.2,481.1 931.2,481.3 933.1,481.5 C935.1,481.7 937.1,481.9 939.1,482.0 C941.1,482.2 943.1,482.3 945.1,482.5 C947.1,482.6 949.1,482.7 951.1,482.9 C953.1,483.0 955.1,483.2 957.1,483.3 C959.1,483.5 961.1,483.6 963.1,483.8 C965.1,483.9 967.1,484.0 969.1,484.1 C971.1,484.2 973.1,484.3 975.1,484.3 C977.1,484.4 979.1,484.5 981.1,484.5 C983.1,484.6 985.1,484.6 987.1,484.7 C989.1,484.7 991.1,484.8 993.1,484.8 C995.1,484.9 997.1,484.9 999.1,485.0 C1001.1,485.0 1003.1,485.1 1005.1,485.0 C1007.1,485.0 1009.1,484.9 1011.1,484.8 C1013.1,484.7 1015.1,484.5 1017.1,484.4 C1019.1,484.2 1021.1,484.0 1023.1,483.9 C1025.1,483.7 1027.1,483.5 1029.1,483.4 C1031.1,483.2 1033.0,483.0 1035.0,482.8 C1037.0,482.7 1039.0,482.5 1041.0,482.3 C1043.0,482.2 1045.2,482.0 1047.0,481.8 C1048.8,481.7 1051.2,481.5 1052.0,481.4" fill="none" stroke="#000000" stroke-width="4.4" stroke-linejoin="round" stroke-linecap="round"/>
<path d="M1050.6,508.0 C1050.4,508.9 1050.0,511.8 1049.2,513.5 C1048.5,515.1 1047.4,516.7 1046.1,518.0 C1044.8,519.3 1043.1,520.4 1041.4,521.3 C1039.7,522.2 1037.8,522.9 1035.9,523.5 C1034.0,524.1 1032.1,524.5 1030.1,524.9 C1028.2,525.3 1026.2,525.6 1024.2,525.9 C1022.2,526.2 1020.3,526.5 1018.3,526.9 C1016.3,527.2 1014.3,527.5 1012.4,527.8 C1010.4,528.1 1008.4,528.4 1006.4,528.8 C1004.5,529.1 1002.5,529.4 1000.5,529.7 C998.5,530.0 996.6,530.4 994.6,530.7 C992.6,531.0 990.6,531.3 988.7,531.6 C986.7,532.0 984.7,532.3 982.7,532.7 C980.8,533.0 978.8,533.3 976.8,533.7 C974.9,534.0 972.9,534.4 970.9,534.7 C969.0,535.1 967.0,535.4 965.0,535.8 C963.0,536.1 961.1,536.4 959.1,536.8 C957.1,537.1 955.2,537.5 953.2,537.8 C951.2,538.2 949.3,538.5 947.3,538.9 C945.3,539.2 943.3,539.5 941.4,539.9 C939.4,540.2 937.4,540.6 935.5,540.9 C933.5,541.3 931.5,541.6 929.5,542.0 C927.6,542.3 925.6,542.6 923.6,543.0 C921.7,543.3 919.7,543.7 917.7,544.0 C915.8,544.4 913.8,544.8 911.8,545.2 C909.9,545.6 907.9,546.1 906.0,546.5 C904.1,547.0 902.1,547.5 900.2,548.0 C898.2,548.4 896.3,548.9 894.4,549.4 C892.4,549.9 890.5,550.4 888.5,550.9 C886.6,551.4 884.6,551.9 882.7,552.3 C880.8,552.8 878.8,553.3 876.9,553.8 C875.0,554.4 873.0,554.9 871.1,555.4 C869.2,556.0 867.3,556.6 865.4,557.2 C863.5,557.7 861.5,558.3 859.6,558.9 C857.7,559.5 855.8,560.1 853.9,560.7 C852.0,561.3 850.1,561.9 848.2,562.5 C846.3,563.1 844.4,563.7 842.5,564.4 C840.7,565.1 838.8,565.9 837.0,566.8 C835.2,567.6 833.5,568.6 831.7,569.5 C829.9,570.4 828.2,571.4 826.4,572.4 C824.7,573.3 822.9,574.3 821.2,575.3 C819.4,576.3 817.7,577.3 816.0,578.3 C814.3,579.3 812.6,580.4 810.9,581.4 C809.1,582.4 807.4,583.5 805.7,584.4 C803.9,585.3 802.1,586.2 800.3,586.9 C798.4,587.7 796.5,588.3 794.6,588.9 C792.7,589.5 790.8,590.0 788.9,590.6 C787.0,591.1 785.0,591.7 783.1,592.1 C781.2,592.4 779.2,592.7 777.3,592.8 C775.3,592.9 773.3,592.7 771.4,592.6 C769.4,592.4 767.4,592.1 765.4,591.9 C763.4,591.7 761.4,591.5 759.4,591.3 C757.5,591.2 755.5,591.2 753.5,591.3 C751.5,591.4 749.6,591.7 747.6,592.0 C745.6,592.3 743.7,592.7 741.8,593.2 C739.8,593.7 737.9,594.2 736.1,594.9 C734.3,595.6 732.5,596.6 730.9,597.6 C729.2,598.6 727.5,599.8 726.0,601.0 C724.5,602.2 723.0,603.5 721.6,604.9 C720.3,606.4 719.1,608.0 717.9,609.6 C716.7,611.2 715.6,612.8 714.5,614.5 C713.4,616.2 712.4,617.9 711.4,619.6 C710.4,621.3 709.4,623.1 708.5,624.9 C707.6,626.6 706.8,628.5 706.0,630.3 C705.2,632.1 704.1,634.4 703.5,635.8 C702.9,637.1 702.5,638.0 702.3,638.5 M702.3,638.5 C702.4,637.5 702.7,634.5 702.9,632.5 C703.1,630.5 703.2,628.5 703.4,626.5 C703.6,624.6 703.8,622.6 704.0,620.6 C704.2,618.6 704.4,616.6 704.6,614.6 C704.8,612.6 704.9,610.6 705.1,608.6 C705.3,606.6 705.5,604.6 705.7,602.7 C705.9,600.7 706.1,598.7 706.3,596.7 C706.5,594.7 706.7,592.7 706.9,590.7 C707.1,588.7 707.3,586.7 707.5,584.7 C707.7,582.7 707.9,580.8 708.1,578.8 C708.3,576.8 708.5,574.8 708.7,572.8 C708.9,570.8 709.1,568.8 709.3,566.8 C709.5,564.8 709.7,562.8 710.0,560.9 C710.2,558.9 710.4,556.9 710.7,554.9 C711.0,552.9 711.2,550.9 711.6,549.0 C712.0,547.0 712.5,545.1 713.1,543.2 C713.7,541.3 714.5,539.5 715.2,537.6 C715.9,535.8 716.7,533.9 717.5,532.1 C718.3,530.3 719.0,528.4 719.9,526.6 C720.7,524.8 721.6,523.0 722.6,521.2 C723.5,519.5 724.6,517.8 725.6,516.1 C726.7,514.4 727.7,512.7 728.8,511.0 C729.9,509.3 731.0,507.6 732.1,506.0 C733.2,504.4 734.4,502.7 735.6,501.1 C736.8,499.6 738.1,498.1 739.4,496.5 C740.7,495.0 742.1,493.6 743.4,492.1 C744.8,490.6 746.1,489.1 747.5,487.6 C748.8,486.2 750.2,484.7 751.5,483.2 C752.9,481.8 754.3,480.4 755.8,479.0 C757.2,477.6 758.7,476.2 760.2,474.9 C761.6,473.5 763.1,472.2 764.6,470.9 C766.1,469.6 767.6,468.2 769.1,466.9 C770.7,465.7 772.2,464.4 773.9,463.3 C775.5,462.2 777.2,461.1 778.9,460.1 C780.6,459.1 782.4,458.1 784.2,457.2 C785.9,456.3 787.7,455.3 789.5,454.5 C791.3,453.8 793.2,453.1 795.1,452.6 C797.0,452.1 799.0,451.8 800.9,451.4 C802.9,451.1 804.9,450.8 806.8,450.6 C808.8,450.4 810.8,450.3 812.8,450.3 C814.8,450.3 816.8,450.4 818.8,450.6 C820.7,450.7 822.7,451.0 824.7,451.1 C826.7,451.3 828.7,451.5 830.7,451.8 C832.7,452.0 834.7,452.2 836.7,452.4 C838.6,452.7 840.6,452.9 842.6,453.2 C844.6,453.5 846.6,453.8 848.5,454.2 C850.5,454.5 852.5,454.8 854.4,455.2 C856.4,455.5 858.4,455.8 860.4,456.2 C862.3,456.5 864.3,456.9 866.3,457.2 C868.2,457.5 870.2,457.9 872.2,458.3 C874.1,458.6 876.1,459.0 878.1,459.4 C880.0,459.8 882.0,460.2 884.0,460.5 C885.9,460.9 887.9,461.3 889.8,461.7 C891.8,462.1 893.8,462.5 895.7,462.9 C897.7,463.3 899.7,463.7 901.6,464.1 C903.6,464.5 905.5,464.9 907.5,465.2 C909.5,465.6 911.4,465.9 913.4,466.2 C915.4,466.5 917.4,466.8 919.4,467.0 C921.3,467.3 923.3,467.5 925.3,467.8 C927.3,468.0 929.3,468.3 931.3,468.5 C933.3,468.8 935.2,469.0 937.2,469.2 C939.2,469.5 941.2,469.7 943.2,470.0 C945.2,470.2 947.2,470.4 949.2,470.6 C951.1,470.8 953.1,471.0 955.1,471.2 C957.1,471.3 959.1,471.5 961.1,471.6 C963.1,471.8 965.1,472.0 967.1,472.1 C969.1,472.3 971.1,472.4 973.1,472.6 C975.1,472.7 977.1,472.9 979.1,473.0 C981.1,473.2 983.1,473.3 985.1,473.4 C987.1,473.6 989.0,473.7 991.0,473.8 C993.0,473.9 995.0,474.0 997.0,474.1 C999.0,474.2 1001.0,474.3 1003.0,474.4 C1005.0,474.5 1007.0,474.6 1009.0,474.7 C1011.0,474.8 1013.0,474.9 1015.0,475.0 C1017.0,475.1 1019.0,475.2 1021.0,475.3 C1023.0,475.4 1025.0,475.5 1027.0,475.6 C1029.0,475.7 1031.0,475.8 1033.0,475.9 C1035.0,475.9 1037.0,476.0 1039.0,476.1 C1041.0,476.2 1043.0,476.2 1045.0,476.3 C1047.0,476.4 1049.8,476.5 1051.0,476.6 C1052.2,476.6 1051.8,476.6 1052.0,476.6" fill="none" stroke="#56f812" stroke-width="4.4" stroke-linejoin="round" stroke-linecap="round"/>
<path d="M1050.4,498.2 C1050.3,499.2 1049.9,502.2 1049.7,504.2 C1049.4,506.1 1049.2,508.2 1048.8,510.1 C1048.4,512.0 1048.0,513.9 1047.2,515.6 C1046.5,517.3 1045.4,518.9 1044.1,520.2 C1042.8,521.6 1041.2,522.8 1039.6,523.9 C1038.0,524.9 1036.2,525.8 1034.4,526.6 C1032.6,527.3 1030.7,527.7 1028.7,528.1 C1026.8,528.6 1024.8,528.9 1022.8,529.3 C1020.9,529.6 1018.9,530.0 1016.9,530.3 C1015.0,530.7 1013.0,531.0 1011.0,531.4 C1009.1,531.7 1007.1,532.1 1005.1,532.5 C1003.1,532.8 1001.2,533.2 999.2,533.5 C997.2,533.9 995.3,534.2 993.3,534.6 C991.3,534.9 989.3,535.3 987.4,535.6 C985.4,535.9 983.4,536.2 981.4,536.5 C979.5,536.8 977.5,537.1 975.5,537.4 C973.5,537.7 971.5,538.0 969.6,538.3 C967.6,538.6 965.6,538.9 963.6,539.2 C961.7,539.5 959.7,539.8 957.7,540.1 C955.7,540.5 953.7,540.8 951.8,541.2 C949.8,541.6 947.9,542.1 946.0,542.6 C944.0,543.1 942.1,543.7 940.2,544.2 C938.3,544.8 936.4,545.4 934.4,545.9 C932.5,546.5 930.6,547.1 928.7,547.7 C926.8,548.2 924.9,548.8 922.9,549.4 C921.0,550.0 919.1,550.5 917.2,551.1 C915.3,551.7 913.4,552.3 911.4,552.8 C909.5,553.4 907.6,554.0 905.7,554.6 C903.8,555.1 901.8,555.7 899.9,556.3 C898.0,556.8 896.1,557.4 894.2,558.0 C892.3,558.6 890.3,559.1 888.4,559.7 C886.5,560.3 884.6,560.8 882.7,561.4 C880.7,562.0 878.8,562.6 876.9,563.2 C875.0,563.8 873.1,564.4 871.2,565.0 C869.3,565.6 867.4,566.3 865.5,566.9 C863.6,567.6 861.7,568.2 859.8,568.9 C857.9,569.5 856.1,570.2 854.2,570.9 C852.3,571.5 850.4,572.2 848.5,572.8 C846.6,573.5 844.7,574.2 842.9,574.9 C841.0,575.6 839.1,576.3 837.3,577.1 C835.4,577.9 833.6,578.7 831.8,579.5 C830.0,580.3 828.1,581.2 826.3,582.0 C824.5,582.8 822.7,583.6 820.8,584.5 C819.0,585.3 817.2,586.1 815.4,587.0 C813.6,587.8 811.8,588.7 810.0,589.6 C808.2,590.5 806.4,591.4 804.7,592.4 C802.9,593.3 801.1,594.2 799.4,595.2 C797.6,596.1 795.8,597.1 794.1,598.0 C792.3,598.9 790.5,599.9 788.8,600.8 C787.0,601.8 785.2,602.7 783.5,603.7 C781.8,604.7 780.0,605.7 778.3,606.7 C776.6,607.7 774.9,608.8 773.1,609.8 C771.4,610.8 769.7,611.9 768.0,612.9 C766.3,613.9 764.6,615.0 762.8,616.0 C761.1,617.0 759.4,618.0 757.7,619.0 C755.9,620.0 754.2,621.0 752.4,622.0 C750.7,622.9 748.9,623.8 747.1,624.7 C745.3,625.7 743.5,626.6 741.8,627.4 C740.0,628.3 738.2,629.3 736.4,630.1 C734.6,631.0 732.8,631.8 730.9,632.6 C729.1,633.4 727.2,634.1 725.3,634.8 C723.5,635.5 721.6,636.1 719.7,636.8 C717.8,637.4 715.9,638.1 714.0,638.7 C712.1,639.4 710.2,640.0 708.3,640.6 C706.4,641.2 704.5,641.8 702.6,642.4 C700.7,643.1 698.8,643.8 697.0,644.6 C695.2,645.4 693.5,646.4 691.7,647.3 C690.0,648.3 688.3,649.4 686.7,650.5 C685.0,651.6 683.4,652.8 681.9,654.1 C680.4,655.3 679.0,656.7 677.6,658.2 C676.2,659.6 674.9,661.1 673.5,662.6 C672.2,664.1 670.9,665.6 669.6,667.1 C668.3,668.7 667.1,670.2 665.9,671.8 C664.7,673.5 663.7,675.1 662.6,676.8 C661.5,678.5 660.5,680.2 659.5,682.0 C658.5,683.7 657.4,685.4 656.5,687.1 C655.5,688.9 654.6,690.7 653.7,692.5 C652.9,694.3 652.1,696.1 651.3,697.9 C650.5,699.8 649.7,701.6 649.0,703.5 C648.2,705.3 647.4,707.2 646.7,709.0 C646.0,710.9 645.3,712.8 644.8,714.7 C644.2,716.6 643.7,718.5 643.2,720.5 C642.6,722.4 642.2,724.4 641.7,726.3 C641.2,728.2 640.7,730.4 640.3,732.1 C639.9,733.9 639.3,736.2 639.1,737.0 M639.1,737.0 C639.2,736.0 639.4,733.0 639.5,731.0 C639.7,729.0 639.8,727.0 639.9,725.0 C640.1,723.0 640.2,721.0 640.3,719.0 C640.5,717.0 640.6,715.0 640.8,713.0 C640.9,711.0 641.0,709.0 641.2,707.0 C641.3,705.0 641.5,703.0 641.6,701.0 C641.8,699.0 642.0,697.0 642.1,695.1 C642.3,693.1 642.5,691.1 642.7,689.1 C642.8,687.1 643.0,685.1 643.2,683.1 C643.4,681.1 643.5,679.1 643.7,677.1 C643.9,675.1 644.1,673.1 644.3,671.1 C644.5,669.1 644.7,667.1 644.9,665.1 C645.1,663.1 645.3,661.1 645.5,659.2 C645.7,657.2 645.9,655.2 646.1,653.2 C646.3,651.2 646.5,649.2 646.8,647.2 C647.1,645.2 647.3,643.2 647.6,641.3 C648.0,639.3 648.3,637.3 648.6,635.3 C648.9,633.4 649.3,631.4 649.6,629.4 C649.9,627.4 650.3,625.5 650.6,623.5 C651.0,621.5 651.3,619.5 651.7,617.6 C652.1,615.6 652.5,613.7 652.9,611.7 C653.4,609.8 653.8,607.8 654.3,605.9 C654.7,603.9 655.2,601.9 655.7,600.0 C656.1,598.0 656.6,596.1 657.0,594.1 C657.5,592.2 658.0,590.3 658.4,588.3 C658.9,586.4 659.4,584.4 659.9,582.5 C660.3,580.5 660.8,578.6 661.3,576.6 C661.8,574.7 662.3,572.8 662.8,570.8 C663.3,568.9 663.8,566.9 664.2,565.0 C664.7,563.0 665.2,561.1 665.7,559.2 C666.2,557.2 666.6,555.3 667.1,553.3 C667.6,551.4 668.1,549.4 668.5,547.5 C669.0,545.5 669.5,543.6 669.9,541.6 C670.4,539.7 670.9,537.7 671.4,535.8 C671.8,533.8 672.3,531.9 672.8,530.0 C673.3,528.0 673.7,526.1 674.2,524.1 C674.8,522.2 675.3,520.3 676.0,518.4 C676.6,516.5 677.3,514.6 678.1,512.8 C678.8,510.9 679.6,509.1 680.4,507.3 C681.2,505.4 682.0,503.6 682.8,501.7 C683.6,499.9 684.4,498.1 685.2,496.2 C686.1,494.4 686.9,492.6 687.9,490.9 C688.8,489.1 689.8,487.4 690.9,485.7 C691.9,483.9 692.9,482.2 694.0,480.5 C695.0,478.8 696.1,477.1 697.1,475.4 C698.2,473.7 699.2,472.0 700.4,470.4 C701.5,468.7 702.7,467.1 703.9,465.6 C705.1,464.0 706.5,462.5 707.8,461.0 C709.1,459.5 710.5,458.0 711.9,456.6 C713.2,455.1 714.5,453.6 715.9,452.1 C717.3,450.7 718.7,449.2 720.2,447.9 C721.6,446.6 723.2,445.4 724.8,444.3 C726.5,443.1 728.2,442.1 729.9,441.1 C731.6,440.1 733.4,439.1 735.1,438.1 C736.8,437.1 738.6,436.1 740.3,435.1 C742.1,434.2 743.9,433.3 745.7,432.6 C747.6,431.8 749.5,431.2 751.4,430.6 C753.3,429.9 755.2,429.4 757.1,428.8 C759.0,428.3 761.0,427.8 762.9,427.3 C764.9,426.9 766.8,426.6 768.8,426.4 C770.8,426.1 772.8,425.9 774.8,425.7 C776.8,425.5 778.8,425.4 780.7,425.3 C782.7,425.3 784.7,425.3 786.7,425.4 C788.7,425.5 790.7,425.7 792.7,425.9 C794.7,426.1 796.7,426.3 798.7,426.6 C800.6,426.9 802.6,427.2 804.6,427.6 C806.5,428.0 808.5,428.5 810.4,429.0 C812.4,429.4 814.3,429.9 816.3,430.4 C818.2,430.9 820.1,431.3 822.1,431.8 C824.1,432.2 826.0,432.6 828.0,433.0 C829.9,433.4 831.9,433.8 833.9,434.2 C835.8,434.6 837.8,435.0 839.8,435.3 C841.7,435.7 843.7,436.0 845.7,436.4 C847.7,436.7 849.6,437.1 851.6,437.4 C853.6,437.7 855.6,438.1 857.5,438.4 C859.5,438.8 861.5,439.1 863.4,439.5 C865.4,439.8 867.4,440.2 869.4,440.5 C871.3,440.8 873.3,441.1 875.3,441.3 C877.3,441.6 879.3,441.8 881.3,442.0 C883.3,442.2 885.3,442.4 887.3,442.6 C889.3,442.8 891.2,443.0 893.2,443.2 C895.2,443.4 897.2,443.6 899.2,443.8 C901.2,444.0 903.2,444.2 905.2,444.4 C907.2,444.6 909.2,444.8 911.2,445.0 C913.2,445.2 915.2,445.4 917.2,445.6 C919.1,445.8 921.1,446.0 923.1,446.2 C925.1,446.4 927.1,446.6 929.1,446.8 C931.1,447.0 933.1,447.2 935.1,447.4 C937.1,447.6 939.1,447.9 941.0,448.2 C943.0,448.5 945.0,448.9 946.9,449.2 C948.9,449.6 950.9,450.0 952.8,450.4 C954.8,450.8 956.8,451.2 958.7,451.6 C960.7,451.9 962.7,452.3 964.6,452.7 C966.6,453.1 968.6,453.5 970.5,453.8 C972.5,454.2 974.5,454.5 976.5,454.8 C978.4,455.2 980.4,455.5 982.4,455.8 C984.4,456.2 986.3,456.5 988.3,456.8 C990.3,457.1 992.3,457.5 994.2,457.7 C996.2,458.0 998.2,458.3 1000.2,458.5 C1002.2,458.7 1004.2,458.8 1006.2,458.9 C1008.2,459.1 1010.2,459.2 1012.2,459.4 C1014.2,459.5 1016.2,459.6 1018.2,459.7 C1020.2,459.8 1022.2,459.9 1024.2,459.9 C1026.2,459.9 1028.2,459.8 1030.1,459.7 C1032.1,459.5 1034.1,459.3 1036.1,459.0 C1038.1,458.8 1040.1,458.5 1042.1,458.3 C1044.1,458.0 1046.4,457.7 1048.0,457.5 C1049.7,457.3 1051.3,457.1 1052.0,457.0" fill="none" stroke="#1c2ced" stroke-width="4.4" stroke-linejoin="round" stroke-linecap="round"/>
<path d="M1050.4,501.5 C1050.2,502.5 1049.8,505.5 1049.2,507.3 C1048.6,509.1 1047.9,510.9 1046.8,512.3 C1045.7,513.8 1044.2,515.0 1042.6,516.0 C1041.0,517.0 1039.2,517.8 1037.3,518.4 C1035.5,519.1 1033.5,519.5 1031.6,520.0 C1029.7,520.4 1027.7,520.6 1025.7,520.9 C1023.7,521.2 1021.7,521.5 1019.7,521.8 C1017.8,522.1 1015.8,522.3 1013.8,522.6 C1011.8,522.9 1009.8,523.2 1007.8,523.4 C1005.9,523.7 1003.9,524.0 1001.9,524.3 C999.9,524.6 997.9,524.8 995.9,525.1 C994.0,525.4 992.0,525.7 990.0,526.0 C988.0,526.3 986.0,526.6 984.1,527.0 C982.1,527.3 980.1,527.7 978.2,528.0 C976.2,528.4 974.2,528.8 972.2,529.1 C970.3,529.5 968.3,529.8 966.3,530.2 C964.4,530.6 962.4,530.9 960.4,531.3 C958.5,531.6 956.5,532.0 954.5,532.4 C952.5,532.7 950.6,533.1 948.6,533.4 C946.6,533.8 944.7,534.1 942.7,534.5 C940.7,534.9 938.8,535.2 936.8,535.6 C934.8,535.9 932.8,536.3 930.9,536.7 C928.9,537.0 926.9,537.4 925.0,537.7 C923.0,538.1 921.0,538.4 919.1,538.8 C917.1,539.2 915.1,539.5 913.1,539.9 C911.2,540.2 909.2,540.6 907.2,540.9 C905.3,541.3 903.3,541.6 901.3,542.0 C899.3,542.3 897.4,542.7 895.4,543.1 C893.4,543.4 891.5,543.8 889.5,544.1 C887.5,544.5 885.6,544.9 883.6,545.3 C881.7,545.8 879.7,546.2 877.8,546.7 C875.8,547.2 873.9,547.8 872.0,548.3 C870.0,548.8 868.1,549.4 866.2,549.9 C864.3,550.4 862.3,551.0 860.4,551.5 C858.5,552.0 856.5,552.6 854.6,553.1 C852.7,553.6 850.7,554.1 848.8,554.7 C846.9,555.2 844.9,555.7 843.0,556.3 C841.1,556.8 839.1,557.3 837.2,557.8 C835.3,558.3 833.3,558.8 831.4,559.3 C829.4,559.8 827.5,560.3 825.6,560.7 C823.6,561.2 821.7,561.7 819.7,562.2 C817.8,562.7 815.8,563.2 813.9,563.7 C812.0,564.2 810.0,564.7 808.1,565.2 C806.1,565.7 804.2,566.2 802.3,566.8 C800.4,567.3 798.5,568.0 796.6,568.6 C794.7,569.2 792.8,569.9 790.9,570.6 C789.0,571.2 787.1,571.9 785.2,572.6 C783.3,573.2 781.5,573.9 779.6,574.6 C777.7,575.3 775.8,576.0 773.9,576.6 C772.0,577.3 770.2,578.0 768.3,578.7 C766.4,579.3 764.5,580.0 762.6,580.6 C760.7,581.1 758.7,581.6 756.8,582.1 C754.9,582.6 752.9,583.0 750.9,583.5 C749.0,583.9 747.0,584.3 745.1,584.7 C743.1,585.1 741.1,585.4 739.2,585.8 C737.2,586.1 735.2,586.4 733.3,586.9 C731.3,587.3 729.4,587.8 727.5,588.4 C725.7,589.1 723.9,589.9 722.1,590.8 C720.3,591.7 718.6,592.7 716.9,593.7 C715.2,594.8 713.6,595.9 712.1,597.1 C710.5,598.4 709.1,599.8 707.8,601.3 C706.4,602.7 705.1,604.2 703.8,605.7 C702.5,607.2 701.2,608.8 700.0,610.4 C698.8,612.0 697.7,613.6 696.7,615.3 C695.6,617.0 694.7,618.8 693.7,620.5 C692.7,622.3 691.8,624.0 690.8,625.8 C689.9,627.6 689.0,629.4 688.1,631.2 C687.3,633.0 686.5,634.8 685.8,636.7 C685.1,638.6 684.5,640.5 683.8,642.4 C683.2,644.2 682.6,646.1 682.0,648.1 C681.3,650.0 680.7,651.9 680.2,653.8 C679.6,655.7 679.1,657.6 678.7,659.6 C678.2,661.5 677.8,663.5 677.4,665.5 C677.0,667.4 676.6,669.4 676.2,671.4 C675.9,673.3 675.5,675.3 675.1,677.2 C674.7,679.2 674.3,681.2 674.0,683.2 C673.6,685.1 673.4,687.1 673.1,689.1 C672.8,691.1 672.6,693.1 672.3,695.0 C672.1,697.0 671.8,699.0 671.6,701.0 C671.3,703.0 671.1,705.0 670.9,707.0 C670.6,709.0 670.4,710.9 670.1,712.9 C669.9,714.9 669.5,717.9 669.4,718.9 M669.4,718.9 C669.5,717.9 669.8,714.9 670.1,712.9 C670.3,710.9 670.5,709.0 670.7,707.0 C670.9,705.0 671.1,703.0 671.4,701.0 C671.6,699.0 671.8,697.0 672.1,695.0 C672.3,693.1 672.6,691.1 672.8,689.1 C673.1,687.1 673.3,685.1 673.6,683.1 C673.8,681.1 674.1,679.2 674.3,677.2 C674.5,675.2 674.7,673.2 674.9,671.2 C675.2,669.2 675.3,667.2 675.5,665.2 C675.7,663.2 675.9,661.3 676.1,659.3 C676.3,657.3 676.5,655.3 676.7,653.3 C676.9,651.3 677.1,649.3 677.3,647.3 C677.6,645.3 677.8,643.4 678.1,641.4 C678.3,639.4 678.6,637.4 678.9,635.4 C679.1,633.4 679.4,631.5 679.7,629.5 C679.9,627.5 680.2,625.5 680.5,623.5 C680.8,621.6 681.1,619.6 681.4,617.6 C681.7,615.6 682.1,613.7 682.5,611.7 C682.8,609.7 683.2,607.8 683.6,605.8 C684.0,603.8 684.4,601.9 684.8,599.9 C685.2,598.0 685.6,596.0 685.9,594.0 C686.3,592.1 686.7,590.1 687.1,588.1 C687.5,586.2 687.9,584.2 688.3,582.3 C688.7,580.3 689.1,578.3 689.5,576.4 C689.9,574.4 690.3,572.5 690.7,570.5 C691.1,568.5 691.5,566.6 691.9,564.6 C692.3,562.7 692.8,560.7 693.3,558.8 C693.8,556.9 694.4,554.9 694.9,553.0 C695.5,551.1 696.1,549.2 696.7,547.3 C697.2,545.4 697.8,543.5 698.4,541.5 C699.0,539.6 699.6,537.7 700.2,535.8 C700.7,533.9 701.3,532.0 701.9,530.1 C702.6,528.2 703.2,526.3 703.9,524.4 C704.7,522.6 705.5,520.8 706.4,519.0 C707.3,517.2 708.3,515.5 709.3,513.8 C710.3,512.1 711.4,510.3 712.4,508.6 C713.4,506.9 714.4,505.2 715.5,503.5 C716.6,501.8 717.7,500.2 718.9,498.6 C720.1,497.0 721.4,495.5 722.7,494.0 C724.0,492.5 725.4,491.0 726.7,489.5 C728.1,488.0 729.4,486.5 730.8,485.1 C732.2,483.7 733.5,482.2 735.0,480.9 C736.5,479.6 738.1,478.4 739.7,477.1 C741.2,475.9 742.9,474.8 744.5,473.7 C746.2,472.5 747.8,471.3 749.5,470.3 C751.2,469.2 752.8,468.1 754.6,467.2 C756.4,466.3 758.2,465.5 760.0,464.7 C761.8,463.9 763.7,463.1 765.6,462.5 C767.4,461.8 769.3,461.0 771.2,460.5 C773.1,460.0 775.1,459.5 777.0,459.2 C779.0,458.8 781.0,458.6 782.9,458.4 C784.9,458.2 786.9,458.0 788.9,457.9 C790.9,457.8 792.9,457.8 794.9,457.9 C796.9,457.9 798.9,458.1 800.8,458.3 C802.8,458.5 804.8,458.7 806.8,458.9 C808.8,459.2 810.8,459.4 812.8,459.7 C814.7,460.0 816.7,460.3 818.7,460.6 C820.7,460.9 822.6,461.2 824.6,461.5 C826.6,461.8 828.6,462.2 830.6,462.4 C832.5,462.7 834.5,463.0 836.5,463.3 C838.5,463.5 840.5,463.7 842.5,463.9 C844.4,464.1 846.4,464.3 848.4,464.5 C850.4,464.7 852.4,464.9 854.4,465.1 C856.4,465.3 858.4,465.5 860.4,465.7 C862.4,465.9 864.4,466.1 866.3,466.3 C868.3,466.5 870.3,466.7 872.3,466.9 C874.3,467.0 876.3,467.2 878.3,467.4 C880.3,467.5 882.3,467.7 884.3,467.8 C886.3,468.0 888.3,468.1 890.3,468.3 C892.3,468.4 894.3,468.6 896.3,468.7 C898.2,468.9 900.2,469.0 902.2,469.2 C904.2,469.3 906.2,469.5 908.2,469.6 C910.2,469.7 912.2,469.8 914.2,469.9 C916.2,470.0 918.2,470.0 920.2,470.1 C922.2,470.2 924.2,470.2 926.2,470.2 C928.2,470.3 930.2,470.3 932.2,470.4 C934.2,470.4 936.2,470.5 938.2,470.5 C940.2,470.6 942.2,470.6 944.2,470.7 C946.2,470.7 948.2,470.8 950.2,470.9 C952.2,471.0 954.2,471.2 956.2,471.3 C958.2,471.4 960.2,471.6 962.2,471.7 C964.2,471.9 966.2,472.0 968.2,472.2 C970.2,472.3 972.2,472.5 974.1,472.6 C976.1,472.8 978.1,472.9 980.1,473.1 C982.1,473.2 984.1,473.4 986.1,473.5 C988.1,473.7 990.1,473.8 992.1,474.0 C994.1,474.1 996.1,474.3 998.1,474.4 C1000.1,474.6 1002.1,474.8 1004.1,474.9 C1006.1,475.1 1008.1,475.2 1010.1,475.4 C1012.1,475.5 1014.0,475.7 1016.0,475.8 C1018.0,475.9 1020.0,476.1 1022.0,476.2 C1024.0,476.3 1026.0,476.4 1028.0,476.4 C1030.0,476.4 1032.0,476.3 1034.0,476.3 C1036.0,476.2 1038.0,476.1 1040.0,476.1 C1042.0,476.0 1044.0,475.9 1046.0,475.8 C1048.0,475.8 1051.0,475.6 1052.0,475.6" fill="none" stroke="#f20008" stroke-width="4.4" stroke-linejoin="round" stroke-linecap="round"/>
<path d="M1050.0,478.0 C1049.8,479.0 1049.4,482.0 1049.0,483.9 C1048.6,485.9 1048.2,487.8 1047.8,489.8 C1047.3,491.7 1046.8,493.6 1046.1,495.4 C1045.3,497.2 1044.4,498.9 1043.3,500.5 C1042.2,502.0 1040.7,503.4 1039.3,504.7 C1037.8,506.0 1036.2,507.2 1034.5,508.2 C1032.9,509.2 1031.1,510.1 1029.3,510.9 C1027.4,511.7 1025.5,512.3 1023.6,512.8 C1021.7,513.3 1019.7,513.6 1017.8,514.0 C1015.8,514.4 1013.8,514.7 1011.9,515.1 C1009.9,515.5 1007.9,515.8 1006.0,516.1 C1004.0,516.5 1002.0,516.9 1000.0,517.2 C998.1,517.5 996.1,517.9 994.1,518.2 C992.1,518.5 990.2,518.8 988.2,519.0 C986.2,519.3 984.2,519.4 982.2,519.6 C980.2,519.7 978.2,519.8 976.2,519.9 C974.2,520.0 972.2,520.1 970.2,520.2 C968.2,520.3 966.2,520.4 964.2,520.5 C962.2,520.6 960.2,520.7 958.2,520.8 C956.2,520.9 954.2,521.0 952.2,521.1 C950.2,521.1 948.2,521.2 946.2,521.3 C944.2,521.4 942.2,521.5 940.2,521.6 C938.2,521.7 936.2,521.8 934.2,521.9 C932.2,522.0 930.2,522.1 928.2,522.2 C926.2,522.2 924.2,522.3 922.2,522.4 C920.2,522.4 918.2,522.5 916.2,522.6 C914.2,522.6 912.2,522.7 910.2,522.8 C908.2,522.8 906.2,522.9 904.2,523.0 C902.2,523.0 900.2,523.1 898.2,523.2 C896.2,523.2 894.2,523.3 892.2,523.4 C890.2,523.4 888.2,523.5 886.2,523.6 C884.2,523.6 882.2,523.7 880.2,523.8 C878.2,523.8 876.2,523.9 874.2,524.0 C872.2,524.0 870.2,524.1 868.2,524.1 C866.2,524.2 864.2,524.2 862.2,524.3 C860.2,524.3 858.2,524.4 856.2,524.4 C854.2,524.5 852.2,524.6 850.2,524.6 C848.2,524.7 846.2,524.7 844.2,524.8 C842.2,524.8 840.2,524.9 838.2,524.9 C836.2,524.9 834.2,525.0 832.2,525.0 C830.2,525.0 828.2,525.0 826.2,525.0 C824.2,525.1 822.2,525.1 820.2,525.1 C818.2,525.1 816.2,525.1 814.2,525.1 C812.2,525.1 810.2,525.1 808.2,525.1 C806.2,525.1 804.2,525.2 802.2,525.2 C800.2,525.2 798.2,525.2 796.2,525.2 C794.2,525.2 792.2,525.2 790.2,525.2 C788.2,525.2 786.2,525.2 784.2,525.3 C782.2,525.3 780.2,525.3 778.2,525.3 C776.2,525.3 774.2,525.3 772.2,525.3 C770.2,525.3 768.2,525.3 766.2,525.3 C764.2,525.4 762.2,525.4 760.2,525.4 C758.2,525.4 756.2,525.4 754.2,525.4 C752.2,525.5 750.2,525.5 748.2,525.6 C746.1,525.6 744.1,525.6 742.1,525.7 C740.1,525.7 738.1,525.8 736.1,525.8 C734.1,525.9 732.1,525.9 730.1,526.0 C728.1,526.0 726.1,526.1 724.1,526.1 C722.1,526.2 720.1,526.2 718.1,526.3 C716.1,526.3 714.1,526.4 712.1,526.4 C710.1,526.5 708.1,526.5 706.1,526.6 C704.1,526.6 702.1,526.7 700.1,526.7 C698.1,526.8 696.1,526.8 694.1,526.9 C692.1,526.9 690.1,527.0 688.1,527.0 C686.1,527.1 684.1,527.1 682.1,527.2 C680.1,527.3 678.1,527.3 676.1,527.4 C674.1,527.5 672.1,527.7 670.1,527.8 C668.1,527.9 666.1,528.1 664.1,528.2 C662.1,528.3 660.1,528.5 658.1,528.6 C656.2,528.7 654.2,528.9 652.2,529.0 C650.2,529.2 648.2,529.3 646.2,529.5 C644.2,529.6 641.5,529.9 640.2,530.0 C638.9,530.1 638.5,530.2 638.2,530.2 M638.2,530.2 C638.3,529.2 638.6,526.2 638.9,524.2 C639.1,522.2 639.3,520.2 639.6,518.3 C640.0,516.3 640.3,514.3 640.9,512.6 C641.6,510.8 642.4,509.1 643.6,507.9 C644.9,506.6 646.5,505.8 648.3,505.2 C650.0,504.6 652.0,504.4 654.0,504.2 C655.9,503.9 658.0,503.9 660.0,503.7 C662.0,503.6 664.0,503.5 666.0,503.4 C667.9,503.2 669.9,503.1 671.9,503.0 C673.9,502.9 675.9,502.8 677.9,502.6 C679.9,502.5 681.9,502.4 683.9,502.3 C685.9,502.1 687.9,502.0 689.9,501.9 C691.9,501.8 693.9,501.7 695.9,501.6 C697.9,501.5 699.9,501.4 701.9,501.4 C703.9,501.3 705.9,501.3 707.9,501.2 C709.9,501.2 711.9,501.1 713.9,501.1 C715.9,501.0 717.9,501.0 719.9,500.9 C721.9,500.9 723.9,500.8 725.9,500.8 C727.9,500.7 729.9,500.7 731.9,500.6 C733.9,500.6 735.9,500.5 737.9,500.5 C739.9,500.4 742.0,500.4 744.0,500.3 C746.0,500.3 748.0,500.2 750.0,500.2 C752.0,500.1 754.0,500.1 756.0,500.0 C758.0,500.0 760.0,499.9 762.0,499.9 C764.0,499.8 766.0,499.8 768.0,499.7 C770.0,499.7 772.0,499.7 774.0,499.6 C776.0,499.6 778.0,499.6 780.0,499.5 C782.0,499.5 784.0,499.5 786.0,499.5 C788.0,499.5 790.0,499.5 792.0,499.4 C794.0,499.4 796.0,499.4 798.0,499.4 C800.0,499.4 802.0,499.4 804.0,499.4 C806.0,499.3 808.0,499.3 810.0,499.3 C812.0,499.3 814.0,499.3 816.0,499.3 C818.0,499.2 820.0,499.2 822.0,499.2 C824.0,499.2 826.0,499.2 828.0,499.1 C830.0,499.1 832.0,499.1 834.0,499.0 C836.0,499.0 838.0,498.9 840.0,498.8 C842.0,498.7 844.0,498.5 846.0,498.4 C848.0,498.3 850.0,498.2 852.0,498.1 C854.0,497.9 856.0,497.8 858.0,497.7 C860.0,497.6 862.0,497.4 864.0,497.3 C866.0,497.2 868.0,497.1 870.0,497.0 C872.0,496.8 874.0,496.7 876.0,496.6 C878.0,496.5 880.0,496.3 882.0,496.2 C884.0,496.1 886.0,496.0 888.0,495.8 C890.0,495.7 892.0,495.6 894.0,495.5 C896.0,495.4 898.0,495.2 900.0,495.1 C902.0,495.0 904.0,494.9 906.0,494.7 C908.0,494.6 909.9,494.5 911.9,494.3 C913.9,494.1 915.9,493.9 917.9,493.8 C919.9,493.6 921.9,493.4 923.9,493.2 C925.9,493.0 927.9,492.8 929.9,492.6 C931.9,492.4 933.9,492.2 935.8,491.9 C937.8,491.7 939.8,491.5 941.8,491.3 C943.8,491.1 945.8,490.9 947.8,490.7 C949.8,490.5 951.8,490.3 953.8,490.1 C955.8,489.9 957.8,489.7 959.7,489.5 C961.7,489.3 963.7,489.1 965.7,488.9 C967.7,488.7 969.7,488.5 971.7,488.2 C973.7,488.0 975.7,487.8 977.7,487.5 C979.6,487.3 981.6,487.0 983.6,486.8 C985.6,486.5 987.6,486.3 989.6,486.0 C991.6,485.8 993.5,485.5 995.5,485.3 C997.5,485.0 999.5,484.8 1001.5,484.4 C1003.4,484.1 1005.4,483.7 1007.3,483.2 C1009.2,482.6 1011.0,481.8 1012.8,481.1 C1014.7,480.3 1016.5,479.4 1018.3,478.6 C1020.1,477.7 1021.9,476.9 1023.7,475.9 C1025.4,475.0 1027.2,474.1 1028.9,473.1 C1030.7,472.1 1032.4,471.0 1034.1,470.0 C1035.8,469.0 1037.5,467.9 1039.2,466.9 C1040.9,465.8 1042.6,464.8 1044.3,463.7 C1046.0,462.7 1048.2,461.4 1049.4,460.6 C1050.7,459.8 1051.6,459.3 1052.0,459.0" fill="none" stroke="#a02de8" stroke-width="3.2" stroke-linejoin="round" stroke-linecap="round"/>
</g>
<g clip-path="url(#clc)">
<path d="M540.5,938.0 C540.3,938.9 539.7,941.9 539.0,943.7 C538.3,945.5 537.6,947.2 536.4,948.5 C535.2,949.9 533.5,951.0 531.9,951.9 C530.2,952.8 528.3,953.5 526.4,954.1 C524.6,954.7 522.6,955.2 520.7,955.6 C518.7,956.1 516.7,956.5 514.8,956.9 C512.8,957.3 510.9,957.6 508.9,958.0 C506.9,958.4 505.0,958.8 503.0,959.2 C501.0,959.6 499.1,960.0 497.1,960.4 C495.2,960.8 493.2,961.2 491.2,961.5 C489.3,961.9 487.3,962.3 485.4,962.7 C483.4,963.1 481.4,963.5 479.5,963.9 C477.5,964.3 475.5,964.7 473.6,965.1 C471.6,965.5 469.7,965.9 467.7,966.3 C465.7,966.7 463.8,967.1 461.8,967.5 C459.8,967.9 457.9,968.2 455.9,968.6 C454.0,969.0 452.0,969.4 450.0,969.8 C448.1,970.2 446.1,970.6 444.2,971.0 C442.2,971.5 440.3,971.9 438.3,972.4 C436.4,972.9 434.5,973.5 432.5,974.0 C430.6,974.6 428.7,975.1 426.8,975.7 C424.9,976.3 422.9,976.8 421.0,977.4 C419.1,978.0 417.2,978.5 415.3,979.1 C413.4,979.7 411.4,980.3 409.6,980.9 C407.7,981.6 405.8,982.3 403.9,983.0 C402.1,983.8 400.3,984.6 398.4,985.4 C396.6,986.2 394.8,987.0 393.0,987.9 C391.2,988.7 389.4,989.6 387.6,990.5 C385.9,991.5 384.2,992.5 382.5,993.6 C380.8,994.6 379.1,995.7 377.4,996.8 C375.7,997.9 374.1,999.0 372.4,1000.1 C370.7,1001.2 369.1,1002.3 367.4,1003.5 C365.8,1004.6 364.1,1005.7 362.5,1006.9 C360.8,1008.0 359.2,1009.2 357.5,1010.3 C355.9,1011.4 354.3,1012.6 352.6,1013.7 C350.9,1014.7 349.2,1015.8 347.5,1016.8 C345.7,1017.8 344.0,1018.7 342.2,1019.7 C340.5,1020.6 338.7,1021.6 337.0,1022.7 C335.3,1023.7 333.7,1024.8 332.0,1025.9 C330.3,1027.0 328.7,1028.2 327.0,1029.3 C325.4,1030.4 323.7,1031.5 322.1,1032.7 C320.4,1033.8 318.8,1034.9 317.1,1036.0 C315.4,1037.1 313.8,1038.3 312.1,1039.3 C310.3,1040.2 308.6,1041.1 306.8,1042.0 C304.9,1042.8 303.1,1043.6 301.2,1044.3 C299.3,1044.9 297.4,1045.5 295.5,1046.1 C293.6,1046.7 291.7,1047.1 289.7,1047.6 C287.8,1048.1 285.8,1048.6 283.9,1049.1 C282.0,1049.6 280.0,1050.1 278.1,1050.7 C276.2,1051.3 274.3,1051.8 272.4,1052.5 C270.5,1053.1 268.7,1053.8 266.8,1054.6 C265.0,1055.5 263.3,1056.4 261.6,1057.4 C259.9,1058.5 258.3,1059.6 256.7,1060.8 C255.2,1062.1 253.7,1063.4 252.3,1064.8 C250.8,1066.2 249.5,1067.6 248.2,1069.2 C247.0,1070.7 245.8,1072.3 244.7,1074.0 C243.7,1075.7 242.7,1077.4 241.8,1079.2 C240.9,1081.0 240.1,1082.8 239.4,1084.7 C238.6,1086.5 238.0,1088.4 237.3,1090.3 C236.6,1092.2 236.0,1094.1 235.3,1095.9 C234.6,1097.8 233.9,1099.7 233.3,1101.6 C232.6,1103.5 231.9,1105.3 231.2,1107.2 C230.5,1109.1 229.9,1111.0 229.3,1112.9 C228.7,1114.8 228.1,1116.7 227.6,1118.7 C227.1,1120.6 226.6,1122.5 226.1,1124.5 C225.6,1126.4 225.0,1128.8 224.6,1130.3 C224.3,1131.7 224.0,1132.7 223.9,1133.2 M223.9,1133.2 C223.9,1132.2 224.1,1129.2 224.1,1127.2 C224.2,1125.2 224.3,1123.2 224.4,1121.2 C224.4,1119.2 224.5,1117.2 224.6,1115.2 C224.7,1113.2 224.8,1111.2 224.8,1109.2 C224.9,1107.2 225.0,1105.2 225.1,1103.2 C225.1,1101.2 225.2,1099.2 225.3,1097.2 C225.3,1095.2 225.4,1093.2 225.5,1091.2 C225.5,1089.2 225.6,1087.2 225.7,1085.2 C225.7,1083.2 225.8,1081.2 225.8,1079.2 C225.9,1077.2 226.0,1075.2 226.0,1073.2 C226.1,1071.2 226.2,1069.2 226.3,1067.2 C226.4,1065.2 226.5,1063.2 226.6,1061.2 C226.7,1059.2 226.9,1057.3 227.0,1055.3 C227.2,1053.3 227.4,1051.3 227.5,1049.3 C227.7,1047.3 227.8,1045.3 228.0,1043.3 C228.2,1041.3 228.4,1039.3 228.6,1037.3 C228.8,1035.3 229.0,1033.3 229.2,1031.4 C229.5,1029.4 229.7,1027.4 229.9,1025.4 C230.2,1023.4 230.4,1021.4 230.6,1019.4 C230.9,1017.5 231.1,1015.5 231.4,1013.5 C231.7,1011.5 232.0,1009.5 232.3,1007.6 C232.6,1005.6 232.9,1003.6 233.2,1001.6 C233.5,999.7 233.8,997.7 234.2,995.7 C234.5,993.7 234.8,991.8 235.1,989.8 C235.5,987.8 235.8,985.8 236.2,983.9 C236.5,981.9 236.9,979.9 237.3,978.0 C237.7,976.0 238.1,974.1 238.5,972.1 C238.9,970.1 239.3,968.2 239.7,966.2 C240.1,964.3 240.5,962.3 241.0,960.4 C241.4,958.4 242.0,956.5 242.5,954.6 C243.0,952.6 243.6,950.7 244.1,948.8 C244.7,946.9 245.2,944.9 245.8,943.0 C246.4,941.1 247.0,939.2 247.7,937.3 C248.3,935.4 248.9,933.5 249.6,931.6 C250.2,929.7 250.8,927.8 251.5,925.9 C252.2,924.1 252.8,922.2 253.5,920.3 C254.3,918.5 255.0,916.6 255.8,914.8 C256.6,912.9 257.5,911.1 258.3,909.3 C259.1,907.5 259.9,905.7 260.8,903.9 C261.7,902.1 262.6,900.3 263.6,898.6 C264.6,896.8 265.7,895.2 266.8,893.5 C267.9,891.8 269.0,890.2 270.2,888.6 C271.3,886.9 272.5,885.3 273.6,883.7 C274.8,882.1 276.0,880.5 277.3,878.9 C278.5,877.3 279.8,875.8 281.1,874.3 C282.4,872.8 283.8,871.3 285.1,869.8 C286.4,868.3 287.7,866.8 289.1,865.3 C290.4,863.9 291.8,862.4 293.2,860.9 C294.5,859.5 296.0,858.1 297.4,856.7 C298.8,855.2 300.2,853.8 301.6,852.4 C303.1,851.1 304.5,849.7 306.0,848.4 C307.6,847.1 309.2,846.0 310.8,844.9 C312.5,843.8 314.2,842.8 316.0,842.0 C317.8,841.2 319.6,840.5 321.5,840.2 C323.4,839.8 325.4,839.8 327.3,839.9 C329.3,840.0 331.2,840.4 333.2,840.7 C335.2,841.1 337.1,841.5 339.1,841.9 C341.0,842.3 343.0,842.7 345.0,843.1 C346.9,843.5 348.9,843.9 350.8,844.4 C352.8,844.9 354.7,845.4 356.6,846.0 C358.5,846.5 360.4,847.2 362.3,847.8 C364.2,848.4 366.1,849.1 368.0,849.7 C369.9,850.3 371.8,851.0 373.7,851.6 C375.6,852.2 377.5,852.9 379.4,853.5 C381.3,854.2 383.2,854.8 385.0,855.5 C386.9,856.2 388.8,856.8 390.7,857.5 C392.6,858.2 394.4,858.9 396.3,859.6 C398.2,860.3 400.1,861.0 402.0,861.6 C403.8,862.3 405.7,863.0 407.6,863.6 C409.5,864.2 411.4,864.8 413.4,865.3 C415.3,865.8 417.3,866.2 419.2,866.6 C421.2,867.0 423.1,867.4 425.1,867.8 C427.1,868.2 429.0,868.5 431.0,868.9 C432.9,869.3 434.9,869.7 436.9,870.1 C438.8,870.4 440.8,870.8 442.8,871.2 C444.7,871.5 446.7,871.8 448.7,872.2 C450.7,872.5 452.6,872.8 454.6,873.2 C456.6,873.5 458.6,873.8 460.5,874.1 C462.5,874.5 464.5,874.8 466.5,875.1 C468.4,875.4 470.4,875.7 472.4,876.0 C474.4,876.3 476.3,876.5 478.3,876.8 C480.3,877.1 482.3,877.4 484.3,877.6 C486.3,877.9 488.2,878.2 490.2,878.4 C492.2,878.7 494.2,879.0 496.2,879.2 C498.2,879.4 500.2,879.6 502.1,879.9 C504.1,880.1 506.1,880.3 508.1,880.5 C510.1,880.7 512.1,880.8 514.1,881.0 C516.1,881.2 518.1,881.4 520.1,881.6 C522.0,881.8 524.0,882.0 526.0,882.1 C528.0,882.3 530.0,882.4 532.0,882.5 C534.0,882.7 536.2,882.8 538.0,882.9 C539.8,883.0 542.2,883.2 543.0,883.2" fill="none" stroke="#000000" stroke-width="4.4" stroke-linejoin="round" stroke-linecap="round"/>
<path d="M541.0,936.0 C540.7,936.9 540.0,939.9 539.2,941.6 C538.4,943.3 537.4,945.0 536.1,946.4 C534.9,947.7 533.3,948.8 531.6,949.7 C529.9,950.6 528.0,951.2 526.1,951.8 C524.2,952.3 522.2,952.7 520.2,953.0 C518.3,953.4 516.3,953.7 514.3,954.0 C512.3,954.3 510.4,954.6 508.4,954.9 C506.4,955.2 504.4,955.5 502.4,955.8 C500.5,956.1 498.5,956.4 496.5,956.7 C494.5,957.0 492.5,957.3 490.6,957.6 C488.6,958.0 486.6,958.3 484.6,958.6 C482.7,959.0 480.7,959.3 478.7,959.6 C476.7,960.0 474.8,960.3 472.8,960.6 C470.8,960.9 468.8,961.3 466.9,961.6 C464.9,961.9 462.9,962.3 460.9,962.6 C459.0,962.9 457.0,963.3 455.0,963.6 C453.0,963.9 451.1,964.3 449.1,964.6 C447.1,964.9 445.1,965.2 443.2,965.6 C441.2,965.9 439.2,966.2 437.2,966.5 C435.2,966.8 433.3,967.1 431.3,967.5 C429.3,967.8 427.4,968.2 425.4,968.6 C423.4,969.0 421.5,969.4 419.5,969.9 C417.6,970.3 415.6,970.8 413.7,971.3 C411.8,971.8 409.8,972.3 407.9,972.9 C406.0,973.5 404.1,974.1 402.2,974.7 C400.3,975.3 398.4,976.0 396.5,976.6 C394.6,977.3 392.7,977.9 390.8,978.6 C388.9,979.3 387.0,979.9 385.2,980.6 C383.3,981.3 381.4,981.9 379.5,982.6 C377.6,983.2 375.7,983.9 373.8,984.6 C371.9,985.2 370.0,985.9 368.1,986.6 C366.2,987.2 364.4,987.9 362.5,988.5 C360.6,989.2 358.7,989.9 356.8,990.5 C354.9,991.2 353.0,991.8 351.1,992.4 C349.2,993.0 347.3,993.6 345.4,994.2 C343.4,994.8 341.5,995.3 339.6,995.8 C337.7,996.4 335.7,996.9 333.8,997.5 C331.9,998.1 330.0,998.7 328.1,999.4 C326.3,1000.1 324.4,1000.9 322.6,1001.7 C320.8,1002.6 319.0,1003.5 317.2,1004.3 C315.4,1005.2 313.6,1006.1 311.8,1007.0 C310.0,1008.0 308.3,1008.9 306.5,1009.8 C304.7,1010.7 302.9,1011.6 301.2,1012.6 C299.4,1013.5 297.6,1014.5 295.9,1015.4 C294.1,1016.4 292.4,1017.4 290.6,1018.3 C288.9,1019.3 287.1,1020.3 285.4,1021.2 C283.6,1022.2 281.8,1023.2 280.1,1024.1 C278.3,1025.1 276.6,1026.1 274.8,1027.0 C273.1,1028.0 271.3,1029.0 269.6,1029.9 C267.8,1030.9 266.1,1031.9 264.3,1032.8 C262.5,1033.8 260.8,1034.7 259.0,1035.7 C257.3,1036.7 255.5,1037.6 253.8,1038.6 C252.0,1039.5 250.2,1040.5 248.5,1041.5 C246.7,1042.4 245.0,1043.4 243.2,1044.3 C241.4,1045.2 239.6,1046.1 237.8,1046.9 C236.0,1047.8 234.2,1048.6 232.3,1049.4 C230.5,1050.3 228.7,1051.1 226.8,1051.9 C225.0,1052.7 223.2,1053.5 221.3,1054.2 C219.5,1054.9 217.6,1055.6 215.7,1056.2 C213.8,1056.9 211.8,1057.4 209.9,1058.0 C208.0,1058.6 206.1,1059.2 204.3,1060.0 C202.4,1060.7 200.6,1061.5 198.9,1062.4 C197.1,1063.3 195.4,1064.4 193.6,1065.4 C191.9,1066.4 190.2,1067.4 188.5,1068.5 C186.8,1069.6 185.2,1070.7 183.6,1071.9 C182.0,1073.1 180.5,1074.4 179.0,1075.8 C177.6,1077.1 176.1,1078.5 174.7,1079.9 C173.3,1081.3 171.9,1082.8 170.5,1084.2 C169.2,1085.7 167.9,1087.2 166.6,1088.7 C165.4,1090.3 164.0,1092.2 163.0,1093.5 C162.0,1094.9 161.1,1096.3 160.7,1096.8 M160.7,1096.8 C160.8,1095.8 161.0,1092.8 161.1,1090.8 C161.3,1088.8 161.4,1086.8 161.6,1084.8 C161.7,1082.8 161.9,1080.8 162.0,1078.8 C162.1,1076.9 162.3,1074.9 162.4,1072.9 C162.6,1070.9 162.7,1068.9 162.9,1066.9 C163.0,1064.9 163.1,1062.9 163.3,1060.9 C163.4,1058.9 163.6,1056.9 163.7,1054.9 C163.8,1052.9 163.9,1050.9 164.1,1048.9 C164.2,1046.9 164.3,1044.9 164.4,1042.9 C164.5,1040.9 164.7,1038.9 164.8,1036.9 C164.9,1034.9 165.0,1032.9 165.2,1030.9 C165.3,1029.0 165.4,1027.0 165.5,1025.0 C165.6,1023.0 165.8,1021.0 165.9,1019.0 C166.0,1017.0 166.1,1015.0 166.3,1013.0 C166.4,1011.0 166.5,1009.0 166.7,1007.0 C166.8,1005.0 167.0,1003.0 167.2,1001.0 C167.3,999.0 167.5,997.0 167.7,995.0 C167.8,993.0 168.0,991.1 168.2,989.1 C168.4,987.1 168.7,985.1 168.9,983.1 C169.2,981.1 169.6,979.2 169.9,977.2 C170.3,975.2 170.6,973.3 171.0,971.3 C171.4,969.3 171.8,967.4 172.2,965.4 C172.6,963.5 173.1,961.5 173.5,959.6 C174.0,957.6 174.4,955.7 174.9,953.7 C175.4,951.8 175.8,949.8 176.4,947.9 C176.9,946.0 177.5,944.1 178.2,942.3 C178.9,940.4 179.8,938.6 180.6,936.7 C181.4,934.9 182.2,933.1 183.0,931.3 C183.9,929.5 184.7,927.6 185.6,925.9 C186.5,924.1 187.5,922.3 188.5,920.6 C189.5,918.9 190.6,917.2 191.6,915.5 C192.7,913.8 193.8,912.1 194.8,910.4 C195.9,908.8 197.0,907.1 198.1,905.4 C199.2,903.8 200.4,902.1 201.6,900.5 C202.8,898.9 204.1,897.4 205.3,895.8 C206.6,894.3 207.8,892.7 209.1,891.2 C210.4,889.6 211.6,888.1 212.9,886.6 C214.2,885.0 215.5,883.5 216.8,882.0 C218.2,880.5 219.5,879.1 220.9,877.6 C222.3,876.2 223.7,874.8 225.1,873.4 C226.5,872.0 228.0,870.5 229.4,869.1 C230.8,867.7 232.2,866.3 233.7,865.0 C235.2,863.7 236.7,862.4 238.3,861.2 C239.9,860.1 241.6,859.0 243.3,858.0 C245.0,856.9 246.7,855.9 248.5,854.9 C250.2,853.9 251.9,852.9 253.7,852.0 C255.5,851.1 257.3,850.4 259.2,849.7 C261.0,849.0 263.0,848.4 264.9,847.8 C266.8,847.3 268.7,846.7 270.6,846.3 C272.6,845.9 274.5,845.6 276.5,845.4 C278.5,845.2 280.5,845.3 282.4,845.3 C284.4,845.3 286.4,845.5 288.4,845.6 C290.4,845.7 292.4,845.9 294.4,846.2 C296.4,846.4 298.3,846.8 300.3,847.2 C302.3,847.5 304.2,847.9 306.2,848.3 C308.1,848.7 310.1,849.1 312.1,849.4 C314.0,849.8 316.0,850.1 318.0,850.5 C319.9,850.8 321.9,851.2 323.9,851.5 C325.8,851.9 327.8,852.3 329.8,852.7 C331.7,853.2 333.7,853.6 335.6,854.1 C337.5,854.5 339.5,855.0 341.4,855.4 C343.4,855.9 345.3,856.4 347.3,856.8 C349.2,857.2 351.2,857.7 353.1,858.1 C355.1,858.5 357.1,858.9 359.0,859.3 C361.0,859.7 362.9,860.1 364.9,860.5 C366.9,860.9 368.8,861.3 370.8,861.7 C372.7,862.1 374.7,862.5 376.7,862.8 C378.6,863.2 380.6,863.6 382.6,863.9 C384.5,864.2 386.5,864.5 388.5,864.8 C390.5,865.1 392.5,865.4 394.4,865.6 C396.4,865.9 398.4,866.2 400.4,866.4 C402.4,866.7 404.4,867.0 406.3,867.2 C408.3,867.5 410.3,867.8 412.3,868.0 C414.3,868.3 416.3,868.6 418.2,868.8 C420.2,869.1 422.2,869.4 424.2,869.6 C426.2,869.9 428.1,870.1 430.1,870.4 C432.1,870.7 434.1,870.9 436.1,871.2 C438.0,871.5 440.0,871.8 442.0,872.2 C444.0,872.5 445.9,872.9 447.9,873.3 C449.9,873.7 451.8,874.1 453.8,874.5 C455.7,874.8 457.7,875.2 459.7,875.6 C461.6,876.0 463.6,876.4 465.6,876.8 C467.5,877.1 469.5,877.5 471.5,877.9 C473.4,878.2 475.4,878.5 477.4,878.9 C479.3,879.2 481.3,879.5 483.3,879.9 C485.3,880.2 487.2,880.5 489.2,880.8 C491.2,881.1 493.2,881.5 495.1,881.7 C497.1,882.0 499.1,882.2 501.1,882.4 C503.1,882.6 505.1,882.7 507.1,882.8 C509.1,883.0 511.1,883.1 513.1,883.2 C515.1,883.3 517.1,883.5 519.0,883.6 C521.0,883.7 523.0,883.8 525.0,884.0 C527.0,884.1 529.0,884.2 531.0,884.3 C533.0,884.5 535.0,884.6 537.0,884.7 C539.0,884.8 542.0,885.0 543.0,885.1" fill="none" stroke="#56f812" stroke-width="4.4" stroke-linejoin="round" stroke-linecap="round"/>
<path d="M540.5,936.0 C539.9,936.6 538.3,938.8 536.9,939.8 C535.4,940.8 533.6,941.4 531.8,942.0 C530.0,942.5 528.0,942.7 526.0,943.0 C524.0,943.3 522.0,943.5 520.0,943.7 C518.1,943.9 516.1,944.1 514.1,944.3 C512.1,944.5 510.1,944.7 508.1,944.9 C506.1,945.1 504.1,945.3 502.1,945.5 C500.1,945.7 498.1,945.9 496.1,946.1 C494.2,946.3 492.2,946.5 490.2,946.7 C488.2,946.9 486.2,947.1 484.2,947.3 C482.2,947.5 480.2,947.7 478.2,947.9 C476.2,948.1 474.2,948.3 472.2,948.5 C470.2,948.6 468.3,948.8 466.3,949.0 C464.3,949.2 462.3,949.4 460.3,949.6 C458.3,949.8 456.3,950.0 454.3,950.2 C452.3,950.4 450.3,950.6 448.3,950.8 C446.3,951.0 444.3,951.2 442.4,951.4 C440.4,951.6 438.4,951.8 436.4,952.0 C434.4,952.2 432.4,952.3 430.4,952.6 C428.4,952.8 426.4,953.0 424.4,953.3 C422.5,953.5 420.5,953.8 418.5,954.1 C416.5,954.3 414.5,954.6 412.5,954.9 C410.6,955.3 408.6,955.6 406.6,955.9 C404.7,956.3 402.7,956.6 400.7,957.0 C398.8,957.4 396.8,957.8 394.8,958.2 C392.9,958.6 390.9,959.0 388.9,959.3 C387.0,959.7 385.0,960.1 383.0,960.4 C381.1,960.8 379.1,961.1 377.1,961.5 C375.1,961.8 373.2,962.2 371.2,962.5 C369.2,962.8 367.2,963.1 365.3,963.4 C363.3,963.8 361.3,964.1 359.3,964.4 C357.4,964.6 355.4,964.9 353.4,965.2 C351.4,965.5 349.4,965.8 347.4,966.0 C345.5,966.2 343.5,966.4 341.5,966.7 C339.5,966.9 337.5,967.1 335.5,967.2 C333.5,967.4 331.5,967.6 329.5,967.8 C327.5,967.9 325.5,968.1 323.5,968.2 C321.5,968.4 319.5,968.5 317.5,968.6 C315.5,968.7 313.5,968.9 311.5,968.9 C309.5,969.0 307.5,969.1 305.5,969.2 C303.5,969.2 301.5,969.3 299.5,969.4 C297.5,969.4 295.5,969.5 293.5,969.6 C291.5,969.6 289.5,969.7 287.5,969.7 C285.5,969.8 283.5,969.8 281.5,969.9 C279.5,969.9 277.5,969.9 275.5,969.9 C273.5,969.9 271.5,969.9 269.5,969.9 C267.5,969.9 265.5,969.9 263.5,969.9 C261.5,969.9 259.5,969.9 257.5,969.9 C255.5,969.9 253.5,969.9 251.5,969.9 C249.5,969.9 247.5,969.9 245.5,969.9 C243.5,969.9 241.5,969.9 239.5,969.9 C237.5,969.9 235.5,969.9 233.5,969.9 C231.5,969.9 229.5,969.9 227.5,969.9 C225.5,969.9 223.5,969.9 221.5,969.9 C219.5,969.9 217.5,969.9 215.5,969.8 C213.5,969.8 211.5,969.8 209.5,969.8 C207.5,969.7 205.5,969.7 203.5,969.7 C201.5,969.7 199.5,969.6 197.5,969.6 C195.5,969.6 193.5,969.5 191.5,969.5 C189.4,969.5 187.4,969.5 185.4,969.4 C183.4,969.4 181.4,969.4 179.4,969.4 C177.4,969.3 175.4,969.3 173.4,969.3 C171.4,969.3 169.4,969.2 167.4,969.2 C165.4,969.2 163.4,969.1 161.4,969.1 C159.4,969.1 157.4,969.0 155.4,969.0 C153.4,969.0 151.4,969.0 149.4,968.9 C147.4,968.9 145.4,968.9 143.4,968.8 C141.4,968.8 139.4,968.8 137.4,968.7 C135.4,968.7 132.9,968.7 131.4,968.6 C129.9,968.6 128.9,968.6 128.4,968.6 M128.4,968.4 C128.5,967.4 128.6,964.4 128.8,962.4 C128.9,960.4 129.0,958.4 129.2,956.4 C129.3,954.4 129.4,952.4 129.7,950.4 C129.9,948.5 130.0,946.4 130.6,944.6 C131.1,942.8 131.7,940.9 132.7,939.5 C133.7,938.0 135.2,936.9 136.8,935.9 C138.4,935.0 140.4,934.4 142.2,933.8 C144.1,933.2 146.1,932.8 148.0,932.4 C150.0,931.9 152.0,931.6 153.9,931.3 C155.9,931.0 157.9,930.7 159.9,930.5 C161.9,930.2 163.9,929.9 165.9,929.7 C167.8,929.4 169.8,929.1 171.8,928.9 C173.8,928.6 175.8,928.4 177.8,928.2 C179.8,927.9 181.8,927.7 183.7,927.5 C185.7,927.3 187.7,927.1 189.7,926.9 C191.7,926.7 193.7,926.5 195.7,926.3 C197.7,926.1 199.7,925.9 201.7,925.7 C203.7,925.4 205.6,925.1 207.6,924.8 C209.6,924.5 211.6,924.1 213.5,923.7 C215.5,923.4 217.5,923.0 219.4,922.6 C221.4,922.2 223.4,921.8 225.3,921.4 C227.3,921.0 229.2,920.6 231.2,920.1 C233.1,919.6 235.0,919.1 236.9,918.4 C238.8,917.8 240.7,917.1 242.5,916.3 C244.4,915.6 246.3,914.9 248.1,914.1 C249.9,913.3 251.8,912.5 253.6,911.7 C255.4,910.9 257.2,910.0 259.0,909.1 C260.8,908.3 262.6,907.4 264.4,906.5 C266.2,905.6 268.0,904.7 269.8,903.9 C271.6,903.0 273.5,902.2 275.3,901.5 C277.2,900.8 279.1,900.1 281.0,899.4 C282.9,898.8 284.7,898.1 286.6,897.5 C288.5,896.8 290.4,896.2 292.3,895.6 C294.2,894.9 296.2,894.3 298.1,893.8 C300.0,893.2 301.9,892.6 303.8,892.1 C305.8,891.5 307.7,891.0 309.6,890.6 C311.6,890.2 313.6,889.8 315.5,889.5 C317.5,889.3 319.5,889.1 321.5,888.9 C323.5,888.7 325.5,888.6 327.5,888.4 C329.5,888.3 331.5,888.2 333.5,888.1 C335.5,887.9 337.5,887.8 339.5,887.7 C341.5,887.6 343.5,887.5 345.5,887.4 C347.5,887.3 349.5,887.2 351.5,887.1 C353.5,887.0 355.5,886.9 357.5,886.7 C359.5,886.6 361.5,886.5 363.5,886.4 C365.5,886.2 367.5,886.1 369.5,886.0 C371.5,885.8 373.5,885.7 375.5,885.6 C377.5,885.5 379.5,885.4 381.5,885.3 C383.5,885.3 385.5,885.3 387.5,885.3 C389.5,885.3 391.5,885.4 393.5,885.5 C395.5,885.5 397.5,885.6 399.5,885.7 C401.5,885.8 403.5,885.8 405.5,885.9 C407.5,886.1 409.5,886.2 411.5,886.4 C413.5,886.6 415.4,886.9 417.4,887.1 C419.4,887.4 421.4,887.8 423.3,888.1 C425.3,888.4 427.3,888.7 429.3,889.1 C431.3,889.4 433.2,889.7 435.2,890.0 C437.2,890.3 439.2,890.6 441.2,890.8 C443.1,891.1 445.1,891.3 447.1,891.5 C449.1,891.7 451.1,891.9 453.1,892.1 C455.1,892.3 457.1,892.5 459.1,892.7 C461.1,892.9 463.1,893.1 465.1,893.3 C467.1,893.5 469.0,893.7 471.0,893.9 C473.0,894.1 475.0,894.3 477.0,894.6 C479.0,894.8 481.0,895.0 483.0,895.2 C485.0,895.4 487.0,895.6 489.0,895.7 C491.0,895.9 493.0,896.1 495.0,896.2 C497.0,896.4 499.0,896.4 501.0,896.4 C503.0,896.5 505.0,896.4 507.0,896.4 C509.0,896.4 511.0,896.3 513.0,896.3 C515.0,896.2 517.0,896.2 519.0,896.1 C521.0,896.1 523.0,896.0 525.0,896.0 C527.0,896.0 529.0,895.9 531.0,895.9 C533.0,895.8 535.0,895.8 537.0,895.7 C539.0,895.7 542.0,895.6 543.0,895.6" fill="none" stroke="#1c2ced" stroke-width="4.4" stroke-linejoin="round" stroke-linecap="round"/>
<path d="M541.0,926.8 C540.9,927.8 540.8,930.8 540.5,932.8 C540.2,934.7 539.9,936.7 539.2,938.5 C538.5,940.2 537.7,942.0 536.4,943.3 C535.2,944.6 533.6,945.6 531.9,946.4 C530.2,947.2 528.3,947.6 526.3,948.0 C524.4,948.5 522.4,948.7 520.4,949.0 C518.5,949.4 516.5,949.6 514.5,949.9 C512.5,950.2 510.5,950.4 508.5,950.7 C506.5,951.0 504.6,951.2 502.6,951.5 C500.6,951.8 498.6,952.0 496.6,952.3 C494.6,952.6 492.6,952.8 490.7,953.1 C488.7,953.4 486.7,953.6 484.7,953.9 C482.7,954.1 480.7,954.4 478.7,954.7 C476.7,954.9 474.8,955.2 472.8,955.5 C470.8,955.7 468.8,956.0 466.8,956.3 C464.8,956.6 462.9,956.9 460.9,957.2 C458.9,957.5 456.9,957.8 454.9,958.1 C452.9,958.4 451.0,958.7 449.0,959.0 C447.0,959.3 445.0,959.6 443.0,959.9 C441.1,960.2 439.1,960.5 437.1,960.9 C435.1,961.2 433.2,961.6 431.2,962.0 C429.2,962.4 427.3,962.7 425.3,963.2 C423.4,963.6 421.4,964.0 419.4,964.4 C417.5,964.9 415.5,965.3 413.6,965.7 C411.6,966.2 409.7,966.7 407.8,967.2 C405.8,967.7 403.9,968.3 402.0,969.0 C400.1,969.6 398.2,970.2 396.3,970.9 C394.4,971.5 392.5,972.2 390.6,972.8 C388.7,973.5 386.8,974.1 384.9,974.7 C383.0,975.3 381.1,975.9 379.2,976.5 C377.3,977.1 375.4,977.7 373.4,978.2 C371.5,978.8 369.6,979.3 367.7,979.9 C365.7,980.4 363.8,980.9 361.8,981.4 C359.9,981.9 358.0,982.4 356.0,982.9 C354.1,983.3 352.1,983.8 350.2,984.3 C348.2,984.7 346.3,985.2 344.3,985.6 C342.3,986.0 340.4,986.4 338.4,986.8 C336.5,987.3 334.5,987.7 332.5,988.1 C330.6,988.5 328.6,989.0 326.7,989.4 C324.7,989.9 322.8,990.4 320.8,990.8 C318.9,991.3 316.9,991.8 315.0,992.2 C313.0,992.7 311.1,993.2 309.1,993.6 C307.2,994.1 305.3,994.6 303.3,995.0 C301.3,995.5 299.4,995.9 297.4,996.4 C295.5,996.8 293.5,997.3 291.6,997.7 C289.6,998.1 287.7,998.6 285.7,999.0 C283.8,999.4 281.8,999.8 279.8,1000.3 C277.9,1000.7 275.9,1001.1 273.9,1001.5 C272.0,1001.9 270.0,1002.3 268.0,1002.6 C266.1,1003.0 264.1,1003.4 262.1,1003.8 C260.2,1004.1 258.2,1004.5 256.2,1004.9 C254.3,1005.2 252.3,1005.5 250.3,1005.9 C248.3,1006.2 246.4,1006.5 244.4,1006.8 C242.4,1007.1 240.4,1007.3 238.4,1007.5 C236.4,1007.7 234.4,1007.8 232.4,1007.9 C230.4,1008.1 228.4,1008.2 226.4,1008.3 C224.4,1008.3 222.4,1008.4 220.4,1008.5 C218.4,1008.6 216.4,1008.6 214.4,1008.6 C212.4,1008.6 210.4,1008.6 208.4,1008.6 C206.4,1008.6 204.4,1008.6 202.4,1008.5 C200.4,1008.4 198.4,1008.3 196.4,1008.2 C194.4,1008.1 192.4,1008.0 190.4,1007.9 C188.4,1007.8 186.4,1007.7 184.4,1007.6 C182.4,1007.5 180.4,1007.4 178.4,1007.3 C176.4,1007.2 174.4,1007.1 172.4,1007.0 C170.4,1006.9 168.4,1006.8 166.4,1006.7 C164.4,1006.6 162.4,1006.4 160.4,1006.3 C158.4,1006.1 156.4,1006.0 154.4,1005.8 C152.4,1005.7 150.4,1005.5 148.4,1005.4 C146.4,1005.2 144.4,1005.1 142.4,1004.9 C140.4,1004.8 138.4,1004.6 136.4,1004.5 C134.4,1004.3 131.7,1004.1 130.4,1004.0 C129.1,1003.9 128.7,1003.9 128.4,1003.9 M128.4,1003.9 C128.5,1002.9 128.7,999.9 128.9,997.9 C129.0,995.9 129.2,993.9 129.3,991.9 C129.5,989.9 129.7,987.9 129.8,985.9 C130.0,983.9 130.1,981.9 130.3,980.0 C130.5,978.0 130.6,976.0 131.1,974.1 C131.5,972.3 132.1,970.5 133.1,968.9 C134.0,967.3 135.4,965.9 136.8,964.7 C138.3,963.4 140.0,962.3 141.6,961.2 C143.3,960.1 145.1,959.2 146.8,958.2 C148.5,957.2 150.3,956.3 152.1,955.3 C153.8,954.3 155.5,953.3 157.2,952.2 C158.9,951.1 160.5,950.0 162.2,948.8 C163.8,947.7 165.4,946.5 167.0,945.2 C168.6,944.0 170.2,942.8 171.7,941.5 C173.2,940.2 174.7,938.9 176.2,937.5 C177.6,936.2 179.0,934.8 180.4,933.3 C181.9,931.9 183.3,930.5 184.7,929.1 C186.0,927.6 187.4,926.2 188.8,924.7 C190.1,923.2 191.5,921.7 192.8,920.2 C194.1,918.7 195.5,917.2 196.8,915.7 C198.1,914.3 199.5,912.8 200.8,911.3 C202.2,909.8 203.6,908.4 205.0,907.0 C206.4,905.5 207.8,904.1 209.2,902.7 C210.6,901.3 212.0,899.9 213.5,898.5 C214.9,897.1 216.4,895.7 217.9,894.4 C219.4,893.1 221.0,891.9 222.5,890.6 C224.1,889.4 225.7,888.1 227.3,886.9 C228.9,885.7 230.4,884.5 232.0,883.3 C233.7,882.1 235.3,880.9 236.9,879.8 C238.6,878.7 240.3,877.6 241.9,876.5 C243.6,875.3 245.3,874.2 247.0,873.2 C248.6,872.1 250.3,871.0 252.1,870.1 C253.8,869.1 255.6,868.2 257.4,867.4 C259.2,866.6 261.1,865.8 263.0,865.1 C264.8,864.3 266.7,863.6 268.6,862.9 C270.4,862.3 272.3,861.7 274.3,861.1 C276.2,860.6 278.1,860.2 280.1,859.7 C282.0,859.3 284.0,858.9 286.0,858.6 C287.9,858.2 289.9,857.9 291.9,857.7 C293.9,857.5 295.9,857.4 297.9,857.4 C299.9,857.3 301.9,857.3 303.9,857.3 C305.9,857.4 307.9,857.4 309.9,857.5 C311.9,857.6 313.8,857.8 315.8,858.1 C317.8,858.3 319.8,858.6 321.8,858.9 C323.8,859.1 325.7,859.5 327.7,859.8 C329.7,860.1 331.7,860.4 333.6,860.7 C335.6,861.0 337.6,861.4 339.6,861.7 C341.6,862.0 343.5,862.3 345.5,862.7 C347.5,863.0 349.5,863.3 351.4,863.6 C353.4,863.9 355.4,864.2 357.4,864.5 C359.4,864.8 361.3,865.0 363.3,865.3 C365.3,865.6 367.3,865.8 369.3,866.1 C371.3,866.4 373.3,866.7 375.2,866.9 C377.2,867.2 379.2,867.4 381.2,867.6 C383.2,867.8 385.2,868.0 387.2,868.2 C389.2,868.3 391.2,868.5 393.2,868.6 C395.2,868.7 397.2,868.9 399.2,869.0 C401.2,869.1 403.2,869.3 405.2,869.4 C407.2,869.6 409.1,869.7 411.1,869.9 C413.1,870.1 415.1,870.4 417.1,870.6 C419.1,870.8 421.1,871.1 423.1,871.4 C425.0,871.6 427.0,871.9 429.0,872.2 C431.0,872.4 433.0,872.7 435.0,873.0 C436.9,873.3 438.9,873.6 440.9,873.9 C442.9,874.2 444.8,874.6 446.8,875.0 C448.8,875.4 450.7,875.8 452.7,876.2 C454.7,876.6 456.6,877.0 458.6,877.4 C460.5,877.8 462.5,878.2 464.5,878.5 C466.4,878.9 468.4,879.3 470.4,879.6 C472.3,880.0 474.3,880.3 476.3,880.7 C478.3,881.0 480.2,881.3 482.2,881.6 C484.2,882.0 486.2,882.3 488.2,882.6 C490.1,882.9 492.1,883.2 494.1,883.5 C496.1,883.8 498.1,884.0 500.1,884.2 C502.0,884.4 504.0,884.5 506.0,884.7 C508.0,884.9 510.0,885.0 512.0,885.1 C514.0,885.3 516.0,885.4 518.0,885.5 C520.0,885.6 522.0,885.8 524.0,885.8 C526.0,885.9 528.0,885.8 530.0,885.8 C532.0,885.7 534.0,885.6 536.0,885.5 C538.0,885.4 540.8,885.2 542.0,885.2 C543.2,885.1 542.8,885.1 543.0,885.1" fill="none" stroke="#f20008" stroke-width="4.4" stroke-linejoin="round" stroke-linecap="round"/>
</g>
<g clip-path="url(#clcp)">
<path d="M1050.5,890.0 C1050.2,890.9 1049.4,893.8 1048.4,895.3 C1047.5,896.9 1046.3,898.2 1044.8,899.2 C1043.3,900.2 1041.4,900.7 1039.6,901.2 C1037.7,901.6 1035.7,901.9 1033.7,902.2 C1031.7,902.5 1029.7,902.8 1027.8,903.1 C1025.8,903.4 1023.8,903.7 1021.8,904.0 C1019.8,904.3 1017.9,904.6 1015.9,904.9 C1013.9,905.2 1011.9,905.5 1009.9,905.8 C1008.0,906.2 1006.0,906.5 1004.0,906.9 C1002.1,907.2 1000.1,907.6 998.1,908.0 C996.2,908.4 994.2,908.8 992.2,909.2 C990.3,909.6 988.3,910.0 986.3,910.4 C984.4,910.7 982.4,911.1 980.4,911.5 C978.5,911.9 976.5,912.3 974.6,912.7 C972.6,913.1 970.6,913.5 968.7,914.0 C966.7,914.4 964.8,914.9 962.8,915.4 C960.9,915.8 958.9,916.3 957.0,916.8 C955.1,917.3 953.1,917.8 951.2,918.3 C949.2,918.8 947.3,919.2 945.3,919.7 C943.4,920.2 941.5,920.7 939.5,921.2 C937.6,921.7 935.6,922.2 933.7,922.7 C931.8,923.2 929.8,923.7 927.9,924.3 C926.0,924.8 924.1,925.4 922.1,926.0 C920.2,926.5 918.3,927.1 916.4,927.7 C914.5,928.3 912.5,928.9 910.6,929.4 C908.7,930.0 906.8,930.6 904.9,931.2 C903.0,931.7 901.0,932.3 899.1,932.9 C897.2,933.5 895.3,934.1 893.4,934.8 C891.5,935.5 889.7,936.2 887.8,937.0 C886.0,937.7 884.1,938.5 882.3,939.3 C880.5,940.1 878.6,940.9 876.8,941.7 C875.0,942.6 873.1,943.3 871.3,944.2 C869.5,945.0 867.7,945.8 865.9,946.8 C864.2,947.7 862.4,948.7 860.8,949.8 C859.1,950.9 857.5,952.1 855.8,953.2 C854.2,954.4 852.6,955.5 850.9,956.7 C849.3,957.9 847.7,959.0 846.0,960.2 C844.4,961.3 842.8,962.5 841.1,963.7 C839.5,964.8 837.9,966.0 836.2,967.1 C834.6,968.3 832.9,969.4 831.3,970.6 C829.7,971.7 828.0,972.9 826.4,974.0 C824.8,975.2 823.1,976.3 821.5,977.5 C819.8,978.6 818.2,979.8 816.6,980.9 C814.9,982.1 813.3,983.2 811.6,984.4 C810.0,985.5 808.4,986.7 806.7,987.8 C805.1,989.0 803.4,990.1 801.8,991.3 C800.2,992.5 798.5,993.6 796.9,994.8 C795.3,996.0 793.8,997.2 792.2,998.5 C790.7,999.8 789.3,1001.2 787.8,1002.6 C786.4,1004.0 785.0,1005.4 783.6,1006.9 C782.2,1008.3 780.8,1009.8 779.5,1011.3 C778.2,1012.8 777.0,1014.3 775.8,1015.9 C774.6,1017.5 773.4,1019.1 772.3,1020.8 C771.3,1022.5 770.3,1024.2 769.5,1026.0 C768.6,1027.8 767.9,1029.7 767.3,1031.6 C766.6,1033.4 765.9,1035.3 765.3,1037.2 C764.7,1039.1 764.0,1041.0 763.4,1042.9 C762.8,1044.9 762.2,1046.8 761.7,1048.7 C761.1,1050.6 760.5,1052.5 760.0,1054.5 C759.5,1056.4 759.1,1058.4 758.7,1060.3 C758.3,1062.3 758.1,1064.3 757.8,1066.2 C757.5,1068.2 757.2,1070.2 757.0,1072.2 C756.7,1074.2 756.5,1076.2 756.2,1078.2 C755.9,1080.1 755.7,1082.1 755.4,1084.1 C755.2,1086.1 754.9,1088.1 754.7,1090.1 C754.4,1092.1 754.2,1094.1 754.0,1096.0 C753.8,1098.0 753.7,1100.0 753.5,1102.0 C753.4,1104.0 753.3,1106.0 753.1,1108.0 C753.0,1110.0 752.9,1112.0 752.7,1114.0 C752.6,1116.0 752.5,1118.0 752.3,1120.0 C752.2,1122.0 752.1,1124.0 751.9,1126.0 C751.8,1128.0 751.7,1130.0 751.5,1132.0 C751.4,1134.0 751.3,1136.0 751.1,1138.0 C751.0,1140.0 750.9,1142.0 750.7,1144.0 C750.6,1146.0 750.4,1148.7 750.3,1150.0 C750.2,1151.3 750.2,1151.7 750.2,1152.0 M746.5,1160.0 C746.6,1159.0 746.8,1156.0 746.9,1154.0 C747.1,1152.0 747.2,1150.0 747.4,1148.0 C747.5,1146.0 747.7,1144.0 747.8,1142.0 C748.0,1140.0 748.2,1138.0 748.3,1136.0 C748.5,1134.0 748.7,1132.0 748.8,1130.1 C749.0,1128.1 749.2,1126.1 749.3,1124.1 C749.5,1122.1 749.7,1120.1 749.8,1118.1 C750.0,1116.1 750.2,1114.1 750.3,1112.1 C750.4,1110.1 750.6,1108.1 750.7,1106.1 C750.9,1104.1 751.0,1102.1 751.1,1100.1 C751.2,1098.1 751.3,1096.1 751.5,1094.1 C751.6,1092.1 751.7,1090.1 751.8,1088.1 C751.9,1086.1 752.1,1084.1 752.2,1082.1 C752.3,1080.1 752.4,1078.1 752.5,1076.1 C752.7,1074.1 752.8,1072.1 752.9,1070.1 C753.0,1068.1 753.1,1066.1 753.3,1064.1 C753.4,1062.1 753.6,1060.1 753.8,1058.1 C754.0,1056.1 754.3,1054.2 754.5,1052.2 C754.8,1050.2 755.1,1048.2 755.4,1046.2 C755.7,1044.3 756.0,1042.3 756.3,1040.3 C756.6,1038.3 756.9,1036.3 757.2,1034.4 C757.5,1032.4 757.8,1030.4 758.1,1028.4 C758.4,1026.4 758.7,1024.5 759.0,1022.5 C759.3,1020.5 759.6,1018.5 759.9,1016.5 C760.2,1014.6 760.6,1012.6 760.9,1010.6 C761.2,1008.6 761.5,1006.7 761.8,1004.7 C762.1,1002.7 762.5,1000.7 762.8,998.7 C763.1,996.8 763.4,994.8 763.7,992.8 C764.0,990.8 764.3,988.9 764.6,986.9 C764.9,984.9 765.2,982.9 765.5,980.9 C765.8,978.9 766.1,977.0 766.3,975.0 C766.6,973.0 766.9,971.0 767.1,969.0 C767.4,967.0 767.6,965.1 767.9,963.1 C768.2,961.1 768.5,959.1 768.8,957.1 C769.1,955.2 769.5,953.2 769.9,951.2 C770.3,949.3 770.7,947.3 771.1,945.3 C771.5,943.4 771.9,941.4 772.3,939.5 C772.8,937.5 773.3,935.6 773.8,933.6 C774.3,931.7 774.9,929.8 775.6,927.9 C776.2,926.0 776.8,924.1 777.4,922.2 C778.1,920.3 778.7,918.4 779.4,916.5 C780.0,914.6 780.6,912.7 781.3,910.8 C782.0,909.0 782.8,907.1 783.6,905.3 C784.4,903.5 785.3,901.7 786.2,899.9 C787.1,898.1 788.1,896.4 789.0,894.6 C790.0,892.8 790.9,891.1 791.9,889.3 C792.9,887.6 793.8,885.8 794.9,884.1 C795.9,882.4 797.0,880.7 798.1,879.1 C799.3,877.5 800.5,875.9 801.8,874.3 C803.0,872.8 804.2,871.2 805.5,869.6 C806.8,868.1 808.0,866.5 809.3,865.0 C810.6,863.5 811.9,862.0 813.3,860.5 C814.6,859.0 816.0,857.6 817.4,856.2 C818.9,854.7 820.3,853.3 821.7,851.9 C823.2,850.6 824.6,849.2 826.2,848.0 C827.7,846.7 829.3,845.6 831.0,844.5 C832.6,843.4 834.4,842.3 836.1,841.3 C837.8,840.4 839.6,839.3 841.4,838.6 C843.2,837.9 845.0,837.3 846.9,836.9 C848.8,836.6 850.8,836.6 852.8,836.5 C854.7,836.5 856.8,836.6 858.7,836.6 C860.7,836.7 862.8,836.7 864.8,836.8 C866.8,836.8 868.8,836.9 870.8,836.9 C872.8,837.0 874.8,837.0 876.8,837.1 C878.8,837.2 880.8,837.3 882.8,837.4 C884.7,837.6 886.7,837.9 888.7,838.1 C890.7,838.4 892.7,838.7 894.7,839.0 C896.6,839.3 898.6,839.6 900.6,839.9 C902.6,840.2 904.6,840.5 906.5,840.8 C908.5,841.1 910.5,841.4 912.5,841.7 C914.5,842.0 916.4,842.3 918.4,842.6 C920.4,842.8 922.4,843.1 924.4,843.4 C926.4,843.6 928.3,843.9 930.3,844.1 C932.3,844.4 934.3,844.6 936.3,844.9 C938.3,845.1 940.3,845.4 942.3,845.6 C944.2,845.9 946.2,846.1 948.2,846.4 C950.2,846.6 952.2,846.9 954.2,847.1 C956.2,847.4 958.2,847.6 960.1,847.8 C962.1,848.0 964.1,848.2 966.1,848.5 C968.1,848.7 970.1,848.9 972.1,849.0 C974.1,849.2 976.1,849.4 978.1,849.6 C980.1,849.8 982.1,850.0 984.1,850.2 C986.0,850.4 988.0,850.6 990.0,850.8 C992.0,851.0 994.0,851.2 996.0,851.4 C998.0,851.5 1000.0,851.7 1002.0,851.8 C1004.0,851.9 1006.0,852.0 1008.0,852.1 C1010.0,852.2 1012.0,852.3 1014.0,852.4 C1016.0,852.5 1018.0,852.6 1020.0,852.7 C1022.0,852.8 1024.0,852.9 1026.0,853.0 C1028.0,853.1 1030.0,853.2 1032.0,853.2 C1034.0,853.3 1036.0,853.3 1038.0,853.3 C1040.0,853.2 1042.0,853.1 1044.0,853.0 C1046.0,852.9 1048.7,852.8 1050.0,852.7 C1051.3,852.6 1051.7,852.6 1052.0,852.6" fill="none" stroke="#000000" stroke-width="4.4" stroke-linejoin="round" stroke-linecap="round"/>
<path d="M1050.5,888.0 C1050.2,888.9 1049.5,891.8 1048.6,893.3 C1047.7,894.8 1046.5,896.0 1045.1,897.0 C1043.6,897.9 1041.7,898.4 1039.9,899.0 C1038.0,899.5 1036.0,899.9 1034.1,900.3 C1032.1,900.7 1030.1,901.1 1028.2,901.5 C1026.2,901.9 1024.2,902.2 1022.2,902.6 C1020.3,903.0 1018.3,903.3 1016.3,903.7 C1014.4,904.1 1012.4,904.4 1010.4,904.8 C1008.5,905.2 1006.5,905.6 1004.5,905.9 C1002.6,906.3 1000.6,906.7 998.6,907.0 C996.7,907.4 994.7,907.8 992.7,908.1 C990.7,908.5 988.8,908.9 986.8,909.2 C984.8,909.6 982.9,910.0 980.9,910.3 C978.9,910.7 976.9,911.1 975.0,911.4 C973.0,911.8 971.0,912.1 969.1,912.5 C967.1,912.9 965.1,913.2 963.2,913.6 C961.2,913.9 959.2,914.3 957.2,914.7 C955.3,915.0 953.3,915.4 951.3,915.7 C949.4,916.1 947.4,916.5 945.4,916.8 C943.4,917.2 941.5,917.5 939.5,917.9 C937.5,918.3 935.6,918.6 933.6,919.0 C931.6,919.3 929.6,919.7 927.7,920.1 C925.7,920.4 923.7,920.8 921.8,921.1 C919.8,921.5 917.8,921.9 915.9,922.2 C913.9,922.6 911.9,923.0 910.0,923.4 C908.0,923.8 906.0,924.2 904.1,924.7 C902.1,925.1 900.2,925.5 898.2,926.0 C896.3,926.4 894.3,926.8 892.3,927.3 C890.4,927.7 888.4,928.1 886.5,928.6 C884.5,929.0 882.6,929.4 880.6,929.9 C878.6,930.3 876.7,930.7 874.7,931.1 C872.8,931.5 870.8,931.9 868.8,932.2 C866.8,932.6 864.9,932.9 862.9,933.2 C860.9,933.6 858.9,933.9 857.0,934.3 C855.0,934.6 853.0,935.0 851.1,935.5 C849.2,935.9 847.2,936.5 845.3,937.0 C843.4,937.6 841.5,938.3 839.6,938.9 C837.7,939.5 835.8,940.2 833.9,940.8 C832.0,941.5 830.1,942.1 828.2,942.8 C826.3,943.4 824.4,944.1 822.6,944.8 C820.7,945.5 818.8,946.3 817.0,947.1 C815.2,947.8 813.3,948.7 811.5,949.5 C809.7,950.3 807.9,951.1 806.0,952.0 C804.2,952.8 802.4,953.6 800.6,954.5 C798.8,955.4 797.0,956.3 795.2,957.2 C793.4,958.1 791.6,959.0 789.8,959.9 C788.1,960.8 786.3,961.8 784.6,962.8 C782.9,963.8 781.2,964.9 779.6,966.1 C778.0,967.2 776.4,968.5 774.8,969.7 C773.2,970.9 771.6,972.1 770.0,973.3 C768.4,974.6 766.9,975.8 765.2,976.9 C763.6,978.1 761.9,979.2 760.2,980.3 C758.5,981.3 756.8,982.2 755.0,983.2 C753.2,984.1 751.4,985.0 749.7,985.9 C747.9,986.8 746.1,987.8 744.4,988.8 C742.6,989.8 740.9,990.8 739.3,991.9 C737.6,993.0 735.9,994.1 734.3,995.2 C732.6,996.4 731.0,997.6 729.4,998.8 C727.9,1000.0 726.3,1001.3 724.8,1002.6 C723.3,1003.9 721.8,1005.3 720.4,1006.7 C719.0,1008.1 717.7,1009.6 716.4,1011.1 C715.1,1012.7 713.9,1014.2 712.7,1015.9 C711.6,1017.5 710.5,1019.2 709.4,1020.9 C708.4,1022.6 707.4,1024.3 706.4,1026.1 C705.5,1027.8 704.6,1029.6 703.8,1031.4 C702.9,1033.2 702.1,1035.1 701.4,1036.9 C700.6,1038.8 700.0,1040.7 699.3,1042.6 C698.7,1044.5 698.2,1046.4 697.7,1048.3 C697.2,1050.3 696.7,1052.2 696.3,1054.2 C695.9,1056.1 695.5,1058.1 695.2,1060.1 C694.8,1062.1 694.5,1064.0 694.2,1066.0 C693.9,1068.0 693.6,1070.0 693.3,1072.0 C693.0,1073.9 692.7,1075.9 692.4,1077.9 C692.1,1079.9 691.8,1081.9 691.5,1083.8 C691.1,1085.8 690.8,1087.8 690.5,1089.8 C690.2,1091.7 689.8,1093.7 689.5,1095.7 C689.1,1097.7 688.8,1099.6 688.4,1101.6 C688.1,1103.6 687.7,1105.5 687.3,1107.5 C687.0,1109.5 686.6,1111.5 686.3,1113.4 C685.9,1115.4 685.6,1117.4 685.2,1119.4 C684.9,1121.3 684.6,1123.3 684.3,1125.3 C683.9,1127.3 683.6,1129.2 683.3,1131.2 C683.0,1133.2 682.7,1135.2 682.4,1137.2 C682.0,1139.1 681.7,1141.1 681.4,1143.1 C681.1,1145.1 680.7,1147.5 680.5,1149.0 C680.2,1150.5 680.1,1151.5 680.0,1152.0 M677.0,1160.0 C677.1,1159.0 677.4,1156.0 677.6,1154.0 C677.7,1152.0 677.9,1150.0 678.1,1148.0 C678.3,1146.0 678.5,1144.1 678.7,1142.1 C678.9,1140.1 679.0,1138.1 679.2,1136.1 C679.4,1134.1 679.6,1132.1 679.8,1130.1 C680.0,1128.1 680.2,1126.1 680.4,1124.1 C680.5,1122.1 680.7,1120.1 680.9,1118.1 C681.1,1116.1 681.2,1114.1 681.4,1112.2 C681.5,1110.2 681.7,1108.2 681.8,1106.2 C681.9,1104.2 682.1,1102.2 682.2,1100.2 C682.3,1098.2 682.5,1096.2 682.6,1094.2 C682.7,1092.2 682.8,1090.2 683.0,1088.2 C683.1,1086.2 683.2,1084.2 683.4,1082.2 C683.5,1080.2 683.6,1078.2 683.8,1076.2 C683.9,1074.2 684.0,1072.2 684.1,1070.2 C684.3,1068.2 684.4,1066.2 684.6,1064.2 C684.7,1062.2 684.9,1060.2 685.1,1058.2 C685.3,1056.2 685.5,1054.2 685.7,1052.3 C685.9,1050.3 686.2,1048.3 686.4,1046.3 C686.7,1044.3 687.0,1042.3 687.3,1040.3 C687.5,1038.4 687.8,1036.4 688.1,1034.4 C688.4,1032.4 688.8,1030.5 689.1,1028.5 C689.4,1026.5 689.8,1024.5 690.2,1022.6 C690.6,1020.6 691.0,1018.6 691.4,1016.7 C691.7,1014.7 692.1,1012.8 692.5,1010.8 C692.9,1008.8 693.3,1006.9 693.7,1004.9 C694.1,1002.9 694.5,1001.0 694.9,999.0 C695.3,997.1 695.8,995.1 696.2,993.2 C696.7,991.2 697.2,989.3 697.6,987.3 C698.1,985.4 698.6,983.5 699.0,981.5 C699.5,979.5 699.8,977.6 700.2,975.6 C700.6,973.6 700.8,971.7 701.2,969.7 C701.5,967.7 701.8,965.7 702.1,963.8 C702.5,961.8 702.9,959.8 703.3,957.9 C703.7,955.9 704.2,954.0 704.6,952.0 C705.1,950.1 705.5,948.1 706.0,946.2 C706.5,944.2 706.9,942.3 707.4,940.3 C707.8,938.4 708.3,936.4 708.8,934.5 C709.3,932.6 709.8,930.6 710.4,928.7 C711.0,926.8 711.7,925.0 712.4,923.1 C713.1,921.2 713.9,919.4 714.6,917.5 C715.4,915.6 716.1,913.8 716.9,911.9 C717.6,910.1 718.4,908.2 719.1,906.4 C719.9,904.5 720.7,902.7 721.6,900.9 C722.5,899.1 723.4,897.3 724.4,895.6 C725.3,893.8 726.3,892.1 727.3,890.4 C728.3,888.6 729.3,886.9 730.4,885.2 C731.4,883.5 732.4,881.7 733.5,880.1 C734.6,878.4 735.8,876.8 737.1,875.3 C738.3,873.7 739.7,872.2 741.0,870.7 C742.3,869.2 743.7,867.8 745.0,866.3 C746.4,864.8 747.7,863.3 749.1,861.9 C750.5,860.4 751.8,859.0 753.3,857.6 C754.8,856.3 756.3,855.0 757.9,853.8 C759.5,852.6 761.1,851.5 762.7,850.3 C764.4,849.2 766.0,848.0 767.7,846.9 C769.4,845.9 771.1,844.8 772.8,844.0 C774.6,843.1 776.5,842.5 778.4,841.8 C780.2,841.2 782.2,840.8 784.1,840.3 C786.1,839.8 788.0,839.3 790.0,839.0 C791.9,838.6 793.9,838.4 795.9,838.1 C797.9,837.9 799.9,837.8 801.9,837.7 C803.9,837.6 805.9,837.5 807.9,837.4 C809.9,837.4 811.9,837.3 813.9,837.3 C815.9,837.3 817.9,837.4 819.9,837.4 C821.9,837.5 823.9,837.5 825.9,837.6 C827.9,837.7 829.9,837.7 831.9,837.8 C833.9,837.8 835.9,837.9 837.9,838.0 C839.9,838.1 841.9,838.2 843.9,838.3 C845.9,838.4 847.9,838.5 849.9,838.6 C851.9,838.7 853.9,838.8 855.9,839.0 C857.9,839.1 859.9,839.2 861.9,839.3 C863.9,839.4 865.9,839.6 867.9,839.7 C869.9,839.8 871.9,840.0 873.9,840.1 C875.9,840.3 877.8,840.5 879.8,840.7 C881.8,840.9 883.8,841.1 885.8,841.3 C887.8,841.5 889.8,841.7 891.8,841.9 C893.8,842.1 895.8,842.3 897.8,842.6 C899.7,842.8 901.7,843.0 903.7,843.2 C905.7,843.4 907.7,843.6 909.7,843.8 C911.7,844.1 913.7,844.3 915.7,844.5 C917.7,844.8 919.6,845.1 921.6,845.3 C923.6,845.6 925.6,845.8 927.6,846.1 C929.6,846.3 931.5,846.6 933.5,846.9 C935.5,847.1 937.5,847.4 939.5,847.6 C941.5,847.9 943.5,848.2 945.4,848.4 C947.4,848.7 949.4,848.9 951.4,849.2 C953.4,849.5 955.4,849.7 957.4,850.0 C959.3,850.2 961.3,850.5 963.3,850.8 C965.3,851.0 967.3,851.3 969.3,851.5 C971.3,851.8 973.2,852.0 975.2,852.3 C977.2,852.6 979.2,852.8 981.2,853.1 C983.2,853.3 985.2,853.5 987.1,853.7 C989.1,853.9 991.1,854.0 993.1,854.1 C995.1,854.2 997.1,854.2 999.1,854.3 C1001.1,854.3 1003.1,854.4 1005.1,854.4 C1007.1,854.5 1009.1,854.5 1011.1,854.6 C1013.1,854.6 1015.1,854.7 1017.1,854.7 C1019.1,854.8 1021.1,854.8 1023.1,854.8 C1025.1,854.8 1027.1,854.7 1029.1,854.6 C1031.1,854.4 1033.1,854.2 1035.1,854.0 C1037.1,853.8 1039.1,853.5 1041.1,853.3 C1043.1,853.1 1045.2,852.8 1047.0,852.6 C1048.9,852.4 1051.2,852.1 1052.0,852.0" fill="none" stroke="#56f812" stroke-width="4.4" stroke-linejoin="round" stroke-linecap="round"/>
<path d="M1050.5,890.0 C1050.0,890.8 1048.7,893.3 1047.5,894.6 C1046.2,895.8 1044.6,896.6 1042.9,897.3 C1041.2,897.9 1039.2,898.1 1037.2,898.4 C1035.3,898.8 1033.3,898.9 1031.3,899.2 C1029.3,899.4 1027.3,899.6 1025.3,899.9 C1023.3,900.1 1021.4,900.3 1019.4,900.6 C1017.4,900.8 1015.4,901.0 1013.4,901.3 C1011.4,901.5 1009.4,901.7 1007.4,902.0 C1005.5,902.2 1003.5,902.4 1001.5,902.6 C999.5,902.9 997.5,903.1 995.5,903.3 C993.5,903.6 991.6,903.8 989.6,904.1 C987.6,904.3 985.6,904.5 983.6,904.8 C981.6,905.0 979.6,905.3 977.7,905.5 C975.7,905.8 973.7,906.0 971.7,906.3 C969.7,906.5 967.7,906.8 965.7,907.0 C963.8,907.3 961.8,907.5 959.8,907.8 C957.8,908.0 955.8,908.3 953.8,908.5 C951.9,908.8 949.9,909.0 947.9,909.3 C945.9,909.6 943.9,909.9 942.0,910.1 C940.0,910.4 938.0,910.7 936.0,911.0 C934.0,911.3 932.1,911.6 930.1,911.8 C928.1,912.1 926.1,912.4 924.1,912.7 C922.2,913.0 920.2,913.3 918.2,913.5 C916.2,913.8 914.2,914.1 912.3,914.4 C910.3,914.6 908.3,914.9 906.3,915.1 C904.3,915.4 902.3,915.6 900.3,915.8 C898.4,916.1 896.4,916.3 894.4,916.5 C892.4,916.8 890.4,917.0 888.4,917.2 C886.4,917.5 884.4,917.7 882.5,917.9 C880.5,918.2 878.5,918.4 876.5,918.6 C874.5,918.8 872.5,919.1 870.5,919.3 C868.6,919.5 866.6,919.7 864.6,919.9 C862.6,920.2 860.6,920.4 858.6,920.6 C856.6,920.8 854.6,921.0 852.6,921.2 C850.6,921.4 848.7,921.6 846.7,921.8 C844.7,922.0 842.7,922.1 840.7,922.3 C838.7,922.5 836.7,922.7 834.7,922.8 C832.7,923.0 830.7,923.2 828.7,923.4 C826.7,923.6 824.8,923.7 822.8,924.0 C820.8,924.2 818.8,924.4 816.8,924.7 C814.8,924.9 812.8,925.2 810.9,925.5 C808.9,925.7 806.9,926.0 804.9,926.3 C802.9,926.6 801.0,926.9 799.0,927.1 C797.0,927.4 795.0,927.7 793.0,928.0 C791.1,928.3 789.1,928.5 787.1,928.8 C785.1,929.1 783.1,929.4 781.2,929.7 C779.2,930.0 777.2,930.3 775.2,930.6 C773.3,930.9 771.3,931.2 769.3,931.5 C767.3,931.8 765.3,932.0 763.4,932.3 C761.4,932.6 759.4,932.8 757.4,933.0 C755.4,933.2 753.4,933.4 751.4,933.7 C749.4,933.9 747.5,934.1 745.5,934.3 C743.5,934.5 741.5,934.7 739.5,934.9 C737.5,935.2 735.5,935.4 733.5,935.6 C731.5,935.8 729.6,936.0 727.6,936.2 C725.6,936.4 723.6,936.6 721.6,936.8 C719.6,937.0 717.6,937.2 715.6,937.4 C713.6,937.6 711.6,937.8 709.6,938.0 C707.7,938.2 705.7,938.3 703.7,938.5 C701.7,938.7 699.7,938.8 697.7,939.0 C695.7,939.1 693.7,939.3 691.7,939.4 C689.7,939.6 687.7,939.7 685.7,939.9 C683.7,940.0 681.7,940.2 679.7,940.3 C677.7,940.5 675.8,940.6 673.8,940.8 C671.8,940.9 669.8,941.1 667.8,941.3 C665.8,941.4 663.8,941.6 661.8,941.8 C659.8,942.0 657.8,942.2 655.8,942.3 C653.8,942.5 651.8,942.7 649.9,942.9 C647.9,943.1 645.9,943.3 643.9,943.4 C641.9,943.6 638.9,943.9 637.9,944.0 M637.9,944.0 C638.0,943.0 638.2,940.0 638.5,938.0 C638.7,936.1 638.9,934.0 639.4,932.1 C639.8,930.2 640.4,928.3 641.2,926.7 C642.1,925.0 643.3,923.4 644.6,922.1 C646.0,920.8 647.6,919.7 649.3,918.7 C651.0,917.8 652.9,917.0 654.7,916.2 C656.5,915.4 658.4,914.7 660.2,913.9 C662.0,913.1 663.9,912.3 665.7,911.5 C667.5,910.6 669.3,909.7 671.1,908.8 C672.8,907.9 674.6,906.9 676.3,905.9 C678.1,904.9 679.8,903.9 681.5,902.9 C683.2,901.9 684.9,900.8 686.6,899.8 C688.3,898.7 690.0,897.6 691.6,896.4 C693.3,895.3 694.9,894.1 696.5,893.0 C698.2,891.8 699.8,890.7 701.5,889.5 C703.1,888.4 704.8,887.3 706.4,886.2 C708.1,885.1 709.9,884.1 711.6,883.1 C713.3,882.1 715.1,881.2 716.8,880.2 C718.6,879.2 720.3,878.3 722.1,877.3 C723.9,876.4 725.7,875.5 727.5,874.6 C729.3,873.8 731.1,872.9 732.9,872.1 C734.7,871.3 736.6,870.5 738.4,869.7 C740.2,868.9 742.1,868.1 743.9,867.3 C745.8,866.6 747.6,865.9 749.5,865.2 C751.4,864.5 753.3,863.8 755.2,863.2 C757.1,862.5 759.0,861.9 760.9,861.3 C762.8,860.7 764.7,860.2 766.7,859.7 C768.6,859.2 770.6,858.8 772.5,858.4 C774.5,858.0 776.5,857.7 778.4,857.3 C780.4,857.0 782.4,856.6 784.3,856.4 C786.3,856.1 788.3,855.9 790.3,855.7 C792.3,855.4 794.3,855.2 796.3,855.0 C798.3,854.8 800.3,854.6 802.3,854.4 C804.2,854.3 806.2,854.1 808.2,853.9 C810.2,853.8 812.2,853.7 814.2,853.7 C816.2,853.7 818.2,853.8 820.2,853.8 C822.2,853.9 824.2,853.9 826.2,854.0 C828.2,854.1 830.2,854.2 832.2,854.2 C834.2,854.3 836.2,854.4 838.2,854.4 C840.2,854.5 842.2,854.6 844.2,854.6 C846.2,854.7 848.2,854.7 850.2,854.8 C852.2,854.8 854.2,854.9 856.2,854.9 C858.2,855.0 860.2,855.0 862.2,855.1 C864.2,855.2 866.2,855.2 868.2,855.3 C870.2,855.3 872.2,855.4 874.2,855.4 C876.2,855.5 878.2,855.5 880.2,855.6 C882.2,855.6 884.2,855.7 886.2,855.7 C888.2,855.8 890.2,855.8 892.2,855.9 C894.2,855.9 896.3,856.0 898.3,856.1 C900.3,856.1 902.3,856.2 904.3,856.2 C906.3,856.3 908.3,856.3 910.3,856.4 C912.3,856.5 914.3,856.6 916.2,856.8 C918.2,856.9 920.2,857.1 922.2,857.2 C924.2,857.4 926.2,857.5 928.2,857.7 C930.2,857.8 932.2,858.0 934.2,858.1 C936.2,858.3 938.2,858.4 940.2,858.6 C942.2,858.7 944.2,858.9 946.2,859.0 C948.2,859.2 950.2,859.3 952.2,859.5 C954.2,859.6 956.2,859.8 958.2,859.9 C960.2,860.1 962.2,860.2 964.2,860.3 C966.2,860.5 968.2,860.6 970.1,860.8 C972.1,860.9 974.1,861.1 976.1,861.2 C978.1,861.4 980.1,861.5 982.1,861.6 C984.1,861.7 986.1,861.9 988.1,861.9 C990.1,862.0 992.1,861.9 994.1,861.9 C996.1,861.9 998.1,861.9 1000.1,861.8 C1002.1,861.8 1004.1,861.7 1006.1,861.7 C1008.1,861.6 1010.1,861.6 1012.1,861.5 C1014.1,861.5 1016.1,861.5 1018.1,861.4 C1020.1,861.3 1022.1,861.3 1024.1,861.2 C1026.1,861.1 1028.1,860.9 1030.1,860.7 C1032.1,860.6 1034.1,860.3 1036.1,860.1 C1038.1,859.9 1040.1,859.7 1042.1,859.4 C1044.0,859.2 1046.4,858.9 1048.0,858.8 C1049.7,858.6 1051.3,858.4 1052.0,858.3" fill="none" stroke="#1c2ced" stroke-width="4.4" stroke-linejoin="round" stroke-linecap="round"/>
<path d="M1050.4,880.3 C1050.3,881.3 1050.1,884.3 1049.7,886.2 C1049.4,888.1 1049.0,890.0 1048.2,891.5 C1047.3,893.0 1046.1,894.2 1044.6,895.2 C1043.1,896.2 1041.2,896.7 1039.4,897.4 C1037.5,898.0 1035.5,898.4 1033.6,898.9 C1031.7,899.3 1029.7,899.7 1027.7,900.2 C1025.8,900.6 1023.8,900.9 1021.8,901.3 C1019.9,901.7 1017.9,902.1 1015.9,902.5 C1014.0,902.9 1012.0,903.3 1010.1,903.7 C1008.1,904.1 1006.1,904.5 1004.2,904.9 C1002.2,905.3 1000.2,905.7 998.3,906.1 C996.3,906.5 994.3,906.9 992.4,907.2 C990.4,907.6 988.4,908.0 986.5,908.4 C984.5,908.7 982.5,909.1 980.6,909.4 C978.6,909.8 976.6,910.1 974.6,910.5 C972.7,910.8 970.7,911.2 968.7,911.5 C966.7,911.9 964.8,912.2 962.8,912.5 C960.8,912.9 958.9,913.2 956.9,913.6 C954.9,913.9 952.9,914.3 951.0,914.6 C949.0,915.0 947.0,915.3 945.0,915.6 C943.1,916.0 941.1,916.3 939.1,916.7 C937.2,917.0 935.2,917.4 933.2,917.7 C931.2,918.1 929.3,918.4 927.3,918.8 C925.3,919.1 923.3,919.4 921.4,919.8 C919.4,920.1 917.4,920.5 915.5,920.8 C913.5,921.2 911.5,921.5 909.5,921.9 C907.6,922.3 905.6,922.6 903.6,923.0 C901.7,923.4 899.7,923.8 897.7,924.1 C895.8,924.5 893.8,924.9 891.8,925.3 C889.9,925.6 887.9,926.0 885.9,926.4 C884.0,926.8 882.0,927.1 880.0,927.5 C878.1,927.9 876.1,928.3 874.1,928.6 C872.1,929.0 870.2,929.3 868.2,929.7 C866.2,930.0 864.3,930.4 862.3,930.7 C860.3,931.0 858.3,931.4 856.4,931.7 C854.4,932.1 852.4,932.4 850.5,932.8 C848.5,933.2 846.5,933.6 844.6,934.1 C842.6,934.5 840.7,934.9 838.7,935.4 C836.8,935.8 834.8,936.3 832.9,936.7 C830.9,937.2 828.9,937.6 827.0,938.1 C825.1,938.6 823.1,939.1 821.2,939.6 C819.3,940.2 817.4,940.8 815.5,941.4 C813.6,942.1 811.7,942.7 809.8,943.4 C807.9,944.1 806.0,944.7 804.1,945.4 C802.3,946.1 800.4,946.8 798.5,947.5 C796.7,948.2 794.8,949.0 792.9,949.7 C791.1,950.5 789.2,951.2 787.3,952.0 C785.5,952.7 783.6,953.4 781.8,954.2 C779.9,954.9 778.0,955.7 776.2,956.4 C774.3,957.2 772.5,957.9 770.6,958.7 C768.8,959.4 766.9,960.2 765.1,960.9 C763.2,961.7 761.4,962.5 759.5,963.3 C757.7,964.1 755.9,965.0 754.1,965.8 C752.2,966.6 750.4,967.4 748.6,968.2 C746.8,969.1 744.9,969.9 743.1,970.7 C741.3,971.5 739.4,972.3 737.6,973.2 C735.8,974.0 734.0,974.8 732.1,975.6 C730.3,976.4 728.5,977.2 726.6,978.0 C724.8,978.8 722.9,979.5 721.0,980.3 C719.2,981.0 717.3,981.7 715.4,982.4 C713.6,983.2 711.7,983.9 709.9,984.6 C708.0,985.4 706.2,986.2 704.4,987.1 C702.6,988.0 700.9,989.0 699.2,990.1 C697.5,991.1 695.8,992.1 694.1,993.2 C692.4,994.3 690.8,995.4 689.2,996.6 C687.6,997.8 686.1,999.1 684.6,1000.4 C683.1,1001.7 681.7,1003.2 680.2,1004.6 C678.8,1006.0 677.4,1007.4 676.0,1008.8 C674.6,1010.2 673.1,1011.6 671.7,1013.0 C670.3,1014.4 668.8,1015.8 667.4,1017.2 C665.9,1018.6 664.4,1019.9 663.0,1021.3 C661.5,1022.6 660.0,1024.0 658.5,1025.3 C657.1,1026.7 655.6,1028.0 654.1,1029.4 C652.6,1030.8 651.2,1032.1 649.7,1033.5 C648.2,1034.8 646.7,1036.2 645.3,1037.5 C643.8,1038.9 641.9,1040.6 640.8,1041.6 C639.7,1042.6 639.0,1043.3 638.6,1043.6 M638.6,1043.6 C638.8,1042.6 639.2,1039.6 639.5,1037.7 C639.8,1035.7 640.1,1033.7 640.4,1031.7 C640.7,1029.8 641.0,1027.8 641.4,1025.8 C641.7,1023.8 642.1,1021.9 642.4,1019.9 C642.8,1017.9 643.2,1016.0 643.6,1014.0 C644.0,1012.1 644.4,1010.1 644.9,1008.2 C645.4,1006.2 646.0,1004.3 646.6,1002.4 C647.3,1000.6 648.0,998.7 648.7,996.8 C649.5,995.0 650.2,993.1 651.0,991.3 C651.8,989.4 652.5,987.6 653.4,985.8 C654.2,983.9 655.1,982.1 655.9,980.4 C656.8,978.6 657.7,976.8 658.6,975.0 C659.5,973.2 660.4,971.4 661.3,969.6 C662.2,967.8 663.1,966.0 664.0,964.2 C664.9,962.4 665.8,960.6 666.6,958.9 C667.5,957.1 668.4,955.3 669.3,953.5 C670.2,951.7 671.1,949.9 672.0,948.1 C672.9,946.3 673.8,944.5 674.7,942.7 C675.6,940.9 676.5,939.2 677.4,937.4 C678.3,935.6 679.2,933.8 680.1,932.0 C681.0,930.2 681.9,928.4 682.8,926.7 C683.7,924.9 684.7,923.2 685.7,921.4 C686.7,919.7 687.7,917.9 688.7,916.2 C689.7,914.5 690.7,912.7 691.7,911.0 C692.7,909.3 693.7,907.6 694.8,905.9 C695.9,904.2 697.0,902.6 698.3,901.0 C699.5,899.4 700.8,897.9 702.1,896.4 C703.4,894.9 704.7,893.4 706.1,891.9 C707.4,890.5 708.8,889.0 710.1,887.5 C711.5,886.0 712.8,884.5 714.2,883.1 C715.6,881.7 717.0,880.3 718.5,878.9 C719.9,877.5 721.4,876.2 722.9,874.8 C724.4,873.5 725.9,872.1 727.3,870.8 C728.8,869.5 730.3,868.1 731.8,866.8 C733.4,865.6 734.9,864.3 736.5,863.1 C738.1,861.8 739.7,860.7 741.3,859.5 C742.9,858.3 744.6,857.2 746.2,856.1 C747.9,854.9 749.5,853.8 751.2,852.8 C752.9,851.7 754.7,850.8 756.4,849.9 C758.2,849.0 760.1,848.2 761.9,847.5 C763.8,846.7 765.6,846.0 767.5,845.3 C769.4,844.6 771.3,844.0 773.2,843.5 C775.1,842.9 777.1,842.6 779.0,842.2 C781.0,841.8 783.0,841.5 784.9,841.2 C786.9,841.0 788.9,840.7 790.9,840.5 C792.9,840.3 794.9,840.2 796.9,840.2 C798.9,840.1 800.9,840.1 802.9,840.1 C804.9,840.1 806.9,840.1 808.9,840.2 C810.9,840.2 812.9,840.3 814.9,840.4 C816.9,840.5 818.9,840.6 820.9,840.7 C822.9,840.9 824.9,841.0 826.8,841.1 C828.8,841.3 830.8,841.4 832.8,841.5 C834.8,841.7 836.8,841.8 838.8,842.0 C840.8,842.1 842.8,842.3 844.8,842.4 C846.8,842.6 848.8,842.8 850.8,842.9 C852.8,843.1 854.8,843.3 856.8,843.5 C858.8,843.6 860.8,843.8 862.8,844.0 C864.7,844.2 866.7,844.3 868.7,844.5 C870.7,844.7 872.7,844.8 874.7,845.0 C876.7,845.2 878.7,845.3 880.7,845.5 C882.7,845.6 884.7,845.8 886.7,845.9 C888.7,846.1 890.7,846.2 892.7,846.4 C894.7,846.5 896.7,846.7 898.7,846.8 C900.7,847.0 902.6,847.1 904.6,847.3 C906.6,847.4 908.6,847.6 910.6,847.7 C912.6,847.9 914.6,848.0 916.6,848.2 C918.6,848.3 920.6,848.5 922.6,848.6 C924.6,848.8 926.6,848.9 928.6,849.0 C930.6,849.2 932.6,849.3 934.6,849.5 C936.6,849.6 938.6,849.8 940.6,849.9 C942.6,850.1 944.6,850.2 946.5,850.4 C948.5,850.6 950.5,850.8 952.5,851.0 C954.5,851.2 956.5,851.4 958.5,851.7 C960.5,851.9 962.5,852.2 964.4,852.4 C966.4,852.7 968.4,852.9 970.4,853.2 C972.4,853.4 974.4,853.7 976.3,853.9 C978.3,854.2 980.3,854.4 982.3,854.6 C984.3,854.8 986.3,855.1 988.3,855.2 C990.3,855.4 992.3,855.4 994.3,855.5 C996.3,855.6 998.3,855.7 1000.3,855.7 C1002.3,855.8 1004.3,855.8 1006.3,855.9 C1008.3,855.9 1010.3,856.0 1012.3,856.0 C1014.3,856.1 1016.3,856.1 1018.3,856.2 C1020.3,856.2 1022.3,856.2 1024.3,856.2 C1026.2,856.1 1028.2,855.9 1030.2,855.7 C1032.2,855.5 1034.2,855.2 1036.2,855.0 C1038.1,854.7 1040.1,854.4 1042.1,854.1 C1044.1,853.8 1046.4,853.4 1048.0,853.2 C1049.7,852.9 1051.3,852.7 1052.0,852.6" fill="none" stroke="#f20008" stroke-width="4.4" stroke-linejoin="round" stroke-linecap="round"/>
</g>
<path transform="translate(595.73,263.90) scale(32.3,-32.3)" d="M0.228,0 L0.228,0.488 L0.069,0.488 L0.069,0.598 C0.17,0.602 0.232,0.645 0.248,0.71 L0.378,0.71 L0.378,0 Z" fill="#000" stroke="#000" stroke-width="0.0186" stroke-linejoin="round"/>
<path transform="translate(595.73,647.00) scale(32.3,-32.3)" d="M0.228,0 L0.228,0.488 L0.069,0.488 L0.069,0.598 C0.17,0.602 0.232,0.645 0.248,0.71 L0.378,0.71 L0.378,0 Z" fill="#000" stroke="#000" stroke-width="0.0186" stroke-linejoin="round"/>
<path transform="translate(595.73,1043.70) scale(32.3,-32.3)" d="M0.228,0 L0.228,0.488 L0.069,0.488 L0.069,0.598 C0.17,0.602 0.232,0.645 0.248,0.71 L0.378,0.71 L0.378,0 Z" fill="#000" stroke="#000" stroke-width="0.0186" stroke-linejoin="round"/>
<path transform="translate(1088.47,154.40) scale(33.5,-33.5)" d="M0.228,0 L0.228,0.488 L0.069,0.488 L0.069,0.598 C0.17,0.602 0.232,0.645 0.248,0.71 L0.378,0.71 L0.378,0 Z" fill="#000" stroke="#000" stroke-width="0.0179" stroke-linejoin="round"/>
<path transform="translate(770.60,427.00) scale(31,-31)" d="M0.228,0 L0.228,0.488 L0.069,0.488 L0.069,0.598 C0.17,0.602 0.232,0.645 0.248,0.71 L0.378,0.71 L0.378,0 Z" fill="#1c2ced" stroke="#1c2ced" stroke-width="0.0194" stroke-linejoin="round"/>
<path transform="translate(749.60,703.50) scale(31,-31)" d="M0.228,0 L0.228,0.488 L0.069,0.488 L0.069,0.598 C0.17,0.602 0.232,0.645 0.248,0.71 L0.378,0.71 L0.378,0 Z" fill="#1c2ced" stroke="#1c2ced" stroke-width="0.0194" stroke-linejoin="round"/>
</svg></body></html>
